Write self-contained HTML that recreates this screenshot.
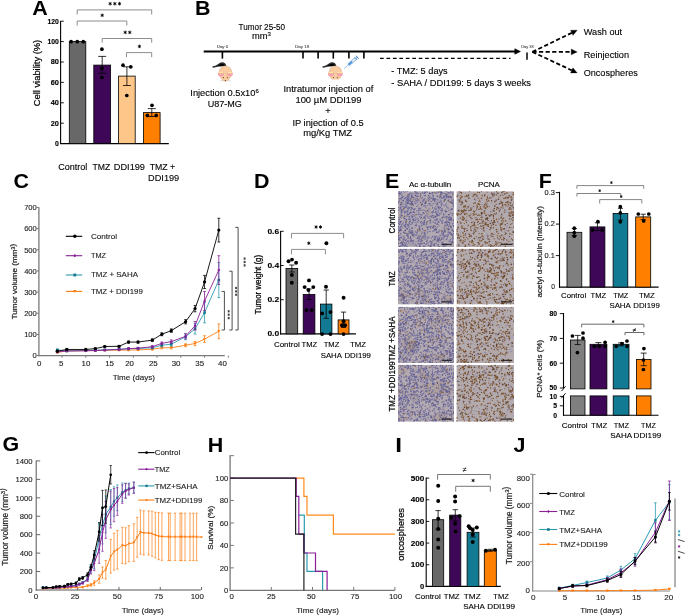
<!DOCTYPE html>
<html><head><meta charset="utf-8"><title>Figure</title>
<style>html,body{margin:0;padding:0;background:#fff;width:685px;height:615px;overflow:hidden}svg{display:block;will-change:transform}text{font-family:"Liberation Sans", sans-serif}</style>
</head><body><svg width="685" height="615" viewBox="0 0 685 615" font-family='"Liberation Sans", sans-serif'><rect width="685" height="615" fill="#fff"/><text transform="translate(32.2,14.6) scale(1.1,1)" font-size="19.5" font-weight="bold">A</text>
<line x1="60.6" y1="21" x2="60.6" y2="144.1" stroke="#000" stroke-width="1.1"/>
<line x1="60.1" y1="143.6" x2="168.8" y2="143.6" stroke="#000" stroke-width="1.1"/>
<line x1="60.6" y1="123.2" x2="63.8" y2="123.2" stroke="#000" stroke-width="0.9"/>
<line x1="60.6" y1="102.8" x2="63.8" y2="102.8" stroke="#000" stroke-width="0.9"/>
<line x1="60.6" y1="82.4" x2="63.8" y2="82.4" stroke="#000" stroke-width="0.9"/>
<line x1="60.6" y1="62" x2="63.8" y2="62" stroke="#000" stroke-width="0.9"/>
<line x1="60.6" y1="41.6" x2="63.8" y2="41.6" stroke="#000" stroke-width="0.9"/>
<line x1="60.6" y1="21.2" x2="63.8" y2="21.2" stroke="#000" stroke-width="0.9"/>
<text x="58.9" y="146" font-size="6.9" font-weight="bold" text-anchor="end" stroke="#000" stroke-width="0.12">0</text>
<text x="58.9" y="125.6" font-size="6.9" font-weight="bold" text-anchor="end" textLength="8.2" lengthAdjust="spacingAndGlyphs" stroke="#000" stroke-width="0.12">20</text>
<text x="58.9" y="105.2" font-size="6.9" font-weight="bold" text-anchor="end" textLength="8.2" lengthAdjust="spacingAndGlyphs" stroke="#000" stroke-width="0.12">40</text>
<text x="58.9" y="84.8" font-size="6.9" font-weight="bold" text-anchor="end" textLength="8.2" lengthAdjust="spacingAndGlyphs" stroke="#000" stroke-width="0.12">60</text>
<text x="58.9" y="64.4" font-size="6.9" font-weight="bold" text-anchor="end" textLength="8.2" lengthAdjust="spacingAndGlyphs" stroke="#000" stroke-width="0.12">80</text>
<text x="58.9" y="44" font-size="6.9" font-weight="bold" text-anchor="end" textLength="11.4" lengthAdjust="spacingAndGlyphs" stroke="#000" stroke-width="0.12">100</text>
<text x="58.9" y="23.6" font-size="6.9" font-weight="bold" text-anchor="end" textLength="11.4" lengthAdjust="spacingAndGlyphs" stroke="#000" stroke-width="0.12">120</text>
<text transform="translate(39.7,73) rotate(-90)" x="0" y="0" font-size="9.2" text-anchor="middle" textLength="66.5" lengthAdjust="spacingAndGlyphs" stroke="#000" stroke-width="0.22">Cell viability (%)</text>
<rect x="69.3" y="41.6" width="16.5" height="102" fill="#686868" stroke="#000" stroke-width="0.8"/>
<rect x="93.8" y="65.1" width="16.8" height="78.5" fill="#3e0757" stroke="#000" stroke-width="0.8"/>
<rect x="118.6" y="76.1" width="16.6" height="67.5" fill="#ffc689" stroke="#000" stroke-width="0.8"/>
<rect x="143.4" y="112.6" width="16.7" height="31" fill="#ff8000" stroke="#000" stroke-width="0.8"/>
<line x1="102.2" y1="56.4" x2="102.2" y2="73.3" stroke="#000" stroke-width="0.8"/>
<line x1="98.2" y1="56.4" x2="106.2" y2="56.4" stroke="#000" stroke-width="0.8"/>
<line x1="98.2" y1="73.3" x2="106.2" y2="73.3" stroke="#000" stroke-width="0.8"/>
<line x1="126.9" y1="66.8" x2="126.9" y2="85.5" stroke="#000" stroke-width="0.8"/>
<line x1="122.9" y1="66.8" x2="130.9" y2="66.8" stroke="#000" stroke-width="0.8"/>
<line x1="122.9" y1="85.5" x2="130.9" y2="85.5" stroke="#000" stroke-width="0.8"/>
<line x1="151.8" y1="108.6" x2="151.8" y2="116.5" stroke="#000" stroke-width="0.8"/>
<line x1="147.8" y1="108.6" x2="155.8" y2="108.6" stroke="#000" stroke-width="0.8"/>
<line x1="147.8" y1="116.5" x2="155.8" y2="116.5" stroke="#000" stroke-width="0.8"/>
<circle cx="71.1" cy="41.7" r="1.85" fill="#000"/>
<circle cx="77.3" cy="41.7" r="1.85" fill="#000"/>
<circle cx="83.3" cy="41.7" r="1.85" fill="#000"/>
<circle cx="101.9" cy="49.2" r="1.85" fill="#000"/>
<circle cx="101.9" cy="68.2" r="1.85" fill="#000"/>
<circle cx="101.9" cy="77.5" r="1.85" fill="#000"/>
<circle cx="123" cy="65.2" r="1.85" fill="#000"/>
<circle cx="130.8" cy="66.8" r="1.85" fill="#000"/>
<circle cx="126.8" cy="95.5" r="1.85" fill="#000"/>
<circle cx="152" cy="105.3" r="1.85" fill="#000"/>
<circle cx="147.4" cy="115.4" r="1.85" fill="#000"/>
<circle cx="156.2" cy="115.4" r="1.85" fill="#000"/>
<path d="M77.2,14.5 L77.2,9.9 L151.7,9.9 L151.7,14.5" stroke="#808080" stroke-width="0.9" fill="none"/>
<path d="M77.2,25.6 L77.2,21 L126.8,21 L126.8,25.6" stroke="#808080" stroke-width="0.9" fill="none"/>
<path d="M102.2,42.7 L102.2,38.5 L151.7,38.5 L151.7,42.7" stroke="#808080" stroke-width="0.9" fill="none"/>
<path d="M126.5,57.2 L126.5,52.6 L151.7,52.6 L151.7,57.2" stroke="#808080" stroke-width="0.9" fill="none"/>
<path d="M110.15,1.95 L110.15,5.45 M108.63,2.83 L111.67,4.58 M108.63,4.58 L111.67,2.83 " stroke="#000" stroke-width="0.9" fill="none"/>
<path d="M114.85,1.95 L114.85,5.45 M113.33,2.83 L116.37,4.58 M113.33,4.58 L116.37,2.83 " stroke="#000" stroke-width="0.9" fill="none"/>
<path d="M119.55,1.95 L119.55,5.45 M118.03,2.83 L121.07,4.58 M118.03,4.58 L121.07,2.83 " stroke="#000" stroke-width="0.9" fill="none"/>
<path d="M102.2,13.55 L102.2,17.05 M100.68,14.43 L103.72,16.18 M100.68,16.18 L103.72,14.43 " stroke="#000" stroke-width="0.9" fill="none"/>
<path d="M125.2,30.65 L125.2,34.15 M123.68,31.52 L126.72,33.27 M123.68,33.27 L126.72,31.52 " stroke="#000" stroke-width="0.9" fill="none"/>
<path d="M129.8,30.65 L129.8,34.15 M128.28,31.52 L131.32,33.27 M128.28,33.27 L131.32,31.52 " stroke="#000" stroke-width="0.9" fill="none"/>
<path d="M139.4,44.65 L139.4,48.15 M137.88,45.52 L140.92,47.27 M137.88,47.27 L140.92,45.52 " stroke="#000" stroke-width="0.9" fill="none"/>
<text x="58.2" y="169.7" font-size="9.3" textLength="29.2" lengthAdjust="spacingAndGlyphs" stroke="#000" stroke-width="0.12">Control</text>
<text x="92.5" y="169.7" font-size="9.3" textLength="17.8" lengthAdjust="spacingAndGlyphs" stroke="#000" stroke-width="0.12">TMZ</text>
<text x="113.8" y="169.7" font-size="9.3" textLength="31.2" lengthAdjust="spacingAndGlyphs" stroke="#000" stroke-width="0.12">DDI199</text>
<text x="149.7" y="169.7" font-size="9.3" textLength="25.4" lengthAdjust="spacingAndGlyphs" stroke="#000" stroke-width="0.12">TMZ +</text>
<text x="148.1" y="180.5" font-size="9.3" textLength="31.1" lengthAdjust="spacingAndGlyphs" stroke="#000" stroke-width="0.12">DDI199</text>
<text transform="translate(195.1,15) scale(1.1,1)" font-size="19.5" font-weight="bold">B</text>
<line x1="203.7" y1="51.5" x2="516" y2="51.5" stroke="#000" stroke-width="1.9"/>
<path d="M514.8,48.8 L520.4,51.5 L514.8,54.2 Z" stroke="#000" stroke-width="0.6" fill="#000"/>
<line x1="222.4" y1="51.5" x2="222.4" y2="58.6" stroke="#000" stroke-width="1.6"/>
<line x1="303" y1="51.5" x2="303" y2="58.6" stroke="#000" stroke-width="1.6"/>
<line x1="318.1" y1="51.5" x2="318.1" y2="58.6" stroke="#000" stroke-width="1.6"/>
<line x1="333.3" y1="51.5" x2="333.3" y2="58.6" stroke="#000" stroke-width="1.6"/>
<line x1="348.9" y1="51.5" x2="348.9" y2="58.6" stroke="#000" stroke-width="1.6"/>
<line x1="363.9" y1="51.5" x2="363.9" y2="58.6" stroke="#000" stroke-width="1.6"/>
<text x="216.8" y="47.7" font-size="4.0" textLength="11.4" lengthAdjust="spacingAndGlyphs" fill="#555" stroke="#555" stroke-width="0.12">Day 0</text>
<text x="295" y="47.7" font-size="4.0" textLength="14.2" lengthAdjust="spacingAndGlyphs" fill="#555" stroke="#555" stroke-width="0.12">Day 18</text>
<text x="521.2" y="47.7" font-size="4.0" textLength="12.4" lengthAdjust="spacingAndGlyphs" fill="#555" stroke="#555" stroke-width="0.12">Day 38</text>
<line x1="380" y1="58.3" x2="510.5" y2="58.3" stroke="#000" stroke-width="1.3" stroke-dasharray="3.7 2.75"/>
<line x1="527" y1="52.6" x2="527" y2="59.7" stroke="#000" stroke-width="1.5"/>
<line x1="532.4" y1="51.9" x2="571.8" y2="32.82" stroke="#000" stroke-width="1.8" stroke-dasharray="4.2 2.4"/>
<path d="M577.2,30.2 L573.02,35.34 L570.58,30.3 Z" stroke="#000" stroke-width="0.3" fill="#000"/>
<line x1="532.4" y1="51.9" x2="571.2" y2="51.9" stroke="#000" stroke-width="1.8" stroke-dasharray="4.2 2.4"/>
<path d="M577.2,51.9 L571.2,54.7 L571.2,49.1 Z" stroke="#000" stroke-width="0.3" fill="#000"/>
<line x1="532.4" y1="51.9" x2="571.77" y2="70.35" stroke="#000" stroke-width="1.8" stroke-dasharray="4.2 2.4"/>
<path d="M577.2,72.9 L570.58,72.89 L572.96,67.82 Z" stroke="#000" stroke-width="0.3" fill="#000"/>
<text x="583.7" y="35.3" font-size="9.9" textLength="38.5" lengthAdjust="spacingAndGlyphs" stroke="#000" stroke-width="0.12">Wash out</text>
<text x="583.7" y="57.6" font-size="9.9" textLength="45.3" lengthAdjust="spacingAndGlyphs" stroke="#000" stroke-width="0.12">Reinjection</text>
<text x="583.7" y="76" font-size="9.9" textLength="54.1" lengthAdjust="spacingAndGlyphs" stroke="#000" stroke-width="0.12">Oncospheres</text>
<text x="238.6" y="29.6" font-size="9.3" textLength="46.4" lengthAdjust="spacingAndGlyphs" stroke="#000" stroke-width="0.12">Tumor 25-50</text>
<text x="252" y="39.3" font-size="9.3" stroke="#000" stroke-width="0.12">mm<tspan font-size="6" dy="-3.3">3</tspan></text>
<text x="391.2" y="74.3" font-size="9.3" textLength="56.5" lengthAdjust="spacingAndGlyphs" stroke="#000" stroke-width="0.12">- TMZ: 5 days</text>
<text x="391.2" y="86.3" font-size="9.3" textLength="139.8" lengthAdjust="spacingAndGlyphs" stroke="#000" stroke-width="0.12">- SAHA / DDI199: 5 days 3 weeks</text>
<text x="190.3" y="96" font-size="9.3" stroke="#000" stroke-width="0.12">Injection 0.5x10<tspan font-size="6" dy="-3.3">6</tspan></text>
<text x="207.8" y="107.2" font-size="9.3" textLength="34.1" lengthAdjust="spacingAndGlyphs" stroke="#000" stroke-width="0.12">U87-MG</text>
<text x="283.4" y="91.7" font-size="9.3" textLength="89.9" lengthAdjust="spacingAndGlyphs" stroke="#000" stroke-width="0.12">Intratumor injection of</text>
<text x="295.4" y="102.8" font-size="9.3" textLength="66.2" lengthAdjust="spacingAndGlyphs" stroke="#000" stroke-width="0.12">100 µM DDI199</text>
<text x="328" y="113.5" font-size="9.3" text-anchor="middle" stroke="#000" stroke-width="0.12">+</text>
<text x="292.4" y="125.8" font-size="9.3" textLength="71.3" lengthAdjust="spacingAndGlyphs" stroke="#000" stroke-width="0.12">IP injection of 0.5</text>
<text x="303.2" y="135.5" font-size="9.3" textLength="48.8" lengthAdjust="spacingAndGlyphs" stroke="#000" stroke-width="0.12">mg/Kg TMZ</text>
<path d="M225.7,65.9 C224.8,63.7 222.8,62.7 221,63.2 C218.8,63.9 216.8,67.1 212.6,67" stroke="#2a2a2a" stroke-width="1.35" fill=" stroke-linecap="round""/>
<line x1="223.2" y1="79.7" x2="219.8" y2="80.9" stroke="#c8c8c8" stroke-width="0.45"/>
<line x1="223.2" y1="80.1" x2="220.4" y2="81.9" stroke="#d0d0d0" stroke-width="0.45"/>
<line x1="227.6" y1="79.7" x2="231" y2="80.9" stroke="#c8c8c8" stroke-width="0.45"/>
<line x1="227.6" y1="80.1" x2="230.4" y2="81.9" stroke="#d0d0d0" stroke-width="0.45"/>
<path d="M219.1,72.2 A6.3,6.3 0 0 1 231.7,72.2 C231.7,76.7 228.6,80.7 225.4,81.5 C222.2,80.7 219.1,76.7 219.1,72.2 Z" fill="#f9cba0" stroke="#caa07c" stroke-width="0.45"/>
<ellipse cx="220.9" cy="74.1" rx="3.0" ry="2.3" fill="#f7a3ad"/>
<ellipse cx="220.9" cy="72.5" rx="2.6" ry="0.85" fill="#f8e89e"/>
<line x1="224.2" y1="72.9" x2="223" y2="74.7" stroke="#d7a985" stroke-width="0.5"/>
<ellipse cx="229.9" cy="74.1" rx="3.0" ry="2.3" fill="#f7a3ad"/>
<ellipse cx="229.9" cy="72.5" rx="2.6" ry="0.85" fill="#f8e89e"/>
<line x1="226.6" y1="72.9" x2="227.8" y2="74.7" stroke="#d7a985" stroke-width="0.5"/>
<circle cx="223.5" cy="77.6" r="0.55" fill="#5a3a2a"/>
<circle cx="227.3" cy="77.6" r="0.55" fill="#5a3a2a"/>
<circle cx="225.4" cy="80.5" r="0.6" fill="#5a3a2a"/>
<defs><clipPath id="mc335"><rect x="315.4" y="53.5" width="40" height="25.9"/></clipPath></defs>
<g clip-path="url(#mc335)">
<path d="M335.7,65.9 C334.8,63.7 332.8,62.7 331,63.2 C328.8,63.9 326.8,67.1 322.6,67" stroke="#2a2a2a" stroke-width="1.35" fill=" stroke-linecap="round""/>
<line x1="333.2" y1="79.7" x2="329.8" y2="80.9" stroke="#c8c8c8" stroke-width="0.45"/>
<line x1="333.2" y1="80.1" x2="330.4" y2="81.9" stroke="#d0d0d0" stroke-width="0.45"/>
<line x1="337.6" y1="79.7" x2="341" y2="80.9" stroke="#c8c8c8" stroke-width="0.45"/>
<line x1="337.6" y1="80.1" x2="340.4" y2="81.9" stroke="#d0d0d0" stroke-width="0.45"/>
<path d="M329.1,72.2 A6.3,6.3 0 0 1 341.7,72.2 C341.7,76.7 338.6,80.7 335.4,81.5 C332.2,80.7 329.1,76.7 329.1,72.2 Z" fill="#f9cba0" stroke="#caa07c" stroke-width="0.45"/>
<ellipse cx="330.9" cy="74.1" rx="3.0" ry="2.3" fill="#f7a3ad"/>
<ellipse cx="330.9" cy="72.5" rx="2.6" ry="0.85" fill="#f8e89e"/>
<line x1="334.2" y1="72.9" x2="333" y2="74.7" stroke="#d7a985" stroke-width="0.5"/>
<ellipse cx="339.9" cy="74.1" rx="3.0" ry="2.3" fill="#f7a3ad"/>
<ellipse cx="339.9" cy="72.5" rx="2.6" ry="0.85" fill="#f8e89e"/>
<line x1="336.6" y1="72.9" x2="337.8" y2="74.7" stroke="#d7a985" stroke-width="0.5"/>
<circle cx="333.5" cy="77.6" r="0.55" fill="#5a3a2a"/>
<circle cx="337.3" cy="77.6" r="0.55" fill="#5a3a2a"/>
<circle cx="335.4" cy="80.5" r="0.6" fill="#5a3a2a"/>
</g>
<g transform="translate(344.0,68.7) rotate(-40.75)"><line x1="0" y1="0" x2="6" y2="0" stroke="#5a9ad6" stroke-width="0.55"/><rect x="6" y="-1.2" width="9.6" height="2.4" fill="#e6f0fa" stroke="#3f82c8" stroke-width="0.5"/><rect x="6.2" y="-0.95" width="4.6" height="1.9" fill="#4a98dc"/><line x1="15.6" y1="0" x2="17.6" y2="0" stroke="#3f82c8" stroke-width="0.8"/><line x1="17.6" y1="-2" x2="17.6" y2="2" stroke="#3f82c8" stroke-width="0.9"/><line x1="15.6" y1="-2" x2="15.6" y2="2" stroke="#3f82c8" stroke-width="0.6"/></g>
<text transform="translate(13.5,187.6) scale(1.1,1)" font-size="19.5" font-weight="bold">C</text>
<line x1="38.9" y1="207.2" x2="38.9" y2="356.2" stroke="#7a7a7a" stroke-width="1.3"/>
<line x1="38.3" y1="355.6" x2="224.8" y2="355.6" stroke="#7a7a7a" stroke-width="1.3"/>
<line x1="36.8" y1="355.6" x2="38.9" y2="355.6" stroke="#7a7a7a" stroke-width="1"/>
<text x="36.8" y="358.3" font-size="7.6" text-anchor="end" fill="#222" stroke="#222" stroke-width="0.12">0</text>
<line x1="36.8" y1="334.44" x2="38.9" y2="334.44" stroke="#7a7a7a" stroke-width="1"/>
<text x="36.8" y="337.14" font-size="7.6" text-anchor="end" fill="#222" stroke="#222" stroke-width="0.12">100</text>
<line x1="36.8" y1="313.28" x2="38.9" y2="313.28" stroke="#7a7a7a" stroke-width="1"/>
<text x="36.8" y="315.98" font-size="7.6" text-anchor="end" fill="#222" stroke="#222" stroke-width="0.12">200</text>
<line x1="36.8" y1="292.12" x2="38.9" y2="292.12" stroke="#7a7a7a" stroke-width="1"/>
<text x="36.8" y="294.82" font-size="7.6" text-anchor="end" fill="#222" stroke="#222" stroke-width="0.12">300</text>
<line x1="36.8" y1="270.96" x2="38.9" y2="270.96" stroke="#7a7a7a" stroke-width="1"/>
<text x="36.8" y="273.66" font-size="7.6" text-anchor="end" fill="#222" stroke="#222" stroke-width="0.12">400</text>
<line x1="36.8" y1="249.8" x2="38.9" y2="249.8" stroke="#7a7a7a" stroke-width="1"/>
<text x="36.8" y="252.5" font-size="7.6" text-anchor="end" fill="#222" stroke="#222" stroke-width="0.12">500</text>
<line x1="36.8" y1="228.64" x2="38.9" y2="228.64" stroke="#7a7a7a" stroke-width="1"/>
<text x="36.8" y="231.34" font-size="7.6" text-anchor="end" fill="#222" stroke="#222" stroke-width="0.12">600</text>
<line x1="36.8" y1="207.48" x2="38.9" y2="207.48" stroke="#7a7a7a" stroke-width="1"/>
<text x="36.8" y="210.18" font-size="7.6" text-anchor="end" fill="#222" stroke="#222" stroke-width="0.12">700</text>
<line x1="62.05" y1="355.6" x2="62.05" y2="357.7" stroke="#7a7a7a" stroke-width="1"/>
<line x1="85.8" y1="355.6" x2="85.8" y2="357.7" stroke="#7a7a7a" stroke-width="1"/>
<line x1="109.55" y1="355.6" x2="109.55" y2="357.7" stroke="#7a7a7a" stroke-width="1"/>
<line x1="133.3" y1="355.6" x2="133.3" y2="357.7" stroke="#7a7a7a" stroke-width="1"/>
<line x1="157.05" y1="355.6" x2="157.05" y2="357.7" stroke="#7a7a7a" stroke-width="1"/>
<line x1="180.8" y1="355.6" x2="180.8" y2="357.7" stroke="#7a7a7a" stroke-width="1"/>
<line x1="204.55" y1="355.6" x2="204.55" y2="357.7" stroke="#7a7a7a" stroke-width="1"/>
<line x1="228.3" y1="355.6" x2="228.3" y2="357.7" stroke="#7a7a7a" stroke-width="1"/>
<text x="39.2" y="366.2" font-size="7.9" text-anchor="middle" fill="#222" stroke="#222" stroke-width="0.12">0</text>
<text x="61.1" y="366.2" font-size="7.9" text-anchor="middle" fill="#222" stroke="#222" stroke-width="0.12">5</text>
<text x="85.9" y="366.2" font-size="7.9" text-anchor="middle" fill="#222" stroke="#222" stroke-width="0.12">10</text>
<text x="109.6" y="366.2" font-size="7.9" text-anchor="middle" fill="#222" stroke="#222" stroke-width="0.12">15</text>
<text x="129.6" y="366.2" font-size="7.9" text-anchor="middle" fill="#222" stroke="#222" stroke-width="0.12">20</text>
<text x="153.3" y="366.2" font-size="7.9" text-anchor="middle" fill="#222" stroke="#222" stroke-width="0.12">25</text>
<text x="176.1" y="366.2" font-size="7.9" text-anchor="middle" fill="#222" stroke="#222" stroke-width="0.12">30</text>
<text x="199.7" y="366.2" font-size="7.9" text-anchor="middle" fill="#222" stroke="#222" stroke-width="0.12">35</text>
<text x="222.5" y="366.2" font-size="7.9" text-anchor="middle" fill="#222" stroke="#222" stroke-width="0.12">40</text>
<text x="112.7" y="379.6" font-size="7.9" textLength="42.3" lengthAdjust="spacingAndGlyphs" fill="#222" stroke="#222" stroke-width="0.12">Time (days)</text>
<text transform="translate(17.4,281.6) rotate(-90)" x="0" y="0" font-size="8.1" text-anchor="middle" fill="#222" stroke="#222" stroke-width="0.22">Tumor volume (mm<tspan font-size="5.2" dy="-2.7">3</tspan>)</text>
<path d="M57.3,352.43 L66.8,350.94 L85.8,350.73 L95.3,350.52 L104.8,350.31 L119.05,350.1 L128.55,350.1 L138.05,349.89 L152.3,349.25 L161.8,347.77 L171.3,347.77 L185.55,345.23 L195.05,343.54 L204.55,339.1 L218.8,331.27" stroke="#ff7f14" stroke-width="0.9" fill="none"/>
<line x1="57.3" y1="351.79" x2="57.3" y2="353.06" stroke="#ff7f14" stroke-width="0.8"/>
<line x1="55.9" y1="351.79" x2="58.7" y2="351.79" stroke="#ff7f14" stroke-width="0.8"/>
<line x1="55.9" y1="353.06" x2="58.7" y2="353.06" stroke="#ff7f14" stroke-width="0.8"/>
<line x1="66.8" y1="350.31" x2="66.8" y2="351.58" stroke="#ff7f14" stroke-width="0.8"/>
<line x1="65.4" y1="350.31" x2="68.2" y2="350.31" stroke="#ff7f14" stroke-width="0.8"/>
<line x1="65.4" y1="351.58" x2="68.2" y2="351.58" stroke="#ff7f14" stroke-width="0.8"/>
<line x1="85.8" y1="350.1" x2="85.8" y2="351.37" stroke="#ff7f14" stroke-width="0.8"/>
<line x1="84.4" y1="350.1" x2="87.2" y2="350.1" stroke="#ff7f14" stroke-width="0.8"/>
<line x1="84.4" y1="351.37" x2="87.2" y2="351.37" stroke="#ff7f14" stroke-width="0.8"/>
<line x1="95.3" y1="349.89" x2="95.3" y2="351.16" stroke="#ff7f14" stroke-width="0.8"/>
<line x1="93.9" y1="349.89" x2="96.7" y2="349.89" stroke="#ff7f14" stroke-width="0.8"/>
<line x1="93.9" y1="351.16" x2="96.7" y2="351.16" stroke="#ff7f14" stroke-width="0.8"/>
<line x1="104.8" y1="349.68" x2="104.8" y2="350.94" stroke="#ff7f14" stroke-width="0.8"/>
<line x1="103.4" y1="349.68" x2="106.2" y2="349.68" stroke="#ff7f14" stroke-width="0.8"/>
<line x1="103.4" y1="350.94" x2="106.2" y2="350.94" stroke="#ff7f14" stroke-width="0.8"/>
<line x1="119.05" y1="349.46" x2="119.05" y2="350.73" stroke="#ff7f14" stroke-width="0.8"/>
<line x1="117.65" y1="349.46" x2="120.45" y2="349.46" stroke="#ff7f14" stroke-width="0.8"/>
<line x1="117.65" y1="350.73" x2="120.45" y2="350.73" stroke="#ff7f14" stroke-width="0.8"/>
<line x1="128.55" y1="349.46" x2="128.55" y2="350.73" stroke="#ff7f14" stroke-width="0.8"/>
<line x1="127.15" y1="349.46" x2="129.95" y2="349.46" stroke="#ff7f14" stroke-width="0.8"/>
<line x1="127.15" y1="350.73" x2="129.95" y2="350.73" stroke="#ff7f14" stroke-width="0.8"/>
<line x1="138.05" y1="349.25" x2="138.05" y2="350.52" stroke="#ff7f14" stroke-width="0.8"/>
<line x1="136.65" y1="349.25" x2="139.45" y2="349.25" stroke="#ff7f14" stroke-width="0.8"/>
<line x1="136.65" y1="350.52" x2="139.45" y2="350.52" stroke="#ff7f14" stroke-width="0.8"/>
<line x1="152.3" y1="348.41" x2="152.3" y2="350.1" stroke="#ff7f14" stroke-width="0.8"/>
<line x1="150.9" y1="348.41" x2="153.7" y2="348.41" stroke="#ff7f14" stroke-width="0.8"/>
<line x1="150.9" y1="350.1" x2="153.7" y2="350.1" stroke="#ff7f14" stroke-width="0.8"/>
<line x1="161.8" y1="346.71" x2="161.8" y2="348.83" stroke="#ff7f14" stroke-width="0.8"/>
<line x1="160.4" y1="346.71" x2="163.2" y2="346.71" stroke="#ff7f14" stroke-width="0.8"/>
<line x1="160.4" y1="348.83" x2="163.2" y2="348.83" stroke="#ff7f14" stroke-width="0.8"/>
<line x1="171.3" y1="346.71" x2="171.3" y2="348.83" stroke="#ff7f14" stroke-width="0.8"/>
<line x1="169.9" y1="346.71" x2="172.7" y2="346.71" stroke="#ff7f14" stroke-width="0.8"/>
<line x1="169.9" y1="348.83" x2="172.7" y2="348.83" stroke="#ff7f14" stroke-width="0.8"/>
<line x1="185.55" y1="343.75" x2="185.55" y2="346.71" stroke="#ff7f14" stroke-width="0.8"/>
<line x1="184.15" y1="343.75" x2="186.95" y2="343.75" stroke="#ff7f14" stroke-width="0.8"/>
<line x1="184.15" y1="346.71" x2="186.95" y2="346.71" stroke="#ff7f14" stroke-width="0.8"/>
<line x1="195.05" y1="341.42" x2="195.05" y2="345.65" stroke="#ff7f14" stroke-width="0.8"/>
<line x1="193.65" y1="341.42" x2="196.45" y2="341.42" stroke="#ff7f14" stroke-width="0.8"/>
<line x1="193.65" y1="345.65" x2="196.45" y2="345.65" stroke="#ff7f14" stroke-width="0.8"/>
<line x1="204.55" y1="335.71" x2="204.55" y2="342.48" stroke="#ff7f14" stroke-width="0.8"/>
<line x1="203.15" y1="335.71" x2="205.95" y2="335.71" stroke="#ff7f14" stroke-width="0.8"/>
<line x1="203.15" y1="342.48" x2="205.95" y2="342.48" stroke="#ff7f14" stroke-width="0.8"/>
<line x1="218.8" y1="323.86" x2="218.8" y2="338.67" stroke="#ff7f14" stroke-width="0.8"/>
<line x1="217.4" y1="323.86" x2="220.2" y2="323.86" stroke="#ff7f14" stroke-width="0.8"/>
<line x1="217.4" y1="338.67" x2="220.2" y2="338.67" stroke="#ff7f14" stroke-width="0.8"/>
<path d="M55.8,351.23 L58.8,351.23 L57.3,353.93 Z" fill="#ff7f14"/>
<path d="M65.3,349.74 L68.3,349.74 L66.8,352.44 Z" fill="#ff7f14"/>
<path d="M84.3,349.53 L87.3,349.53 L85.8,352.23 Z" fill="#ff7f14"/>
<path d="M93.8,349.32 L96.8,349.32 L95.3,352.02 Z" fill="#ff7f14"/>
<path d="M103.3,349.11 L106.3,349.11 L104.8,351.81 Z" fill="#ff7f14"/>
<path d="M117.55,348.9 L120.55,348.9 L119.05,351.6 Z" fill="#ff7f14"/>
<path d="M127.05,348.9 L130.05,348.9 L128.55,351.6 Z" fill="#ff7f14"/>
<path d="M136.55,348.69 L139.55,348.69 L138.05,351.39 Z" fill="#ff7f14"/>
<path d="M150.8,348.05 L153.8,348.05 L152.3,350.75 Z" fill="#ff7f14"/>
<path d="M160.3,346.57 L163.3,346.57 L161.8,349.27 Z" fill="#ff7f14"/>
<path d="M169.8,346.57 L172.8,346.57 L171.3,349.27 Z" fill="#ff7f14"/>
<path d="M184.05,344.03 L187.05,344.03 L185.55,346.73 Z" fill="#ff7f14"/>
<path d="M193.55,342.34 L196.55,342.34 L195.05,345.04 Z" fill="#ff7f14"/>
<path d="M203.05,337.9 L206.05,337.9 L204.55,340.6 Z" fill="#ff7f14"/>
<path d="M217.3,330.07 L220.3,330.07 L218.8,332.77 Z" fill="#ff7f14"/>
<path d="M57.3,349.89 L66.8,350.94 L85.8,350.52 L95.3,350.31 L104.8,349.89 L119.05,349.25 L128.55,348.83 L138.05,348.41 L152.3,347.77 L161.8,345.23 L171.3,344.17 L185.55,336.77 L195.05,328.73 L204.55,312.65 L218.8,280.06" stroke="#2b9bb0" stroke-width="0.9" fill="none"/>
<line x1="57.3" y1="349.25" x2="57.3" y2="350.52" stroke="#2b9bb0" stroke-width="0.8"/>
<line x1="55.9" y1="349.25" x2="58.7" y2="349.25" stroke="#2b9bb0" stroke-width="0.8"/>
<line x1="55.9" y1="350.52" x2="58.7" y2="350.52" stroke="#2b9bb0" stroke-width="0.8"/>
<line x1="66.8" y1="350.31" x2="66.8" y2="351.58" stroke="#2b9bb0" stroke-width="0.8"/>
<line x1="65.4" y1="350.31" x2="68.2" y2="350.31" stroke="#2b9bb0" stroke-width="0.8"/>
<line x1="65.4" y1="351.58" x2="68.2" y2="351.58" stroke="#2b9bb0" stroke-width="0.8"/>
<line x1="85.8" y1="349.89" x2="85.8" y2="351.16" stroke="#2b9bb0" stroke-width="0.8"/>
<line x1="84.4" y1="349.89" x2="87.2" y2="349.89" stroke="#2b9bb0" stroke-width="0.8"/>
<line x1="84.4" y1="351.16" x2="87.2" y2="351.16" stroke="#2b9bb0" stroke-width="0.8"/>
<line x1="95.3" y1="349.68" x2="95.3" y2="350.94" stroke="#2b9bb0" stroke-width="0.8"/>
<line x1="93.9" y1="349.68" x2="96.7" y2="349.68" stroke="#2b9bb0" stroke-width="0.8"/>
<line x1="93.9" y1="350.94" x2="96.7" y2="350.94" stroke="#2b9bb0" stroke-width="0.8"/>
<line x1="104.8" y1="349.25" x2="104.8" y2="350.52" stroke="#2b9bb0" stroke-width="0.8"/>
<line x1="103.4" y1="349.25" x2="106.2" y2="349.25" stroke="#2b9bb0" stroke-width="0.8"/>
<line x1="103.4" y1="350.52" x2="106.2" y2="350.52" stroke="#2b9bb0" stroke-width="0.8"/>
<line x1="119.05" y1="348.62" x2="119.05" y2="349.89" stroke="#2b9bb0" stroke-width="0.8"/>
<line x1="117.65" y1="348.62" x2="120.45" y2="348.62" stroke="#2b9bb0" stroke-width="0.8"/>
<line x1="117.65" y1="349.89" x2="120.45" y2="349.89" stroke="#2b9bb0" stroke-width="0.8"/>
<line x1="128.55" y1="347.98" x2="128.55" y2="349.68" stroke="#2b9bb0" stroke-width="0.8"/>
<line x1="127.15" y1="347.98" x2="129.95" y2="347.98" stroke="#2b9bb0" stroke-width="0.8"/>
<line x1="127.15" y1="349.68" x2="129.95" y2="349.68" stroke="#2b9bb0" stroke-width="0.8"/>
<line x1="138.05" y1="347.56" x2="138.05" y2="349.25" stroke="#2b9bb0" stroke-width="0.8"/>
<line x1="136.65" y1="347.56" x2="139.45" y2="347.56" stroke="#2b9bb0" stroke-width="0.8"/>
<line x1="136.65" y1="349.25" x2="139.45" y2="349.25" stroke="#2b9bb0" stroke-width="0.8"/>
<line x1="152.3" y1="346.71" x2="152.3" y2="348.83" stroke="#2b9bb0" stroke-width="0.8"/>
<line x1="150.9" y1="346.71" x2="153.7" y2="346.71" stroke="#2b9bb0" stroke-width="0.8"/>
<line x1="150.9" y1="348.83" x2="153.7" y2="348.83" stroke="#2b9bb0" stroke-width="0.8"/>
<line x1="161.8" y1="343.54" x2="161.8" y2="346.92" stroke="#2b9bb0" stroke-width="0.8"/>
<line x1="160.4" y1="343.54" x2="163.2" y2="343.54" stroke="#2b9bb0" stroke-width="0.8"/>
<line x1="160.4" y1="346.92" x2="163.2" y2="346.92" stroke="#2b9bb0" stroke-width="0.8"/>
<line x1="171.3" y1="342.27" x2="171.3" y2="346.08" stroke="#2b9bb0" stroke-width="0.8"/>
<line x1="169.9" y1="342.27" x2="172.7" y2="342.27" stroke="#2b9bb0" stroke-width="0.8"/>
<line x1="169.9" y1="346.08" x2="172.7" y2="346.08" stroke="#2b9bb0" stroke-width="0.8"/>
<line x1="185.55" y1="333.81" x2="185.55" y2="339.73" stroke="#2b9bb0" stroke-width="0.8"/>
<line x1="184.15" y1="333.81" x2="186.95" y2="333.81" stroke="#2b9bb0" stroke-width="0.8"/>
<line x1="184.15" y1="339.73" x2="186.95" y2="339.73" stroke="#2b9bb0" stroke-width="0.8"/>
<line x1="195.05" y1="323.44" x2="195.05" y2="334.02" stroke="#2b9bb0" stroke-width="0.8"/>
<line x1="193.65" y1="323.44" x2="196.45" y2="323.44" stroke="#2b9bb0" stroke-width="0.8"/>
<line x1="193.65" y1="334.02" x2="196.45" y2="334.02" stroke="#2b9bb0" stroke-width="0.8"/>
<line x1="204.55" y1="302.49" x2="204.55" y2="322.8" stroke="#2b9bb0" stroke-width="0.8"/>
<line x1="203.15" y1="302.49" x2="205.95" y2="302.49" stroke="#2b9bb0" stroke-width="0.8"/>
<line x1="203.15" y1="322.8" x2="205.95" y2="322.8" stroke="#2b9bb0" stroke-width="0.8"/>
<line x1="218.8" y1="262.5" x2="218.8" y2="297.62" stroke="#2b9bb0" stroke-width="0.8"/>
<line x1="217.4" y1="262.5" x2="220.2" y2="262.5" stroke="#2b9bb0" stroke-width="0.8"/>
<line x1="217.4" y1="297.62" x2="220.2" y2="297.62" stroke="#2b9bb0" stroke-width="0.8"/>
<rect x="56" y="348.59" width="2.6" height="2.6" fill="#17798e"/>
<rect x="65.5" y="349.64" width="2.6" height="2.6" fill="#17798e"/>
<rect x="84.5" y="349.22" width="2.6" height="2.6" fill="#17798e"/>
<rect x="94" y="349.01" width="2.6" height="2.6" fill="#17798e"/>
<rect x="103.5" y="348.59" width="2.6" height="2.6" fill="#17798e"/>
<rect x="117.75" y="347.95" width="2.6" height="2.6" fill="#17798e"/>
<rect x="127.25" y="347.53" width="2.6" height="2.6" fill="#17798e"/>
<rect x="136.75" y="347.11" width="2.6" height="2.6" fill="#17798e"/>
<rect x="151" y="346.47" width="2.6" height="2.6" fill="#17798e"/>
<rect x="160.5" y="343.93" width="2.6" height="2.6" fill="#17798e"/>
<rect x="170" y="342.87" width="2.6" height="2.6" fill="#17798e"/>
<rect x="184.25" y="335.47" width="2.6" height="2.6" fill="#17798e"/>
<rect x="193.75" y="327.43" width="2.6" height="2.6" fill="#17798e"/>
<rect x="203.25" y="311.35" width="2.6" height="2.6" fill="#17798e"/>
<rect x="217.5" y="278.76" width="2.6" height="2.6" fill="#17798e"/>
<path d="M57.3,352 L66.8,350.94 L85.8,350.73 L95.3,350.52 L104.8,350.1 L119.05,349.46 L128.55,348.62 L138.05,348.19 L152.3,346.71 L161.8,343.33 L171.3,341.63 L185.55,336.34 L195.05,325.76 L204.55,301.01 L218.8,270.11" stroke="#8a1f98" stroke-width="0.9" fill="none"/>
<line x1="57.3" y1="351.37" x2="57.3" y2="352.64" stroke="#8a1f98" stroke-width="0.8"/>
<line x1="55.9" y1="351.37" x2="58.7" y2="351.37" stroke="#8a1f98" stroke-width="0.8"/>
<line x1="55.9" y1="352.64" x2="58.7" y2="352.64" stroke="#8a1f98" stroke-width="0.8"/>
<line x1="66.8" y1="350.31" x2="66.8" y2="351.58" stroke="#8a1f98" stroke-width="0.8"/>
<line x1="65.4" y1="350.31" x2="68.2" y2="350.31" stroke="#8a1f98" stroke-width="0.8"/>
<line x1="65.4" y1="351.58" x2="68.2" y2="351.58" stroke="#8a1f98" stroke-width="0.8"/>
<line x1="85.8" y1="350.1" x2="85.8" y2="351.37" stroke="#8a1f98" stroke-width="0.8"/>
<line x1="84.4" y1="350.1" x2="87.2" y2="350.1" stroke="#8a1f98" stroke-width="0.8"/>
<line x1="84.4" y1="351.37" x2="87.2" y2="351.37" stroke="#8a1f98" stroke-width="0.8"/>
<line x1="95.3" y1="349.89" x2="95.3" y2="351.16" stroke="#8a1f98" stroke-width="0.8"/>
<line x1="93.9" y1="349.89" x2="96.7" y2="349.89" stroke="#8a1f98" stroke-width="0.8"/>
<line x1="93.9" y1="351.16" x2="96.7" y2="351.16" stroke="#8a1f98" stroke-width="0.8"/>
<line x1="104.8" y1="349.46" x2="104.8" y2="350.73" stroke="#8a1f98" stroke-width="0.8"/>
<line x1="103.4" y1="349.46" x2="106.2" y2="349.46" stroke="#8a1f98" stroke-width="0.8"/>
<line x1="103.4" y1="350.73" x2="106.2" y2="350.73" stroke="#8a1f98" stroke-width="0.8"/>
<line x1="119.05" y1="348.83" x2="119.05" y2="350.1" stroke="#8a1f98" stroke-width="0.8"/>
<line x1="117.65" y1="348.83" x2="120.45" y2="348.83" stroke="#8a1f98" stroke-width="0.8"/>
<line x1="117.65" y1="350.1" x2="120.45" y2="350.1" stroke="#8a1f98" stroke-width="0.8"/>
<line x1="128.55" y1="347.77" x2="128.55" y2="349.46" stroke="#8a1f98" stroke-width="0.8"/>
<line x1="127.15" y1="347.77" x2="129.95" y2="347.77" stroke="#8a1f98" stroke-width="0.8"/>
<line x1="127.15" y1="349.46" x2="129.95" y2="349.46" stroke="#8a1f98" stroke-width="0.8"/>
<line x1="138.05" y1="347.35" x2="138.05" y2="349.04" stroke="#8a1f98" stroke-width="0.8"/>
<line x1="136.65" y1="347.35" x2="139.45" y2="347.35" stroke="#8a1f98" stroke-width="0.8"/>
<line x1="136.65" y1="349.04" x2="139.45" y2="349.04" stroke="#8a1f98" stroke-width="0.8"/>
<line x1="152.3" y1="345.65" x2="152.3" y2="347.77" stroke="#8a1f98" stroke-width="0.8"/>
<line x1="150.9" y1="345.65" x2="153.7" y2="345.65" stroke="#8a1f98" stroke-width="0.8"/>
<line x1="150.9" y1="347.77" x2="153.7" y2="347.77" stroke="#8a1f98" stroke-width="0.8"/>
<line x1="161.8" y1="342.06" x2="161.8" y2="344.6" stroke="#8a1f98" stroke-width="0.8"/>
<line x1="160.4" y1="342.06" x2="163.2" y2="342.06" stroke="#8a1f98" stroke-width="0.8"/>
<line x1="160.4" y1="344.6" x2="163.2" y2="344.6" stroke="#8a1f98" stroke-width="0.8"/>
<line x1="171.3" y1="339.94" x2="171.3" y2="343.33" stroke="#8a1f98" stroke-width="0.8"/>
<line x1="169.9" y1="339.94" x2="172.7" y2="339.94" stroke="#8a1f98" stroke-width="0.8"/>
<line x1="169.9" y1="343.33" x2="172.7" y2="343.33" stroke="#8a1f98" stroke-width="0.8"/>
<line x1="185.55" y1="333.81" x2="185.55" y2="338.88" stroke="#8a1f98" stroke-width="0.8"/>
<line x1="184.15" y1="333.81" x2="186.95" y2="333.81" stroke="#8a1f98" stroke-width="0.8"/>
<line x1="184.15" y1="338.88" x2="186.95" y2="338.88" stroke="#8a1f98" stroke-width="0.8"/>
<line x1="195.05" y1="321.53" x2="195.05" y2="330" stroke="#8a1f98" stroke-width="0.8"/>
<line x1="193.65" y1="321.53" x2="196.45" y2="321.53" stroke="#8a1f98" stroke-width="0.8"/>
<line x1="193.65" y1="330" x2="196.45" y2="330" stroke="#8a1f98" stroke-width="0.8"/>
<line x1="204.55" y1="291.49" x2="204.55" y2="310.53" stroke="#8a1f98" stroke-width="0.8"/>
<line x1="203.15" y1="291.49" x2="205.95" y2="291.49" stroke="#8a1f98" stroke-width="0.8"/>
<line x1="203.15" y1="310.53" x2="205.95" y2="310.53" stroke="#8a1f98" stroke-width="0.8"/>
<line x1="218.8" y1="255.72" x2="218.8" y2="284.5" stroke="#8a1f98" stroke-width="0.8"/>
<line x1="217.4" y1="255.72" x2="220.2" y2="255.72" stroke="#8a1f98" stroke-width="0.8"/>
<line x1="217.4" y1="284.5" x2="220.2" y2="284.5" stroke="#8a1f98" stroke-width="0.8"/>
<path d="M57.3,350.5 L58.8,352 L57.3,353.5 L55.8,352 Z" fill="#8a1f98"/>
<path d="M66.8,349.44 L68.3,350.94 L66.8,352.44 L65.3,350.94 Z" fill="#8a1f98"/>
<path d="M85.8,349.23 L87.3,350.73 L85.8,352.23 L84.3,350.73 Z" fill="#8a1f98"/>
<path d="M95.3,349.02 L96.8,350.52 L95.3,352.02 L93.8,350.52 Z" fill="#8a1f98"/>
<path d="M104.8,348.6 L106.3,350.1 L104.8,351.6 L103.3,350.1 Z" fill="#8a1f98"/>
<path d="M119.05,347.96 L120.55,349.46 L119.05,350.96 L117.55,349.46 Z" fill="#8a1f98"/>
<path d="M128.55,347.12 L130.05,348.62 L128.55,350.12 L127.05,348.62 Z" fill="#8a1f98"/>
<path d="M138.05,346.69 L139.55,348.19 L138.05,349.69 L136.55,348.19 Z" fill="#8a1f98"/>
<path d="M152.3,345.21 L153.8,346.71 L152.3,348.21 L150.8,346.71 Z" fill="#8a1f98"/>
<path d="M161.8,341.83 L163.3,343.33 L161.8,344.83 L160.3,343.33 Z" fill="#8a1f98"/>
<path d="M171.3,340.13 L172.8,341.63 L171.3,343.13 L169.8,341.63 Z" fill="#8a1f98"/>
<path d="M185.55,334.84 L187.05,336.34 L185.55,337.84 L184.05,336.34 Z" fill="#8a1f98"/>
<path d="M195.05,324.26 L196.55,325.76 L195.05,327.26 L193.55,325.76 Z" fill="#8a1f98"/>
<path d="M204.55,299.51 L206.05,301.01 L204.55,302.51 L203.05,301.01 Z" fill="#8a1f98"/>
<path d="M218.8,268.61 L220.3,270.11 L218.8,271.61 L217.3,270.11 Z" fill="#8a1f98"/>
<path d="M57.3,351.16 L66.8,349.46 L85.8,349.46 L95.3,348.62 L104.8,346.5 L119.05,346.29 L128.55,342.06 L138.05,342.06 L152.3,340.15 L161.8,334.23 L171.3,330.63 L185.55,321.74 L195.05,308.62 L204.55,281.96 L218.8,230.12" stroke="#000" stroke-width="0.9" fill="none"/>
<line x1="57.3" y1="350.52" x2="57.3" y2="351.79" stroke="#000" stroke-width="0.8"/>
<line x1="55.9" y1="350.52" x2="58.7" y2="350.52" stroke="#000" stroke-width="0.8"/>
<line x1="55.9" y1="351.79" x2="58.7" y2="351.79" stroke="#000" stroke-width="0.8"/>
<line x1="66.8" y1="348.83" x2="66.8" y2="350.1" stroke="#000" stroke-width="0.8"/>
<line x1="65.4" y1="348.83" x2="68.2" y2="348.83" stroke="#000" stroke-width="0.8"/>
<line x1="65.4" y1="350.1" x2="68.2" y2="350.1" stroke="#000" stroke-width="0.8"/>
<line x1="85.8" y1="348.83" x2="85.8" y2="350.1" stroke="#000" stroke-width="0.8"/>
<line x1="84.4" y1="348.83" x2="87.2" y2="348.83" stroke="#000" stroke-width="0.8"/>
<line x1="84.4" y1="350.1" x2="87.2" y2="350.1" stroke="#000" stroke-width="0.8"/>
<line x1="95.3" y1="347.98" x2="95.3" y2="349.25" stroke="#000" stroke-width="0.8"/>
<line x1="93.9" y1="347.98" x2="96.7" y2="347.98" stroke="#000" stroke-width="0.8"/>
<line x1="93.9" y1="349.25" x2="96.7" y2="349.25" stroke="#000" stroke-width="0.8"/>
<line x1="104.8" y1="345.65" x2="104.8" y2="347.35" stroke="#000" stroke-width="0.8"/>
<line x1="103.4" y1="345.65" x2="106.2" y2="345.65" stroke="#000" stroke-width="0.8"/>
<line x1="103.4" y1="347.35" x2="106.2" y2="347.35" stroke="#000" stroke-width="0.8"/>
<line x1="119.05" y1="345.44" x2="119.05" y2="347.14" stroke="#000" stroke-width="0.8"/>
<line x1="117.65" y1="345.44" x2="120.45" y2="345.44" stroke="#000" stroke-width="0.8"/>
<line x1="117.65" y1="347.14" x2="120.45" y2="347.14" stroke="#000" stroke-width="0.8"/>
<line x1="128.55" y1="341" x2="128.55" y2="343.12" stroke="#000" stroke-width="0.8"/>
<line x1="127.15" y1="341" x2="129.95" y2="341" stroke="#000" stroke-width="0.8"/>
<line x1="127.15" y1="343.12" x2="129.95" y2="343.12" stroke="#000" stroke-width="0.8"/>
<line x1="138.05" y1="341" x2="138.05" y2="343.12" stroke="#000" stroke-width="0.8"/>
<line x1="136.65" y1="341" x2="139.45" y2="341" stroke="#000" stroke-width="0.8"/>
<line x1="136.65" y1="343.12" x2="139.45" y2="343.12" stroke="#000" stroke-width="0.8"/>
<line x1="152.3" y1="338.88" x2="152.3" y2="341.42" stroke="#000" stroke-width="0.8"/>
<line x1="150.9" y1="338.88" x2="153.7" y2="338.88" stroke="#000" stroke-width="0.8"/>
<line x1="150.9" y1="341.42" x2="153.7" y2="341.42" stroke="#000" stroke-width="0.8"/>
<line x1="161.8" y1="332.75" x2="161.8" y2="335.71" stroke="#000" stroke-width="0.8"/>
<line x1="160.4" y1="332.75" x2="163.2" y2="332.75" stroke="#000" stroke-width="0.8"/>
<line x1="160.4" y1="335.71" x2="163.2" y2="335.71" stroke="#000" stroke-width="0.8"/>
<line x1="171.3" y1="328.94" x2="171.3" y2="332.32" stroke="#000" stroke-width="0.8"/>
<line x1="169.9" y1="328.94" x2="172.7" y2="328.94" stroke="#000" stroke-width="0.8"/>
<line x1="169.9" y1="332.32" x2="172.7" y2="332.32" stroke="#000" stroke-width="0.8"/>
<line x1="185.55" y1="319.63" x2="185.55" y2="323.86" stroke="#000" stroke-width="0.8"/>
<line x1="184.15" y1="319.63" x2="186.95" y2="319.63" stroke="#000" stroke-width="0.8"/>
<line x1="184.15" y1="323.86" x2="186.95" y2="323.86" stroke="#000" stroke-width="0.8"/>
<line x1="195.05" y1="305.45" x2="195.05" y2="311.8" stroke="#000" stroke-width="0.8"/>
<line x1="193.65" y1="305.45" x2="196.45" y2="305.45" stroke="#000" stroke-width="0.8"/>
<line x1="193.65" y1="311.8" x2="196.45" y2="311.8" stroke="#000" stroke-width="0.8"/>
<line x1="204.55" y1="275.4" x2="204.55" y2="288.52" stroke="#000" stroke-width="0.8"/>
<line x1="203.15" y1="275.4" x2="205.95" y2="275.4" stroke="#000" stroke-width="0.8"/>
<line x1="203.15" y1="288.52" x2="205.95" y2="288.52" stroke="#000" stroke-width="0.8"/>
<line x1="218.8" y1="218.27" x2="218.8" y2="241.97" stroke="#000" stroke-width="0.8"/>
<line x1="217.4" y1="218.27" x2="220.2" y2="218.27" stroke="#000" stroke-width="0.8"/>
<line x1="217.4" y1="241.97" x2="220.2" y2="241.97" stroke="#000" stroke-width="0.8"/>
<circle cx="57.3" cy="351.16" r="1.6" fill="#000"/>
<circle cx="66.8" cy="349.46" r="1.6" fill="#000"/>
<circle cx="85.8" cy="349.46" r="1.6" fill="#000"/>
<circle cx="95.3" cy="348.62" r="1.6" fill="#000"/>
<circle cx="104.8" cy="346.5" r="1.6" fill="#000"/>
<circle cx="119.05" cy="346.29" r="1.6" fill="#000"/>
<circle cx="128.55" cy="342.06" r="1.6" fill="#000"/>
<circle cx="138.05" cy="342.06" r="1.6" fill="#000"/>
<circle cx="152.3" cy="340.15" r="1.6" fill="#000"/>
<circle cx="161.8" cy="334.23" r="1.6" fill="#000"/>
<circle cx="171.3" cy="330.63" r="1.6" fill="#000"/>
<circle cx="185.55" cy="321.74" r="1.6" fill="#000"/>
<circle cx="195.05" cy="308.62" r="1.6" fill="#000"/>
<circle cx="204.55" cy="281.96" r="1.6" fill="#000"/>
<circle cx="218.8" cy="230.12" r="1.6" fill="#000"/>
<line x1="65.8" y1="236.3" x2="82.2" y2="236.3" stroke="#000" stroke-width="1.1"/>
<circle cx="74.8" cy="236.3" r="1.76" fill="#000"/>
<text x="90.9" y="238.7" font-size="7.6" textLength="26.1" lengthAdjust="spacingAndGlyphs" fill="#222" stroke="#222" stroke-width="0.12">Control</text>
<line x1="65.8" y1="255.7" x2="82.2" y2="255.7" stroke="#8a1f98" stroke-width="1.1"/>
<path d="M74.8,254.05 L76.45,255.7 L74.8,257.35 L73.15,255.7 Z" fill="#8a1f98"/>
<text x="90.9" y="258.1" font-size="7.6" textLength="15.1" lengthAdjust="spacingAndGlyphs" fill="#222" stroke="#222" stroke-width="0.12">TMZ</text>
<line x1="65.8" y1="275" x2="82.2" y2="275" stroke="#2b9bb0" stroke-width="1.1"/>
<rect x="73.37" y="273.57" width="2.86" height="2.86" fill="#17798e"/>
<text x="90.9" y="277.4" font-size="7.6" textLength="47.1" lengthAdjust="spacingAndGlyphs" fill="#222" stroke="#222" stroke-width="0.12">TMZ + SAHA</text>
<line x1="65.8" y1="291.4" x2="82.2" y2="291.4" stroke="#ff7f14" stroke-width="1.1"/>
<path d="M73.15,290.08 L76.45,290.08 L74.8,293.05 Z" fill="#ff7f14"/>
<text x="90.9" y="293.8" font-size="7.6" textLength="52" lengthAdjust="spacingAndGlyphs" fill="#222" stroke="#222" stroke-width="0.12">TMZ + DDI199</text>
<path d="M235.3,227.4 L238.1,227.4 L238.1,330 L235.3,330" stroke="#222" stroke-width="0.8" fill="none"/>
<path d="M244.6,257.35 L244.6,259.85 M243.52,257.98 L245.68,259.23 M243.52,259.23 L245.68,257.98 " stroke="#222" stroke-width="0.7" fill="none"/>
<path d="M244.6,260.75 L244.6,263.25 M243.52,261.38 L245.68,262.62 M243.52,262.62 L245.68,261.38 " stroke="#222" stroke-width="0.7" fill="none"/>
<path d="M244.6,264.15 L244.6,266.65 M243.52,264.77 L245.68,266.02 M243.52,266.02 L245.68,264.77 " stroke="#222" stroke-width="0.7" fill="none"/>
<path d="M229.3,271.2 L232.1,271.2 L232.1,330 L229.3,330" stroke="#222" stroke-width="0.8" fill="none"/>
<path d="M236.1,286.75 L236.1,289.25 M235.02,287.38 L237.18,288.62 M235.02,288.62 L237.18,287.38 " stroke="#222" stroke-width="0.7" fill="none"/>
<path d="M236.1,290.15 L236.1,292.65 M235.02,290.77 L237.18,292.02 M235.02,292.02 L237.18,290.77 " stroke="#222" stroke-width="0.7" fill="none"/>
<path d="M236.1,293.55 L236.1,296.05 M235.02,294.17 L237.18,295.42 M235.02,295.42 L237.18,294.17 " stroke="#222" stroke-width="0.7" fill="none"/>
<path d="M221.6,291.4 L224.4,291.4 L224.4,330 L221.6,330" stroke="#222" stroke-width="0.8" fill="none"/>
<path d="M228.7,310.05 L228.7,312.55 M227.62,310.68 L229.78,311.93 M227.62,311.93 L229.78,310.68 " stroke="#222" stroke-width="0.7" fill="none"/>
<path d="M228.7,313.45 L228.7,315.95 M227.62,314.07 L229.78,315.32 M227.62,315.32 L229.78,314.07 " stroke="#222" stroke-width="0.7" fill="none"/>
<path d="M228.7,316.85 L228.7,319.35 M227.62,317.47 L229.78,318.72 M227.62,318.72 L229.78,317.47 " stroke="#222" stroke-width="0.7" fill="none"/>
<text transform="translate(253.9,188) scale(1.1,1)" font-size="19.5" font-weight="bold">D</text>
<line x1="280.6" y1="231" x2="280.6" y2="334.4" stroke="#000" stroke-width="1.1"/>
<line x1="280.1" y1="333.9" x2="355.9" y2="333.9" stroke="#000" stroke-width="1.1"/>
<line x1="280.6" y1="299.7" x2="283.7" y2="299.7" stroke="#000" stroke-width="0.9"/>
<line x1="280.6" y1="265.5" x2="283.7" y2="265.5" stroke="#000" stroke-width="0.9"/>
<line x1="280.6" y1="231.3" x2="283.7" y2="231.3" stroke="#000" stroke-width="0.9"/>
<text x="279.2" y="336.4" font-size="7.2" font-weight="bold" text-anchor="end" textLength="11.8" lengthAdjust="spacingAndGlyphs" stroke="#000" stroke-width="0.12">0.0</text>
<text x="279.2" y="302.2" font-size="7.2" font-weight="bold" text-anchor="end" textLength="11.8" lengthAdjust="spacingAndGlyphs" stroke="#000" stroke-width="0.12">0.2</text>
<text x="279.2" y="268" font-size="7.2" font-weight="bold" text-anchor="end" textLength="11.8" lengthAdjust="spacingAndGlyphs" stroke="#000" stroke-width="0.12">0.4</text>
<text x="279.2" y="233.8" font-size="7.2" font-weight="bold" text-anchor="end" textLength="11.8" lengthAdjust="spacingAndGlyphs" stroke="#000" stroke-width="0.12">0.6</text>
<text transform="translate(260.6,284.6) rotate(-90)" x="0" y="0" font-size="8.2" text-anchor="middle" textLength="59.5" lengthAdjust="spacingAndGlyphs" stroke="#000" stroke-width="0.22">Tumor weight (g)</text>
<rect x="286" y="268.5" width="11.7" height="65.4" fill="#686868" stroke="#000" stroke-width="0.8"/>
<rect x="303.2" y="294.5" width="11.7" height="39.4" fill="#3e0757" stroke="#000" stroke-width="0.8"/>
<rect x="320.5" y="304.1" width="11.4" height="29.8" fill="#137a93" stroke="#000" stroke-width="0.8"/>
<rect x="338.1" y="319.9" width="10.9" height="14" fill="#ff8000" stroke="#000" stroke-width="0.8"/>
<line x1="291.85" y1="265" x2="291.85" y2="272" stroke="#000" stroke-width="0.8"/>
<line x1="289.25" y1="265" x2="294.45" y2="265" stroke="#000" stroke-width="0.8"/>
<line x1="289.25" y1="272" x2="294.45" y2="272" stroke="#000" stroke-width="0.8"/>
<line x1="309.05" y1="289" x2="309.05" y2="299.5" stroke="#000" stroke-width="0.8"/>
<line x1="306.45" y1="289" x2="311.65" y2="289" stroke="#000" stroke-width="0.8"/>
<line x1="306.45" y1="299.5" x2="311.65" y2="299.5" stroke="#000" stroke-width="0.8"/>
<line x1="326.2" y1="290" x2="326.2" y2="318.3" stroke="#000" stroke-width="0.8"/>
<line x1="323.6" y1="290" x2="328.8" y2="290" stroke="#000" stroke-width="0.8"/>
<line x1="323.6" y1="318.3" x2="328.8" y2="318.3" stroke="#000" stroke-width="0.8"/>
<line x1="343.55" y1="312.1" x2="343.55" y2="327.5" stroke="#000" stroke-width="0.8"/>
<line x1="340.95" y1="312.1" x2="346.15" y2="312.1" stroke="#000" stroke-width="0.8"/>
<line x1="340.95" y1="327.5" x2="346.15" y2="327.5" stroke="#000" stroke-width="0.8"/>
<circle cx="288.5" cy="261.2" r="1.95" fill="#000"/>
<circle cx="292" cy="259.6" r="1.95" fill="#000"/>
<circle cx="296.1" cy="262.7" r="1.95" fill="#000"/>
<circle cx="291.8" cy="275" r="1.95" fill="#000"/>
<circle cx="291.8" cy="282.8" r="1.95" fill="#000"/>
<circle cx="309" cy="280.4" r="1.95" fill="#000"/>
<circle cx="304.6" cy="287.1" r="1.95" fill="#000"/>
<circle cx="308.4" cy="290" r="1.95" fill="#000"/>
<circle cx="313.3" cy="287.1" r="1.95" fill="#000"/>
<circle cx="306.5" cy="310.1" r="1.95" fill="#000"/>
<circle cx="311.8" cy="310.1" r="1.95" fill="#000"/>
<circle cx="326" cy="286.7" r="1.95" fill="#000"/>
<circle cx="322.1" cy="313.4" r="1.95" fill="#000"/>
<circle cx="330.5" cy="312.1" r="1.95" fill="#000"/>
<circle cx="322.1" cy="334.1" r="1.95" fill="#000"/>
<circle cx="330.5" cy="334.1" r="1.95" fill="#000"/>
<circle cx="326.4" cy="243.2" r="1.95" fill="#000"/>
<circle cx="343.6" cy="297.8" r="1.95" fill="#000"/>
<circle cx="343.6" cy="321.2" r="1.95" fill="#000"/>
<circle cx="342" cy="325.2" r="1.95" fill="#000"/>
<circle cx="345.1" cy="325.2" r="1.95" fill="#000"/>
<circle cx="343.6" cy="334.1" r="1.95" fill="#000"/>
<path d="M291.5,238.3 L291.5,233.4 L343.6,233.4 L343.6,238.3" stroke="#808080" stroke-width="0.9" fill="none"/>
<path d="M291.5,254.3 L291.5,249.4 L325.4,249.4 L325.4,254.3" stroke="#808080" stroke-width="0.9" fill="none"/>
<path d="M316.1,225.3 L316.1,228.7 M314.63,226.15 L317.57,227.85 M314.63,227.85 L317.57,226.15 " stroke="#000" stroke-width="0.9" fill="none"/>
<path d="M320.5,225.3 L320.5,228.7 M319.03,226.15 L321.97,227.85 M319.03,227.85 L321.97,226.15 " stroke="#000" stroke-width="0.9" fill="none"/>
<path d="M308.8,241.5 L308.8,244.9 M307.33,242.35 L310.27,244.05 M307.33,244.05 L310.27,242.35 " stroke="#000" stroke-width="0.9" fill="none"/>
<text x="273.9" y="347.3" font-size="8" textLength="25.8" lengthAdjust="spacingAndGlyphs" stroke="#000" stroke-width="0.12">Control</text>
<text x="301.6" y="347.3" font-size="8" textLength="15.6" lengthAdjust="spacingAndGlyphs" stroke="#000" stroke-width="0.12">TMZ</text>
<text x="323.7" y="347.3" font-size="8" textLength="15.6" lengthAdjust="spacingAndGlyphs" stroke="#000" stroke-width="0.12">TMZ</text>
<text x="350" y="347.3" font-size="8" textLength="16" lengthAdjust="spacingAndGlyphs" stroke="#000" stroke-width="0.12">TMZ</text>
<text x="320.7" y="357.6" font-size="8" textLength="21.3" lengthAdjust="spacingAndGlyphs" stroke="#000" stroke-width="0.12">SAHA</text>
<text x="344.5" y="357.6" font-size="8" textLength="26.4" lengthAdjust="spacingAndGlyphs" stroke="#000" stroke-width="0.12">DDI199</text>
<text transform="translate(385,188.3) scale(1.1,1)" font-size="19.5" font-weight="bold">E</text>
<text x="408.9" y="186.9" font-size="8" textLength="42.3" lengthAdjust="spacingAndGlyphs" stroke="#000" stroke-width="0.12">Ac α-tubulin</text>
<text x="477.9" y="186.9" font-size="8" textLength="21.9" lengthAdjust="spacingAndGlyphs" stroke="#000" stroke-width="0.12">PCNA</text>
<defs><clipPath id="cp00"><rect x="398" y="191.2" width="56" height="55.8"/></clipPath><clipPath id="cp01"><rect x="456.4" y="191.2" width="57.6" height="55.8"/></clipPath><clipPath id="cp10"><rect x="398" y="248.7" width="56" height="55.9"/></clipPath><clipPath id="cp11"><rect x="456.4" y="248.7" width="57.6" height="55.9"/></clipPath><clipPath id="cp20"><rect x="398" y="306.8" width="56" height="56.2"/></clipPath><clipPath id="cp21"><rect x="456.4" y="306.8" width="57.6" height="56.2"/></clipPath><clipPath id="cp30"><rect x="398" y="364.7" width="56" height="57.1"/></clipPath><clipPath id="cp31"><rect x="456.4" y="364.7" width="57.6" height="57.1"/></clipPath></defs>
<defs><filter id="bl" x="0" y="0" width="1" height="1"><feGaussianBlur stdDeviation="0.48"/></filter></defs>
<g clip-path="url(#cp00)"><g filter="url(#bl)"><rect x="398" y="191.2" width="56" height="55.8" fill="#b2a9b1"/><ellipse cx="416.1" cy="199.6" rx="6.3" ry="2.3" fill="#a08058" fill-opacity="0.18"/><ellipse cx="428.0" cy="211.6" rx="3.3" ry="4.0" fill="#a08058" fill-opacity="0.18"/><ellipse cx="400.1" cy="215.4" rx="3.3" ry="2.4" fill="#a08058" fill-opacity="0.18"/><ellipse cx="421.8" cy="237.3" rx="3.6" ry="2.9" fill="#a08058" fill-opacity="0.18"/><path d="M433.1 244.1h0M436.9 224.4h0M439.3 213.4h0M432.4 195.1h0M433.5 244.5h0M438.6 222.3h0M445.9 194.9h0M439.1 221.9h0M445.1 191.3h0M434.7 208.0h0M401.1 202.0h0M399.9 210.1h0M450.2 209.6h0M418.0 237.0h0M400.8 217.6h0M416.1 232.3h0M399.9 222.0h0M427.5 227.4h0M411.2 233.8h0M398.8 235.9h0M434.2 216.0h0M432.3 227.8h0M436.8 219.1h0M427.9 221.3h0M429.8 205.8h0M445.2 210.1h0M451.0 242.0h0M412.4 219.8h0M418.8 213.0h0M452.3 194.1h0M424.0 193.5h0M453.6 226.7h0M400.3 222.8h0M434.4 201.7h0M406.4 243.2h0M398.8 210.3h0M441.6 204.7h0M433.6 210.4h0M432.0 242.9h0M434.3 217.5h0M449.7 222.5h0M404.1 237.6h0M416.5 245.7h0M446.5 194.0h0M403.7 222.0h0M432.0 216.8h0M418.2 241.6h0M406.5 233.4h0M424.8 198.7h0M403.9 232.5h0M422.5 232.1h0M405.7 197.4h0M398.5 237.5h0M430.8 226.7h0M409.7 230.7h0M433.1 211.7h0M422.5 197.7h0M410.5 232.7h0M399.4 200.4h0M453.5 225.9h0M432.0 205.6h0M412.6 222.6h0M414.2 245.2h0M451.7 235.0h0M442.3 231.9h0M406.5 235.5h0M432.9 237.2h0M398.7 243.3h0M402.0 200.4h0M449.2 193.1h0M413.5 214.7h0M447.9 207.3h0M450.0 225.5h0M425.6 237.4h0M407.0 229.4h0M430.5 228.5h0" stroke="#5c588b" stroke-width="1.0" stroke-linecap="round" fill="none"/><path d="M452.7 193.8h0M400.2 228.5h0M415.5 199.2h0M408.8 225.0h0M399.6 203.1h0M428.5 237.7h0M443.9 238.6h0M410.2 218.5h0M443.9 245.2h0M452.4 215.5h0M424.4 210.4h0M415.5 231.7h0M407.5 191.4h0M439.0 242.2h0M436.9 214.1h0M451.4 208.6h0M421.5 223.7h0M443.4 213.5h0M440.3 200.1h0M408.2 200.2h0M453.6 226.3h0M401.6 199.3h0M400.9 226.7h0M447.8 192.6h0M441.9 204.1h0M436.0 218.1h0M433.7 228.0h0M445.1 217.3h0M421.3 198.3h0M422.4 214.8h0M403.2 236.2h0M416.7 200.6h0M453.9 242.8h0M445.0 231.1h0M405.4 207.6h0M436.9 203.6h0M401.2 192.4h0M430.2 223.7h0M427.7 236.7h0M407.7 211.2h0M414.2 236.8h0M407.9 211.7h0M445.0 223.0h0M448.2 208.2h0M451.9 200.2h0M441.9 237.5h0M434.9 222.7h0M430.9 205.2h0M424.2 223.4h0M435.6 206.4h0M446.3 235.6h0M426.5 214.0h0M416.5 214.1h0M433.2 221.5h0M438.2 212.2h0M420.5 193.5h0M423.4 237.2h0M420.1 240.6h0M411.9 212.4h0M409.3 194.1h0M441.9 235.5h0M417.8 238.3h0M432.9 216.0h0M415.3 243.9h0M420.6 229.2h0M420.1 243.7h0M417.9 200.3h0M427.6 205.2h0M409.4 223.2h0M398.7 221.2h0M427.8 197.1h0M422.5 229.5h0M429.2 231.5h0M413.0 243.1h0M428.4 201.0h0M422.7 197.8h0M446.4 203.1h0M402.4 223.7h0M411.9 224.2h0M424.3 195.3h0M406.8 203.8h0M436.3 193.2h0M411.4 212.8h0M451.3 209.4h0M433.7 195.5h0M448.3 222.4h0M432.5 236.2h0M436.8 227.3h0M424.0 217.4h0M441.1 208.9h0M433.3 222.6h0M438.7 222.0h0" stroke="#7a76a4" stroke-width="1.3" stroke-linecap="round" fill="none"/><path d="M406.1 197.8h0M424.1 242.7h0M447.5 244.6h0M410.5 236.5h0M420.5 244.0h0M427.5 243.3h0M399.9 240.4h0M416.8 195.9h0M453.1 199.5h0M430.7 241.0h0M412.2 232.7h0M400.9 228.1h0M446.7 218.3h0M403.1 204.5h0M436.5 220.7h0M425.8 202.4h0M425.9 230.8h0M436.0 201.5h0M418.1 199.5h0M440.1 241.1h0M405.5 211.6h0M443.7 243.6h0M447.4 222.2h0M400.2 226.6h0M416.0 219.4h0M445.6 211.9h0M438.2 202.1h0M451.4 218.8h0M411.6 196.1h0M404.8 213.8h0M406.2 223.2h0M440.8 193.7h0M400.0 228.3h0M453.4 221.0h0M452.8 238.0h0M414.6 201.6h0M428.9 211.8h0M431.7 226.2h0M411.5 215.8h0M430.0 196.7h0M425.2 225.2h0M441.5 205.7h0M413.8 209.7h0M409.5 200.6h0M424.8 235.7h0M432.2 213.9h0M446.3 195.2h0M421.8 239.6h0M413.1 221.4h0M399.8 235.2h0M452.2 235.1h0M421.0 207.9h0M426.0 244.5h0M417.8 243.6h0M410.0 231.9h0M450.4 245.0h0M442.5 217.8h0M433.0 240.6h0M419.4 230.2h0M417.2 237.6h0M418.5 220.4h0M410.2 193.2h0M444.9 196.0h0M407.8 241.5h0M399.3 195.8h0M409.8 231.3h0M441.1 196.1h0M404.0 236.6h0M423.0 191.9h0M441.8 221.3h0M428.9 227.5h0M402.2 202.9h0M437.7 226.4h0M433.5 228.0h0M408.4 219.1h0M419.5 226.1h0M421.3 241.6h0M430.1 246.3h0M453.3 204.5h0" stroke="#646094" stroke-width="1.0" stroke-linecap="round" fill="none"/><path d="M430.6 226.9h0M438.8 207.3h0M405.7 198.0h0M420.6 214.7h0M450.5 226.6h0M437.3 219.4h0M412.8 216.7h0M425.0 218.3h0M411.9 197.3h0M437.3 238.4h0M441.5 191.3h0M424.0 206.0h0M401.5 242.5h0M411.2 239.3h0M409.0 233.2h0M417.0 193.7h0M428.9 226.9h0M407.4 235.0h0M407.8 208.5h0M399.6 193.5h0M443.8 236.9h0M399.9 238.5h0M450.6 234.0h0M423.9 200.4h0M451.3 227.8h0M409.7 213.7h0M436.2 243.2h0M435.2 239.7h0M441.9 222.8h0M440.1 235.4h0M451.6 242.9h0M448.6 197.6h0M411.3 216.0h0M424.1 221.0h0M452.8 237.3h0M439.1 231.0h0M435.5 223.3h0M405.9 222.6h0M424.8 203.4h0M429.0 203.8h0M402.1 215.7h0M404.8 198.8h0M429.9 220.7h0M401.2 198.4h0M417.1 198.8h0M416.1 192.7h0M405.6 224.4h0M410.5 221.4h0M444.2 228.2h0M418.8 210.2h0M441.1 197.8h0M450.0 241.1h0M435.0 226.5h0M425.9 211.5h0M415.2 220.2h0M409.9 229.3h0M451.8 209.6h0M400.3 217.3h0M445.7 222.2h0M450.2 220.2h0M409.9 207.2h0M424.3 243.5h0M398.6 227.6h0M420.8 210.3h0M418.5 220.4h0M447.0 224.1h0M415.4 195.2h0M447.1 217.0h0M414.1 234.1h0M409.7 221.5h0M431.8 241.7h0M432.7 199.9h0M415.4 203.4h0M442.3 223.3h0M413.1 241.6h0M400.0 237.8h0M436.3 230.1h0M445.0 225.2h0M407.0 246.8h0M421.3 217.4h0M452.3 208.7h0M452.1 213.8h0M428.4 200.3h0M442.6 198.2h0" stroke="#6f6b9c" stroke-width="1.6" stroke-linecap="round" fill="none"/><path d="M401.3 202.7h0M437.1 204.8h0M421.4 233.4h0M438.9 208.5h0M438.1 240.7h0M448.4 234.7h0M404.5 218.4h0M443.8 232.5h0M438.9 246.4h0M442.2 209.8h0M452.2 203.5h0M411.1 233.4h0M437.4 204.1h0M399.4 191.4h0M410.3 241.8h0M413.2 205.1h0M425.4 195.3h0M444.3 197.2h0M403.7 217.7h0M405.1 243.8h0M398.1 193.1h0M448.8 226.4h0M400.7 233.6h0M409.6 212.9h0M437.9 199.9h0M435.3 237.6h0M453.8 233.6h0M431.2 243.5h0M401.3 211.7h0M407.2 235.9h0M452.6 235.7h0M441.7 239.0h0M399.5 193.1h0M431.0 215.8h0M448.1 228.5h0M404.7 233.3h0M407.8 224.7h0M403.3 239.0h0M432.0 212.4h0M416.0 235.1h0M432.7 215.6h0M435.9 228.9h0M429.4 197.6h0M399.4 230.5h0M427.5 210.7h0M408.9 195.9h0M400.3 230.4h0M442.8 193.2h0M445.8 204.9h0M405.6 191.6h0M424.0 213.4h0M435.3 209.6h0M431.2 217.0h0M453.7 201.0h0M439.8 197.5h0M431.1 201.4h0M425.4 192.1h0M402.9 206.3h0M407.4 210.8h0M398.2 223.2h0M448.3 232.7h0M441.6 192.8h0M400.5 222.2h0M435.2 199.0h0M407.4 214.8h0M411.0 232.2h0M415.4 195.4h0M412.5 232.5h0M410.7 201.5h0M446.9 221.5h0M439.5 202.3h0M442.9 244.4h0M411.7 202.3h0M421.4 238.1h0M445.6 231.8h0M444.9 193.4h0M404.8 239.0h0M411.5 196.4h0" stroke="#5c588b" stroke-width="1.3" stroke-linecap="round" fill="none"/><path d="M445.0 243.9h0M420.3 197.0h0M447.5 194.4h0M411.5 195.3h0M416.6 226.0h0M453.2 235.2h0M405.2 220.6h0M417.4 192.2h0M453.4 246.0h0M433.0 240.3h0M426.3 191.5h0M409.8 244.0h0M451.4 238.6h0M398.4 207.5h0M401.2 224.4h0M399.3 224.5h0M420.0 241.3h0M438.4 224.4h0M446.5 216.3h0M447.4 216.9h0M418.5 236.0h0M433.6 195.8h0M446.0 246.8h0M412.7 219.4h0M408.4 200.1h0M434.0 245.1h0M430.8 222.7h0M450.9 197.2h0M398.1 202.5h0M411.2 244.5h0M416.4 191.8h0M401.2 206.5h0M425.5 219.0h0M419.0 214.6h0M408.8 231.0h0M406.2 228.8h0M398.9 191.5h0M446.5 211.9h0M415.7 192.9h0M400.2 205.5h0M404.5 211.6h0M415.5 222.2h0M401.9 215.4h0M400.6 245.9h0M452.4 240.9h0M409.1 224.8h0M412.1 240.7h0M440.5 202.0h0M414.0 193.6h0M452.0 200.6h0M436.6 191.9h0M434.8 198.8h0M407.6 244.8h0M398.3 223.5h0M453.3 213.5h0M432.4 231.6h0M453.4 203.9h0M416.1 241.6h0M436.4 236.1h0M449.0 199.6h0M452.9 193.0h0M399.1 246.5h0M451.6 245.4h0M437.4 192.0h0M440.6 240.4h0M444.7 196.3h0M420.0 214.3h0M401.2 215.4h0M425.4 192.2h0M425.1 239.4h0M446.8 219.2h0M421.7 226.0h0M435.2 203.3h0M425.9 234.7h0M451.8 220.9h0M419.9 191.7h0M442.4 210.6h0M401.3 216.1h0M429.2 237.0h0M442.0 192.5h0M443.1 216.6h0M411.6 241.7h0M420.0 235.2h0M426.5 244.6h0M432.3 196.0h0M438.9 238.6h0M432.0 245.8h0M435.5 198.7h0M401.9 195.0h0M438.9 221.1h0M435.1 208.6h0M433.9 217.5h0M418.9 200.2h0M428.0 231.7h0M408.6 243.0h0M445.0 214.8h0M423.0 243.0h0M427.1 199.3h0M404.9 204.7h0M417.3 235.1h0M442.2 211.1h0M400.9 243.9h0M406.5 239.4h0M424.8 196.0h0M424.5 235.1h0M417.2 196.5h0M406.3 211.5h0M425.8 217.1h0" stroke="#6f6b9c" stroke-width="1.0" stroke-linecap="round" fill="none"/><path d="M407.4 197.7h0M413.8 199.3h0M402.5 196.9h0M444.3 245.9h0M450.6 227.1h0M412.9 193.4h0M406.4 242.5h0M423.0 205.9h0M445.3 195.5h0M439.9 205.8h0M414.9 199.1h0M449.8 233.4h0M413.1 233.2h0M439.8 229.7h0M414.5 222.8h0M447.5 238.2h0M419.0 211.8h0M401.8 193.8h0M406.7 205.0h0M406.0 204.2h0M448.5 221.8h0M433.2 230.8h0M448.2 194.4h0M405.8 191.3h0M446.8 206.1h0M446.6 223.4h0M408.0 206.4h0M445.5 194.2h0M428.4 242.8h0M427.1 215.4h0M415.1 227.3h0M447.9 208.1h0M452.3 225.1h0M422.1 235.9h0M403.6 241.6h0M440.7 193.6h0M428.6 245.3h0M439.8 209.7h0M434.1 244.6h0M408.3 237.3h0M445.9 235.1h0M435.1 219.9h0M453.4 202.4h0M404.4 192.4h0M427.0 211.3h0M418.6 204.8h0M401.7 208.0h0M448.3 221.7h0M398.5 217.7h0M443.2 242.2h0M400.9 234.8h0M417.8 218.9h0M401.6 245.7h0M405.2 244.7h0M445.6 198.4h0M443.7 239.9h0M434.8 230.8h0M423.6 230.6h0M427.9 214.0h0M452.6 209.5h0M417.6 218.0h0M398.3 227.2h0M439.6 196.1h0M441.2 218.9h0M444.9 226.8h0M446.8 220.9h0M399.3 220.1h0M417.1 201.8h0M403.4 199.2h0M444.9 246.7h0M398.1 234.2h0M403.0 223.8h0M408.9 203.4h0M433.3 196.7h0M415.4 235.0h0M449.0 246.9h0M439.5 226.0h0M405.1 203.6h0M399.0 228.9h0M407.1 196.3h0M409.5 208.6h0M415.7 231.4h0M414.9 225.7h0M412.2 227.8h0M417.1 205.1h0M402.8 202.0h0M450.5 197.7h0M416.9 223.2h0M443.3 195.7h0M418.6 222.1h0" stroke="#7a76a4" stroke-width="1.0" stroke-linecap="round" fill="none"/><path d="M407.3 213.6h0M411.0 204.2h0M441.8 233.1h0M427.3 240.1h0M440.5 207.4h0M410.1 204.0h0M411.6 207.6h0M444.8 222.4h0M432.6 227.1h0M424.1 234.0h0M440.0 214.2h0M440.8 196.7h0M453.8 206.7h0M412.4 228.4h0M451.5 198.1h0M442.2 242.2h0M435.2 199.8h0M432.8 211.9h0M425.5 236.1h0M442.0 203.6h0M408.2 203.4h0M449.2 201.9h0M433.4 217.8h0M446.3 196.3h0M417.5 196.5h0M431.2 244.6h0M448.5 219.2h0M451.9 196.9h0M405.9 224.9h0M417.2 232.6h0M412.8 203.7h0M408.8 227.0h0M424.6 220.5h0M444.7 236.5h0M451.0 234.0h0M403.0 242.6h0M450.3 239.6h0M402.2 245.5h0M438.0 222.1h0M420.2 242.8h0M429.2 218.6h0M440.7 220.3h0M442.0 230.7h0M422.9 201.5h0M420.5 222.5h0M406.8 207.4h0M410.5 200.1h0M411.7 201.9h0M422.8 237.9h0M417.8 231.5h0M441.2 212.7h0M398.8 230.9h0M445.3 217.1h0M449.2 214.5h0M401.0 230.2h0M450.9 218.8h0M422.6 228.4h0M452.2 202.5h0M416.3 224.9h0M449.6 223.8h0M446.6 195.0h0M413.6 220.4h0M413.6 240.3h0M446.3 239.7h0M441.7 239.4h0M421.6 221.3h0M409.2 223.0h0M438.2 206.5h0M422.1 225.1h0M446.3 221.9h0M445.1 199.7h0M408.9 199.7h0M412.6 197.1h0M429.8 193.5h0M439.7 237.7h0M444.1 201.5h0M431.0 246.0h0M414.7 212.6h0M429.9 231.3h0M418.6 208.1h0M432.6 207.6h0M409.8 194.2h0M420.7 218.3h0M424.3 232.5h0M419.4 239.2h0M422.9 210.2h0M425.1 205.3h0M438.1 232.2h0M443.0 246.5h0M418.5 243.8h0M432.6 208.1h0M428.8 245.5h0M403.2 239.9h0M408.1 225.2h0M444.8 236.5h0M419.5 227.6h0M425.9 207.0h0M451.2 226.6h0M453.6 226.0h0M421.7 204.4h0" stroke="#646094" stroke-width="1.3" stroke-linecap="round" fill="none"/><path d="M446.4 206.7h0M401.8 202.8h0M452.8 239.4h0M418.5 200.5h0M417.0 222.1h0M412.7 201.3h0M425.7 237.8h0M435.3 212.5h0M448.0 234.9h0M405.8 201.9h0M422.6 201.6h0M452.5 223.7h0M421.3 239.4h0M419.8 216.6h0M442.1 243.1h0M443.9 205.4h0M404.0 211.1h0M443.4 245.2h0M411.0 193.4h0M429.0 209.2h0M408.2 198.1h0M424.6 192.1h0M426.8 243.2h0M421.4 214.7h0M417.9 218.8h0M398.8 239.9h0M410.2 198.0h0M435.9 199.3h0M452.5 230.4h0M438.6 192.1h0M442.1 231.5h0M401.2 213.3h0M443.2 234.3h0M452.8 192.1h0M418.2 193.5h0M449.3 220.1h0M438.0 236.8h0M446.5 225.8h0M434.8 220.0h0M416.9 210.9h0M420.3 246.6h0M412.4 241.2h0M435.9 220.5h0M425.3 215.8h0M408.2 226.4h0M438.1 210.9h0M420.6 194.9h0M446.9 198.1h0M408.5 240.9h0M448.7 196.7h0M436.1 193.3h0M418.1 196.3h0M414.6 215.9h0M432.7 236.5h0M430.4 222.2h0M404.9 212.0h0M425.4 236.8h0M431.0 193.6h0M436.2 208.2h0M453.0 223.3h0M433.1 203.7h0M398.6 229.6h0M444.2 235.4h0M410.4 199.1h0M406.6 205.2h0M427.0 191.5h0M412.7 208.7h0M407.0 216.1h0M429.4 199.8h0M419.6 226.9h0M420.7 196.1h0M423.5 236.4h0M413.4 211.4h0M405.4 230.5h0M401.8 224.9h0M398.2 226.3h0M428.1 217.3h0M441.3 202.4h0M417.8 214.5h0M434.8 243.5h0M445.9 236.0h0M425.0 237.9h0M411.6 227.9h0M451.9 202.0h0M440.0 219.2h0M415.8 217.8h0M416.0 200.8h0M448.4 232.1h0M438.2 215.2h0M422.5 192.9h0M406.1 211.6h0M427.2 192.3h0M436.5 209.0h0M449.2 241.4h0M409.8 198.0h0M444.5 246.0h0" stroke="#7a76a4" stroke-width="1.6" stroke-linecap="round" fill="none"/><path d="M436.7 220.0h0M400.9 191.2h0M425.0 246.2h0M448.9 210.4h0M426.4 222.5h0M418.5 210.1h0M413.6 235.8h0M399.7 198.6h0M427.5 232.8h0M412.2 194.8h0M443.5 234.0h0M417.0 206.4h0M453.3 206.0h0M421.3 225.8h0M433.7 230.8h0M442.5 221.8h0M409.0 231.8h0M413.9 220.3h0M446.1 245.1h0M422.8 201.1h0M407.2 191.2h0M402.5 227.8h0M416.3 196.5h0M405.1 224.4h0M439.1 215.5h0M417.3 202.6h0M420.3 222.1h0M437.8 239.3h0M399.1 222.8h0M429.9 216.4h0M441.3 231.0h0M441.2 204.3h0M412.7 214.8h0M422.7 236.3h0M407.2 211.9h0M427.1 216.1h0M450.5 212.9h0M446.8 191.4h0M442.1 208.3h0M405.7 226.7h0M418.9 225.7h0M418.6 238.2h0M449.8 222.7h0M406.7 199.2h0M446.8 238.9h0M445.8 245.4h0M444.0 216.9h0M419.4 237.6h0M443.0 220.3h0M403.6 196.5h0M408.3 209.8h0M404.8 242.7h0M449.8 193.0h0M437.0 214.4h0M438.7 232.2h0M441.3 200.9h0M431.3 237.9h0M435.0 236.2h0M404.2 208.3h0M410.4 238.6h0M409.9 203.7h0M401.5 226.4h0M419.9 244.5h0M418.4 240.5h0M403.3 245.7h0M436.6 216.0h0M435.2 237.9h0M449.7 216.9h0M410.7 224.6h0M415.0 208.7h0M413.1 243.8h0M427.6 238.6h0M439.9 240.0h0M446.1 243.8h0M411.4 231.0h0M448.6 192.6h0M449.2 224.7h0M407.5 195.3h0M418.7 212.8h0M400.1 194.3h0M407.3 241.0h0M450.3 196.1h0M433.7 212.2h0M416.8 233.9h0M401.9 195.8h0" stroke="#6f6b9c" stroke-width="1.3" stroke-linecap="round" fill="none"/><path d="M444.4 200.2h0M406.2 221.5h0M450.6 202.1h0M412.6 235.3h0M421.4 205.0h0M425.0 230.6h0M417.8 229.9h0M404.8 216.3h0M398.4 232.8h0M401.2 204.0h0" stroke="#7a5a40" stroke-width="1.6" stroke-linecap="round" fill="none"/><path d="M399.5 224.2h0M435.1 236.7h0M406.5 219.7h0M416.2 245.5h0M413.5 219.6h0M402.7 244.6h0M447.5 236.5h0M402.5 243.3h0M408.2 236.0h0M408.5 194.8h0M400.3 207.6h0M401.0 242.9h0M405.4 240.6h0M406.0 219.2h0M426.7 241.2h0M412.6 204.4h0M404.3 225.9h0M441.3 210.6h0M410.9 209.8h0M408.7 208.0h0M437.3 224.0h0M438.4 240.3h0M399.1 239.1h0M412.1 203.4h0M417.5 238.5h0M401.2 237.4h0M424.5 222.3h0M425.1 233.5h0M428.7 195.8h0M437.6 196.2h0M408.1 238.3h0M407.8 198.8h0M407.8 234.1h0M437.5 196.4h0M400.2 208.5h0M405.5 227.0h0M421.8 243.7h0M410.5 232.5h0M452.2 229.9h0M423.7 246.2h0M422.9 222.9h0M437.4 203.4h0M413.8 219.2h0M443.6 214.8h0M433.0 198.0h0M415.9 225.3h0M436.1 211.7h0M443.8 196.9h0M413.3 235.6h0M435.7 228.9h0M444.9 199.3h0M434.7 229.9h0M405.8 206.3h0M420.6 202.6h0M450.8 218.5h0M402.1 210.0h0M442.7 234.2h0M404.7 212.2h0M398.4 243.5h0M449.4 219.5h0M420.0 236.2h0M400.7 204.6h0M402.2 197.5h0M419.6 246.1h0M412.6 231.1h0M433.9 225.7h0M398.5 201.8h0M414.0 212.4h0M401.4 215.3h0M404.7 246.1h0M439.5 239.0h0M412.2 223.0h0M451.6 202.8h0M451.9 234.0h0M414.4 209.3h0M412.3 217.4h0M408.5 214.5h0M450.8 191.9h0M448.2 200.8h0M424.3 217.0h0M446.6 211.4h0M399.3 219.2h0M423.9 199.8h0M403.2 191.5h0M450.9 217.5h0M430.0 203.5h0M452.4 241.8h0M449.2 222.5h0M445.3 211.4h0M408.5 201.8h0M409.5 219.5h0M404.2 207.2h0" stroke="#646094" stroke-width="1.6" stroke-linecap="round" fill="none"/><path d="M428.7 198.5h0M433.7 226.7h0M438.2 191.8h0M411.9 205.5h0M448.4 200.4h0M423.0 218.2h0M419.5 229.7h0M452.5 194.8h0" stroke="#7a5a40" stroke-width="1.2" stroke-linecap="round" fill="none"/><path d="M398.2 235.8h0M407.1 228.5h0M450.3 197.1h0M444.2 231.1h0M407.4 200.2h0M399.8 230.8h0M438.0 244.9h0M425.8 201.7h0M448.5 214.8h0M427.0 227.1h0M445.0 230.1h0M411.1 240.6h0M432.6 192.9h0M430.6 220.3h0M437.2 241.1h0M411.7 208.0h0M425.7 203.1h0M414.8 191.5h0M440.9 194.6h0M429.8 193.4h0M437.0 213.8h0M419.8 208.6h0M422.0 240.8h0M399.9 246.5h0M415.3 191.8h0M449.9 232.4h0M405.8 245.3h0M411.6 196.1h0M411.6 203.6h0M438.5 207.5h0M448.1 229.7h0M403.6 200.7h0M423.2 212.7h0M398.3 239.6h0M451.3 219.4h0M405.3 230.6h0M407.1 202.3h0M436.7 232.4h0M433.6 198.9h0M452.4 241.9h0M426.7 224.0h0M453.5 231.5h0M448.5 196.5h0M401.4 210.0h0M430.5 246.3h0M424.7 193.0h0M410.8 212.2h0M422.3 204.1h0M400.8 229.9h0M435.4 216.6h0M448.9 217.6h0M420.2 246.8h0M410.5 237.7h0M400.0 193.4h0M434.5 245.4h0M409.1 216.8h0M448.9 229.4h0M441.3 192.6h0M402.7 244.2h0M442.4 217.6h0M447.0 196.6h0M431.1 198.2h0M434.5 239.3h0M447.3 225.0h0M401.0 221.6h0M407.1 200.3h0M408.0 196.8h0M401.7 212.1h0M400.0 198.8h0M437.4 215.6h0M434.3 200.3h0M438.2 239.7h0M453.5 220.0h0M440.1 191.8h0M423.9 224.4h0M407.6 203.3h0M403.6 232.2h0M427.7 229.2h0M419.3 228.2h0M430.1 241.8h0M413.5 197.5h0M412.5 234.8h0" stroke="#5c588b" stroke-width="1.6" stroke-linecap="round" fill="none"/><path d="M420.4 193.5h0M452.8 243.4h0M446.4 218.7h0M407.4 195.2h0M411.8 198.9h0M442.1 238.4h0M449.2 197.0h0" stroke="#927050" stroke-width="1.2" stroke-linecap="round" fill="none"/><path d="M427.5 221.7h0M426.2 201.2h0M434.6 192.4h0M441.8 231.1h0M415.9 214.8h0" stroke="#927050" stroke-width="1.6" stroke-linecap="round" fill="none"/><path d="M444.6 226.5h0M446.7 228.2h0M420.3 196.7h0M420.3 230.9h0M405.6 233.2h0M402.3 241.3h0M440.1 195.7h0" stroke="#86654a" stroke-width="1.2" stroke-linecap="round" fill="none"/><path d="M403.7 208.9h0" stroke="#86654a" stroke-width="1.6" stroke-linecap="round" fill="none"/></g></g>
<line x1="441.5" y1="244.3" x2="451.7" y2="244.3" stroke="#111" stroke-width="1"/>
<g clip-path="url(#cp01)"><g filter="url(#bl)"><rect x="456.4" y="191.2" width="57.6" height="55.8" fill="#b3aaad"/><path d="M493.8 214.8h0M486.0 243.0h0M466.1 228.6h0M470.2 217.3h0M473.2 243.3h0M475.1 227.2h0M479.8 204.2h0M478.4 221.5h0M511.4 211.7h0M468.5 210.6h0M458.6 234.0h0M463.0 233.0h0M493.9 221.0h0M466.7 213.2h0M494.3 213.5h0M512.0 234.6h0M508.0 205.0h0M478.3 242.6h0M470.8 208.8h0M477.8 246.1h0M484.6 195.6h0M500.8 201.0h0M457.4 231.5h0M476.5 236.8h0M462.0 240.0h0M467.1 214.2h0M462.2 226.2h0M466.8 217.0h0M510.3 205.7h0M500.2 203.3h0M485.9 223.7h0M504.4 243.6h0M465.2 244.5h0M463.6 235.4h0M511.9 223.6h0M477.6 215.4h0M487.1 203.7h0M511.0 227.8h0M460.8 241.3h0M482.9 244.6h0M499.6 236.2h0M472.4 225.7h0M486.3 242.4h0M476.6 194.6h0M457.0 196.1h0" stroke="#85592f" stroke-width="1.15" stroke-linecap="round" fill="none"/><path d="M495.9 200.8h0M462.3 202.2h0M490.2 223.3h0M501.1 217.9h0M487.8 235.9h0M504.8 193.8h0M498.7 208.2h0M513.2 212.3h0M457.8 237.8h0M476.1 219.6h0M507.7 202.4h0M512.5 244.0h0M497.0 231.8h0M463.0 243.0h0M496.5 191.6h0M501.9 235.2h0M459.0 200.4h0M486.9 225.0h0M494.0 193.6h0M490.9 228.1h0M511.0 209.2h0M471.3 209.7h0M499.4 211.1h0M503.3 191.4h0M505.8 197.9h0M487.6 218.3h0M485.5 208.4h0M510.6 216.1h0M458.5 244.6h0M459.4 238.1h0M474.2 223.9h0M479.0 209.2h0M461.4 192.9h0M492.1 193.6h0M464.9 210.4h0M502.5 202.8h0M483.5 228.2h0M484.6 204.7h0M458.9 214.0h0M500.9 227.9h0M478.8 237.7h0M502.1 223.9h0M482.6 213.0h0M501.9 192.6h0M461.7 211.1h0M467.1 230.5h0M480.4 207.0h0M483.3 225.7h0M512.1 206.1h0M499.1 238.9h0M473.9 194.9h0" stroke="#6d4a2c" stroke-width="1.65" stroke-linecap="round" fill="none"/><path d="M513.4 232.2h0M470.7 228.1h0M459.7 201.9h0M465.2 235.0h0M500.3 225.7h0M504.3 212.1h0M469.1 244.8h0M493.4 227.8h0M502.5 218.9h0M466.5 195.4h0M484.7 213.2h0M511.6 219.1h0M491.3 214.7h0M487.7 243.0h0M504.7 191.3h0M478.1 198.1h0M511.9 199.0h0M506.9 240.0h0M509.7 219.0h0M501.6 202.8h0M505.3 234.4h0M495.8 214.1h0M509.2 214.1h0M461.7 204.1h0M509.5 227.4h0M478.9 215.0h0M456.5 230.9h0M459.0 246.0h0M474.7 199.3h0M474.6 222.4h0M482.6 239.0h0M457.5 215.3h0M471.8 242.6h0M487.5 238.1h0M481.2 217.4h0M483.5 220.9h0M497.7 193.1h0M501.1 201.9h0M494.3 194.9h0M504.4 238.4h0M481.5 219.7h0M456.9 234.6h0M488.1 238.9h0M488.5 214.7h0M481.0 223.3h0M480.3 237.5h0M509.1 195.7h0M496.0 242.9h0" stroke="#6d4a2c" stroke-width="1.4" stroke-linecap="round" fill="none"/><path d="M485.6 209.9h0M512.7 215.6h0M472.2 208.0h0M473.7 232.2h0M498.0 238.1h0M493.6 218.3h0M471.3 218.4h0M495.0 200.7h0M475.8 196.9h0M512.3 207.3h0M503.7 237.0h0M500.7 208.8h0M508.2 206.4h0M506.0 212.0h0M504.9 232.0h0M493.2 210.3h0M513.7 227.4h0M498.9 246.1h0M487.1 205.4h0M487.4 235.2h0M504.5 209.7h0M476.0 210.7h0M484.0 237.9h0M510.1 212.7h0M502.2 191.5h0M462.2 201.2h0M457.4 210.8h0M506.3 230.5h0M506.8 226.7h0M493.9 193.5h0M468.7 244.0h0M484.8 194.7h0M480.4 201.6h0M462.8 228.1h0M503.3 206.1h0M502.7 205.5h0" stroke="#8f89aa" stroke-width="1.4" stroke-linecap="round" fill="none"/><path d="M467.8 196.1h0M502.6 204.6h0M486.3 218.1h0M473.1 213.6h0M477.5 192.1h0M458.6 235.6h0M505.2 224.8h0M491.7 200.8h0M492.4 233.9h0M463.8 228.6h0M494.8 222.5h0M497.1 243.2h0M473.4 233.7h0M489.0 239.3h0M494.4 208.4h0M478.3 242.5h0M456.9 229.7h0M513.0 217.4h0M493.4 216.6h0M469.6 234.7h0M511.6 196.9h0M509.6 215.7h0M490.1 215.2h0M462.2 202.3h0M506.0 233.6h0M509.1 212.8h0M512.9 231.9h0M456.7 233.3h0M469.2 215.7h0M499.6 203.8h0M465.7 200.1h0M501.7 214.2h0M485.0 224.8h0M464.5 231.3h0M470.9 235.6h0M477.7 222.2h0M493.2 196.1h0M460.1 240.5h0M512.6 240.0h0M509.9 233.7h0M477.0 195.9h0M487.3 219.8h0M463.7 211.3h0" stroke="#62412a" stroke-width="1.4" stroke-linecap="round" fill="none"/><path d="M480.4 238.3h0M464.5 218.2h0M489.7 245.7h0M457.9 210.0h0M466.3 210.5h0M504.7 239.8h0M501.8 231.5h0M508.6 237.0h0M502.2 229.6h0M463.7 217.6h0M483.0 231.0h0M496.1 201.0h0M499.2 219.3h0M473.1 228.4h0M486.8 235.6h0M491.8 212.0h0M512.8 222.6h0M459.6 207.8h0M460.8 232.0h0M509.0 221.2h0M498.8 230.3h0M496.4 193.0h0M460.1 243.1h0M469.7 205.4h0M490.9 197.8h0M508.9 196.4h0M467.6 226.6h0M510.8 238.0h0M494.8 221.3h0M487.0 228.4h0M458.6 244.5h0M465.7 233.2h0M502.8 215.7h0" stroke="#8f89aa" stroke-width="1.1" stroke-linecap="round" fill="none"/><path d="M485.3 218.5h0M477.8 239.3h0M499.2 209.0h0M492.4 197.9h0M513.8 202.9h0M488.7 214.4h0M481.0 223.1h0M473.1 223.3h0M480.6 228.4h0M476.3 200.2h0M509.8 211.9h0M463.6 216.5h0M463.1 213.3h0M481.6 216.0h0M476.6 214.5h0M458.9 218.4h0M467.8 220.4h0M473.8 231.9h0M489.7 214.7h0M512.2 214.9h0M486.7 202.7h0M491.7 210.7h0M477.6 219.9h0M457.9 194.5h0M482.3 216.0h0M487.0 234.2h0M503.4 218.5h0M482.3 204.4h0M487.7 239.0h0M474.6 217.7h0M513.1 243.6h0M491.5 236.3h0M484.3 195.1h0M490.7 222.2h0M497.6 203.9h0M502.6 194.6h0M495.7 229.8h0M484.1 221.2h0M498.4 223.5h0M468.3 220.8h0M492.9 193.0h0M458.5 224.1h0" stroke="#9a94b3" stroke-width="1.4" stroke-linecap="round" fill="none"/><path d="M466.2 237.5h0M480.0 215.6h0M481.7 213.4h0M479.0 201.6h0M457.6 228.8h0M470.1 215.8h0M505.1 210.1h0M481.6 191.3h0M465.4 200.8h0M470.8 207.9h0M481.8 209.3h0M484.1 230.9h0M485.7 219.3h0M509.5 236.5h0M501.2 216.1h0M490.9 197.7h0M466.5 222.4h0M469.6 191.3h0M508.1 201.4h0M465.6 233.8h0M503.0 222.2h0M464.8 241.3h0M466.1 210.4h0M478.7 204.2h0M469.6 210.3h0M464.2 209.3h0M470.2 210.2h0M488.2 220.7h0M492.2 214.7h0M460.4 192.1h0M457.5 222.4h0M483.4 239.5h0M499.0 197.0h0M494.0 234.3h0M476.9 205.4h0M473.7 225.6h0M491.4 220.6h0M481.5 214.5h0M498.0 193.4h0M491.9 245.6h0M484.1 210.7h0M464.7 229.3h0M461.7 211.5h0M507.3 223.5h0M464.7 228.3h0M457.8 195.0h0M510.6 224.3h0" stroke="#62412a" stroke-width="1.15" stroke-linecap="round" fill="none"/><path d="M506.2 226.7h0M458.5 200.9h0M481.8 246.6h0M477.6 231.0h0M492.0 204.0h0M498.6 203.9h0M461.2 205.3h0M509.3 244.2h0M475.4 199.9h0M468.0 208.3h0M460.6 233.2h0M486.2 217.8h0M498.6 215.8h0M481.7 236.6h0M475.3 225.0h0M467.5 198.5h0M465.3 211.6h0M510.0 205.0h0M465.9 212.0h0M490.4 237.3h0M471.2 237.0h0M499.3 238.4h0M471.6 219.6h0M511.3 202.7h0M469.4 209.7h0M505.3 207.1h0M470.6 245.5h0M478.2 204.0h0M471.2 219.6h0M460.6 199.4h0M491.2 202.5h0M511.3 201.8h0M494.4 220.3h0M508.8 225.9h0" stroke="#9a94b3" stroke-width="1.1" stroke-linecap="round" fill="none"/><path d="M463.0 212.4h0M488.1 198.7h0M482.2 245.3h0M502.8 195.1h0M491.1 245.4h0M493.5 215.4h0M496.2 199.8h0M483.0 223.3h0M495.9 241.4h0M508.9 215.7h0M493.2 236.7h0M510.8 214.0h0M473.6 206.5h0M513.9 227.3h0M483.8 227.4h0M481.8 226.4h0M468.7 194.5h0M490.2 244.5h0M460.3 214.6h0M513.7 231.8h0M490.7 227.7h0M503.2 208.0h0M485.4 243.2h0M490.5 211.7h0M472.2 225.2h0M489.7 241.2h0M461.3 202.1h0M495.6 244.4h0M510.8 205.4h0M492.1 223.2h0M468.5 195.4h0M501.0 242.9h0M513.9 218.9h0M507.7 198.0h0M507.5 197.6h0M483.4 229.9h0M472.0 218.4h0M491.6 226.0h0M461.8 210.0h0M491.3 225.4h0M498.9 218.7h0M473.9 230.9h0M497.4 237.8h0M494.2 238.8h0M490.8 235.1h0M472.7 241.4h0" stroke="#6d4a2c" stroke-width="1.15" stroke-linecap="round" fill="none"/><path d="M458.8 210.9h0M485.8 224.0h0M474.9 229.2h0M513.0 215.3h0M511.5 200.1h0M456.7 214.1h0M494.2 220.9h0M506.1 202.5h0M489.3 241.5h0M513.7 207.9h0M464.2 218.7h0M501.3 223.9h0M478.4 203.8h0M481.4 212.9h0M492.9 222.5h0M464.9 214.3h0M485.1 242.1h0M492.6 194.9h0M490.9 246.2h0M494.0 211.1h0M488.3 226.2h0M472.2 240.6h0M475.8 231.0h0M460.8 223.0h0M504.3 228.8h0M487.5 218.1h0M493.4 224.4h0M489.8 216.1h0M463.1 220.0h0M498.5 199.2h0M465.5 246.1h0M509.8 207.9h0M497.2 207.5h0M468.1 206.9h0M474.4 238.6h0M468.9 198.1h0M486.3 218.8h0M479.1 243.9h0M486.1 215.5h0M494.8 206.1h0" stroke="#62412a" stroke-width="1.65" stroke-linecap="round" fill="none"/><path d="M501.7 239.5h0M476.0 217.6h0M465.5 206.9h0M467.9 238.9h0M496.3 195.0h0M491.6 193.1h0M496.4 213.3h0M468.5 244.1h0M463.4 206.9h0M500.7 237.6h0M462.5 242.8h0M473.1 245.3h0M480.1 241.0h0M471.2 230.5h0M511.6 213.1h0M504.7 204.6h0M458.5 235.2h0M481.7 240.7h0M489.8 198.0h0M499.1 242.5h0M501.6 220.9h0M493.1 246.6h0M500.1 235.9h0M487.2 224.6h0M494.3 245.4h0M480.6 226.0h0M461.9 226.0h0M466.8 196.4h0M475.1 194.5h0M503.6 239.6h0M503.1 220.7h0M459.4 191.8h0M474.2 224.8h0M498.3 233.6h0M495.9 225.2h0M473.0 196.5h0M510.1 202.5h0M457.2 196.4h0M475.8 214.3h0M458.8 210.1h0M493.4 210.1h0M503.6 218.2h0M469.8 241.5h0M483.9 206.7h0M477.6 206.6h0M463.2 240.9h0M460.9 240.1h0M461.4 213.5h0M506.9 197.1h0M503.5 237.8h0M487.5 198.0h0M500.2 245.2h0M497.7 221.8h0M460.4 218.1h0M508.7 204.3h0M459.7 199.9h0M477.7 219.1h0M462.0 196.4h0M468.3 225.3h0M505.8 233.0h0M474.2 232.8h0M486.0 222.4h0M485.7 203.2h0M458.3 235.8h0M489.9 229.7h0" stroke="#7a522e" stroke-width="1.4" stroke-linecap="round" fill="none"/><path d="M485.4 219.3h0M474.0 211.3h0M500.2 209.8h0M510.5 203.5h0M481.6 228.8h0M503.5 240.0h0M490.2 227.6h0M486.3 214.9h0M510.7 205.6h0M482.1 235.5h0M489.1 206.6h0M462.5 210.7h0M460.3 222.1h0M496.1 204.3h0M464.3 246.7h0M487.2 201.4h0M501.8 243.5h0M493.8 221.5h0M508.1 231.0h0M480.7 246.2h0M508.7 209.6h0M456.6 196.4h0M460.6 204.6h0M477.9 224.5h0M479.6 223.5h0M456.4 245.9h0M462.8 203.6h0M464.2 205.9h0M471.0 214.1h0M462.4 216.7h0M460.2 195.8h0M460.9 201.0h0M457.5 221.7h0M483.1 236.4h0M509.0 241.4h0M511.4 238.9h0M477.8 219.8h0M467.1 208.2h0M473.2 215.3h0M512.7 204.6h0M473.0 221.7h0M484.9 194.8h0M508.8 230.3h0M471.0 217.6h0" stroke="#7a522e" stroke-width="1.15" stroke-linecap="round" fill="none"/><path d="M487.0 206.6h0M464.0 210.1h0M479.6 200.2h0M501.2 207.5h0M463.2 217.1h0M479.7 219.4h0M507.0 206.1h0M464.8 213.4h0M513.2 192.7h0M481.3 246.5h0M497.3 235.7h0M464.9 196.6h0M468.9 233.9h0M510.2 212.7h0M484.4 211.4h0M471.1 230.2h0M479.2 233.6h0M512.7 220.5h0M461.7 197.3h0M487.4 196.8h0M476.4 227.6h0M491.6 233.5h0M482.1 236.8h0M488.9 245.3h0M465.1 239.7h0M493.6 218.5h0M500.6 195.4h0M473.6 203.6h0M465.0 246.9h0M464.3 223.6h0M487.0 192.1h0M479.4 240.1h0M484.0 206.2h0M482.7 221.2h0" stroke="#85592f" stroke-width="1.4" stroke-linecap="round" fill="none"/><path d="M486.2 205.1h0M505.7 204.8h0M478.3 203.9h0M486.6 199.8h0M492.0 236.3h0M479.6 204.6h0M500.4 224.2h0M496.6 245.1h0M474.6 244.7h0M462.0 227.9h0M482.1 217.3h0M477.8 228.1h0M463.0 233.0h0M485.1 207.9h0M506.9 192.9h0M496.6 219.4h0M506.7 243.6h0M471.8 242.1h0M504.0 198.4h0M474.5 194.3h0M482.2 195.6h0M457.3 214.6h0M510.3 197.0h0M471.6 222.5h0M474.8 225.7h0M501.3 230.0h0M462.4 211.8h0M511.9 212.1h0M502.5 205.9h0M476.7 209.0h0M474.2 214.4h0M505.6 220.9h0M487.1 206.9h0M503.1 228.9h0M462.9 217.6h0M466.0 220.6h0" stroke="#85592f" stroke-width="1.65" stroke-linecap="round" fill="none"/><path d="M480.7 208.7h0M508.4 197.7h0M466.5 201.6h0M488.2 224.8h0M505.4 246.2h0M481.8 233.8h0M474.4 211.8h0M482.9 222.0h0M458.2 227.4h0M509.4 208.7h0M462.3 219.2h0M473.9 211.4h0M485.2 223.2h0M501.2 230.0h0M479.3 192.5h0M461.3 210.7h0M488.7 200.7h0M465.4 205.8h0M503.0 191.5h0M481.5 198.2h0M460.7 198.1h0M471.1 236.3h0M496.7 209.3h0M475.1 202.9h0M513.0 214.4h0M513.3 194.6h0M464.2 206.7h0M463.7 237.5h0M456.8 213.4h0M470.8 226.7h0M484.7 195.7h0M494.7 201.7h0M477.1 207.2h0M469.4 236.7h0M496.6 229.6h0M460.9 236.3h0" stroke="#7a522e" stroke-width="1.65" stroke-linecap="round" fill="none"/></g></g>
<line x1="500.9" y1="244.3" x2="512.2" y2="244.3" stroke="#111" stroke-width="1"/>
<g clip-path="url(#cp10)"><g filter="url(#bl)"><rect x="398" y="248.7" width="56" height="55.9" fill="#b2a9b1"/><ellipse cx="426.5" cy="300.3" rx="3.7" ry="4.8" fill="#a08058" fill-opacity="0.18"/><ellipse cx="446.8" cy="298.4" rx="6.0" ry="4.4" fill="#a08058" fill-opacity="0.18"/><ellipse cx="425.6" cy="261.9" rx="6.1" ry="2.4" fill="#a08058" fill-opacity="0.18"/><ellipse cx="420.5" cy="275.1" rx="3.6" ry="3.5" fill="#a08058" fill-opacity="0.18"/><ellipse cx="405.1" cy="294.0" rx="6.5" ry="4.3" fill="#a08058" fill-opacity="0.18"/><ellipse cx="421.7" cy="293.1" rx="6.8" ry="3.2" fill="#a08058" fill-opacity="0.18"/><ellipse cx="425.1" cy="271.0" rx="7.8" ry="3.5" fill="#a08058" fill-opacity="0.18"/><ellipse cx="453.5" cy="285.2" rx="7.1" ry="2.7" fill="#a08058" fill-opacity="0.18"/><path d="M416.8 283.3h0M445.0 298.9h0M443.2 250.3h0M423.6 296.0h0M433.7 267.7h0M403.9 290.8h0M415.0 274.8h0M399.4 252.1h0M429.0 267.4h0M432.6 275.0h0M433.7 294.4h0M404.6 296.5h0M453.1 254.4h0M424.8 299.6h0M440.2 274.2h0M418.9 288.1h0M446.4 291.3h0M439.0 254.4h0M426.5 257.9h0M402.9 294.6h0M416.0 275.2h0M410.4 255.5h0M422.6 286.0h0M453.2 282.5h0M405.8 292.1h0M446.9 257.3h0M437.7 280.0h0M438.1 303.8h0M426.2 272.8h0M412.0 281.9h0M437.6 267.6h0M452.3 293.1h0M418.1 285.1h0M437.5 273.6h0M433.3 279.2h0M443.3 284.5h0M410.5 286.4h0M402.4 260.5h0M413.6 280.3h0M419.2 280.0h0M450.2 295.6h0M438.8 249.1h0M405.2 272.9h0M433.9 256.4h0M401.3 300.1h0M409.0 267.7h0M438.0 271.6h0M441.8 282.5h0M426.9 278.3h0M417.8 256.0h0M401.2 299.7h0M448.6 278.4h0M453.8 278.6h0M437.8 300.6h0M436.4 297.5h0M452.3 285.0h0M437.5 250.7h0M431.0 301.7h0M426.1 296.6h0M453.7 277.1h0M399.2 295.9h0M433.6 261.4h0M449.6 252.0h0M423.1 270.1h0M429.5 291.5h0M410.3 290.5h0M418.1 249.4h0M445.9 262.0h0M398.6 269.0h0M400.5 295.1h0M403.3 257.1h0M423.5 251.6h0M437.5 255.6h0M447.2 280.0h0M404.6 297.9h0M416.4 262.8h0M404.2 267.7h0M432.7 253.3h0M437.4 259.4h0M453.6 274.1h0M426.7 259.1h0M431.1 263.6h0M408.7 280.0h0M418.4 259.2h0M399.4 291.0h0M448.4 249.5h0M410.2 294.4h0M443.0 257.4h0M412.6 298.1h0M432.2 258.4h0M451.7 264.7h0M444.0 297.6h0M424.1 295.0h0" stroke="#646094" stroke-width="1.6" stroke-linecap="round" fill="none"/><path d="M431.4 290.2h0M398.5 251.1h0M415.6 268.5h0M437.5 289.3h0M453.3 271.0h0M453.8 256.5h0M450.4 276.3h0M418.0 257.2h0M446.2 280.7h0M403.3 257.2h0M439.4 265.2h0M415.7 265.0h0M445.9 271.1h0M418.2 292.5h0M441.2 270.0h0M450.0 293.0h0M410.9 265.6h0M403.6 296.6h0M417.1 277.0h0M431.6 279.6h0M436.5 256.2h0M446.3 253.8h0M450.1 283.3h0M409.0 266.4h0M419.9 290.9h0M398.6 264.8h0M402.1 304.3h0M442.1 254.8h0M438.1 260.5h0M436.1 258.6h0M424.2 288.7h0M425.4 270.4h0M421.4 273.5h0M446.7 279.7h0M406.0 254.4h0M437.0 269.4h0M412.1 251.8h0M437.9 293.1h0M442.1 284.8h0M449.0 286.5h0M449.4 260.6h0M417.1 263.8h0M418.6 299.5h0M440.4 253.4h0M447.8 288.1h0M401.8 297.1h0M438.3 291.9h0M426.6 304.1h0M418.6 268.3h0M430.4 285.4h0M448.2 287.7h0M399.4 257.6h0M427.5 301.8h0M426.0 304.2h0M398.0 278.3h0M416.4 263.2h0M439.9 263.7h0M450.0 292.4h0M439.5 302.9h0M431.5 304.1h0M413.8 274.0h0M411.3 285.8h0M400.4 287.4h0M409.0 277.1h0M398.4 274.0h0M448.2 283.9h0M450.4 281.7h0M419.4 265.2h0M447.0 274.4h0M422.1 298.9h0M421.9 255.4h0M402.4 299.8h0M424.5 290.9h0M447.4 272.8h0M428.2 295.0h0M415.4 255.0h0M404.9 297.5h0M406.7 276.1h0M440.2 252.8h0M437.9 274.5h0M428.7 272.2h0M425.0 267.1h0M448.3 303.9h0M409.1 297.2h0M421.8 259.7h0M406.4 266.2h0M431.0 262.4h0M437.8 251.8h0M421.1 303.1h0M424.1 296.2h0M414.6 259.6h0M446.1 256.2h0M423.4 258.3h0M443.7 258.5h0M447.4 249.8h0M425.5 254.4h0M409.6 276.3h0M420.8 252.1h0M435.6 287.0h0M419.6 297.6h0M432.5 279.8h0M422.7 282.2h0M408.3 304.2h0M444.1 273.0h0M411.5 278.5h0M415.0 303.6h0" stroke="#7a76a4" stroke-width="1.3" stroke-linecap="round" fill="none"/><path d="M410.1 293.7h0M418.3 291.2h0M399.1 261.5h0M403.5 299.0h0M435.9 271.3h0M441.5 257.0h0M449.9 275.4h0M451.3 292.4h0M417.0 250.7h0M401.5 258.8h0M410.6 249.4h0M449.1 273.0h0M425.2 282.7h0M442.9 257.4h0M407.0 272.4h0M438.5 288.9h0M431.5 259.6h0M428.0 265.0h0M404.1 282.0h0M425.3 251.6h0M434.8 303.6h0M433.4 284.7h0M403.3 279.7h0M407.0 267.9h0M438.5 288.5h0M416.4 249.6h0M431.5 299.3h0M413.0 272.7h0M440.1 266.4h0M429.0 280.4h0M440.1 287.2h0M418.7 278.9h0M401.2 257.0h0M451.9 264.4h0M413.0 298.4h0M446.0 259.8h0M407.6 284.3h0M447.2 266.1h0M438.9 298.6h0M452.1 250.9h0M431.8 291.5h0M413.5 290.3h0M421.3 254.4h0M419.6 274.0h0M435.3 292.5h0M401.5 269.9h0M425.3 291.2h0M415.1 275.3h0M445.4 255.4h0M435.1 298.4h0M433.7 301.7h0M418.0 281.5h0M411.2 253.5h0M447.8 283.0h0M407.3 253.8h0M439.6 279.2h0M403.6 259.3h0M448.2 271.2h0M416.9 301.3h0M443.7 269.3h0M426.0 255.6h0M446.5 291.6h0M400.0 282.0h0M435.4 258.4h0M427.4 258.3h0M413.4 290.3h0M404.3 277.3h0M412.5 289.3h0M431.5 253.9h0M406.6 300.2h0M434.4 278.4h0M431.3 261.3h0M415.6 303.0h0M401.5 288.3h0M405.0 284.2h0M404.0 249.2h0M432.9 303.3h0M400.9 249.9h0M446.7 265.5h0M433.5 259.8h0M422.9 303.7h0M419.2 294.4h0M421.5 285.5h0M444.0 282.7h0M453.5 275.5h0M427.3 258.6h0M404.0 297.4h0M451.1 264.9h0M422.3 252.5h0M452.9 258.4h0M443.0 265.6h0M415.9 249.3h0M437.3 287.6h0" stroke="#5c588b" stroke-width="1.6" stroke-linecap="round" fill="none"/><path d="M435.2 294.5h0M441.1 265.0h0M408.5 258.4h0M406.6 252.4h0M430.5 282.1h0M454.0 265.7h0M441.4 249.4h0M411.6 280.2h0M425.5 276.6h0M431.6 267.1h0M421.5 296.1h0M423.3 272.9h0M442.2 272.9h0M415.9 256.6h0M434.0 249.9h0M418.4 289.4h0M434.0 304.4h0M416.8 297.3h0M399.9 276.1h0M409.7 285.5h0M404.6 266.7h0M398.7 271.0h0M423.5 256.6h0M408.5 277.1h0M406.1 303.0h0M433.9 286.2h0M412.2 282.1h0M403.5 294.9h0M400.7 296.2h0M420.7 266.0h0M420.1 256.2h0M441.3 286.6h0M450.0 288.8h0M434.2 284.4h0M450.6 300.5h0M437.4 285.9h0M406.3 269.0h0M424.3 250.4h0M402.9 261.2h0M400.2 267.1h0M431.1 282.7h0M434.2 291.4h0M439.9 270.2h0M435.8 294.1h0M419.5 263.3h0M449.7 261.6h0M448.3 287.2h0M407.6 264.1h0M427.4 268.2h0M435.8 293.8h0M434.1 273.4h0M424.9 257.3h0M401.6 261.0h0M451.3 258.4h0M427.2 257.0h0M437.5 282.8h0M421.4 258.2h0M424.1 263.0h0M428.4 260.8h0M451.3 303.0h0M429.1 262.6h0M416.5 304.2h0M398.3 263.0h0M437.3 274.8h0M444.5 250.4h0M425.9 264.4h0M428.4 304.4h0M404.1 303.2h0M415.9 286.1h0M429.3 292.7h0M400.1 257.7h0M407.8 293.6h0M446.7 270.7h0M409.2 293.2h0M399.1 289.6h0M398.8 299.6h0M423.2 256.5h0M399.4 262.9h0M451.0 299.0h0M412.3 276.7h0M442.6 301.5h0M438.3 253.7h0M418.0 304.5h0M446.1 249.0h0M406.7 253.4h0M447.2 284.5h0M404.7 287.6h0M453.0 272.5h0M437.5 263.2h0M441.5 302.8h0" stroke="#6f6b9c" stroke-width="1.3" stroke-linecap="round" fill="none"/><path d="M448.7 302.2h0M448.4 262.7h0M432.8 265.6h0M421.5 286.0h0M451.2 301.7h0M431.1 261.8h0M403.8 300.2h0M437.7 277.3h0M436.4 292.1h0M427.6 278.2h0M427.3 292.4h0M453.6 265.9h0M419.3 268.3h0M409.5 286.0h0M448.6 292.7h0M440.4 288.0h0M408.6 284.7h0M437.9 300.8h0M446.2 253.6h0M443.5 273.7h0M429.1 255.2h0M416.2 250.0h0M428.5 296.9h0M426.3 255.2h0M444.2 301.2h0M436.7 274.5h0M439.2 291.7h0M422.8 296.7h0M439.6 273.0h0M406.3 296.2h0M414.2 284.0h0M452.9 254.7h0M427.7 269.1h0M423.5 301.9h0M410.9 260.5h0M408.0 291.1h0M451.4 250.9h0M433.7 253.9h0M429.2 250.1h0M418.1 272.6h0M421.6 269.4h0M439.8 269.4h0M415.8 253.4h0M402.0 251.8h0M410.2 253.8h0M439.3 254.2h0M409.6 255.0h0M409.8 287.3h0M449.1 254.2h0M446.6 272.7h0M403.9 268.1h0M446.0 289.3h0M408.1 284.5h0M447.9 285.8h0M425.6 254.3h0M434.5 294.7h0M441.8 282.6h0M406.0 260.3h0M409.0 276.7h0M445.6 286.4h0M452.1 303.2h0M403.1 251.7h0M406.1 277.4h0M402.2 261.1h0M430.6 304.2h0M426.3 301.6h0M402.4 256.0h0M428.0 274.5h0M439.3 254.1h0M415.8 251.9h0M446.2 251.7h0M439.9 256.7h0M406.0 249.8h0M419.4 282.0h0M434.5 272.2h0M417.0 265.8h0M441.5 254.1h0M412.4 288.0h0M414.6 290.7h0M440.9 284.4h0M411.5 277.1h0M414.8 272.7h0M436.6 263.2h0M422.6 300.0h0M418.9 296.4h0" stroke="#6f6b9c" stroke-width="1.6" stroke-linecap="round" fill="none"/><path d="M453.9 289.7h0M405.0 292.0h0M427.4 272.1h0M451.2 283.5h0M418.0 302.2h0M405.6 273.0h0M398.6 268.4h0M451.8 303.4h0M404.2 274.6h0M427.5 272.2h0M403.9 296.0h0M449.6 276.8h0M434.5 301.6h0M427.6 287.9h0M448.5 251.3h0M403.3 300.1h0M416.5 249.9h0M413.6 267.1h0M404.7 288.1h0M409.3 290.4h0M452.5 254.6h0M430.2 283.6h0M422.9 275.4h0M416.0 287.2h0M427.8 258.8h0M400.9 256.0h0M449.8 259.4h0M428.7 294.2h0M408.4 260.6h0M436.1 255.5h0M422.4 291.7h0M427.2 273.4h0M420.3 267.9h0M437.5 270.2h0M405.9 263.5h0M408.9 291.2h0M442.8 289.8h0M399.3 296.6h0M443.4 256.4h0M424.8 265.8h0M413.2 262.6h0M426.9 271.0h0M443.0 255.7h0M404.5 298.6h0M421.8 302.2h0M435.7 271.4h0M444.1 293.6h0M404.1 256.6h0M429.9 304.2h0M439.7 258.6h0M430.4 271.7h0M406.5 276.6h0M450.7 289.3h0M398.2 276.7h0M403.0 261.2h0M442.6 262.1h0M423.6 296.4h0M427.5 301.2h0M421.1 277.9h0M418.0 270.7h0M439.4 273.0h0M406.3 291.7h0M453.6 280.5h0M448.4 278.9h0M420.5 282.3h0M420.3 290.7h0M406.4 251.3h0M442.2 262.0h0M443.2 257.5h0M424.6 285.0h0M439.5 253.8h0M403.9 259.3h0M411.6 262.2h0M419.3 283.9h0M452.2 293.2h0M405.3 275.1h0M412.0 261.4h0M419.4 285.9h0M402.0 298.2h0M429.0 272.7h0M424.4 293.8h0" stroke="#7a76a4" stroke-width="1.0" stroke-linecap="round" fill="none"/><path d="M436.9 275.2h0M409.2 267.7h0M421.4 303.5h0M437.6 301.1h0M412.2 294.5h0M437.7 295.1h0M438.0 281.2h0M447.1 251.1h0M424.3 249.2h0M417.1 268.7h0M419.4 291.8h0M434.8 275.7h0M444.2 273.6h0M414.4 270.6h0M405.2 261.3h0M430.9 261.1h0M442.3 259.8h0M426.0 277.5h0M448.2 278.0h0M413.4 257.4h0M423.4 266.3h0M431.4 302.5h0M415.1 295.7h0M423.3 251.6h0M421.9 272.2h0M447.5 292.4h0M398.8 293.6h0M452.0 302.7h0M435.7 283.2h0M417.9 276.9h0M401.7 293.9h0M403.8 298.3h0M422.9 298.3h0M401.9 268.7h0M400.3 268.0h0M418.6 261.8h0M433.4 272.4h0M444.1 278.5h0M444.8 274.5h0M448.5 278.8h0M422.0 266.4h0M424.2 255.7h0M442.6 271.6h0M430.4 281.6h0M407.8 295.8h0M415.9 278.8h0M440.3 274.0h0M430.9 267.8h0M407.0 256.1h0M420.6 303.0h0M418.5 289.0h0M407.4 278.0h0M398.5 280.5h0M439.1 278.4h0M405.0 304.0h0M414.4 282.6h0M426.9 270.3h0M449.6 261.7h0M452.1 286.4h0M417.9 277.0h0M401.4 288.6h0M410.5 278.0h0M403.4 303.3h0M409.0 299.8h0M412.6 269.8h0M411.1 265.7h0M407.6 265.6h0M422.7 286.6h0M402.2 295.2h0M447.7 261.9h0M453.7 301.2h0M443.2 273.4h0M426.3 283.5h0M402.4 281.4h0M413.2 268.1h0M398.1 290.2h0M418.9 282.6h0M443.9 262.0h0M430.6 276.5h0M409.6 255.7h0M448.4 249.9h0M398.8 271.0h0M408.8 262.4h0M437.6 269.5h0M405.3 251.6h0M446.7 279.5h0M407.8 259.0h0M425.9 276.6h0M411.8 251.6h0M445.5 251.7h0M417.1 288.6h0M438.3 269.5h0M408.1 283.7h0M438.5 297.6h0M430.0 260.9h0M414.4 251.9h0M426.9 281.7h0M406.2 275.8h0M432.7 281.9h0M407.3 279.6h0M438.9 270.6h0M424.6 260.9h0" stroke="#5c588b" stroke-width="1.3" stroke-linecap="round" fill="none"/><path d="M440.9 258.5h0M452.9 256.8h0M411.5 250.9h0M414.1 298.4h0M413.6 260.5h0M400.4 284.5h0M439.2 292.5h0M400.8 301.1h0M414.7 288.5h0M430.7 278.2h0M447.6 256.5h0M398.4 278.2h0M445.3 266.1h0M446.7 299.9h0M412.2 276.9h0M431.7 255.1h0M409.8 291.9h0M438.7 260.6h0M410.6 249.4h0M422.7 273.4h0M418.4 276.1h0M408.7 254.9h0M441.1 278.0h0M434.8 297.5h0M442.1 276.0h0M445.8 274.9h0M398.2 249.2h0M400.3 271.9h0M413.1 283.4h0M422.2 263.0h0M412.8 250.5h0M424.3 297.5h0M453.8 260.8h0M409.6 272.4h0M425.1 303.7h0M431.0 255.9h0M434.7 289.7h0M411.0 269.5h0M399.3 272.0h0M430.4 289.5h0M430.6 264.1h0M428.8 267.3h0M407.7 260.6h0M442.5 260.6h0M432.5 281.1h0M399.4 293.8h0M404.4 288.5h0M451.0 294.7h0M410.4 287.9h0M437.4 293.1h0M442.2 255.3h0M429.5 278.7h0M401.0 266.8h0M431.6 261.0h0M437.5 291.9h0M408.7 281.0h0M451.3 278.6h0M446.4 268.4h0M404.5 263.7h0M417.0 262.7h0M415.5 278.2h0M451.6 267.0h0M405.0 283.7h0M441.0 281.8h0M435.9 300.1h0M423.4 295.7h0M407.5 271.8h0M450.2 271.1h0M429.7 255.3h0M399.7 271.1h0M407.4 290.6h0M445.6 269.6h0M440.2 293.0h0M418.6 299.9h0M430.6 301.8h0M417.1 268.1h0M424.0 268.5h0M404.1 259.1h0M450.4 253.2h0M430.6 271.5h0M427.3 271.2h0M422.3 300.2h0" stroke="#6f6b9c" stroke-width="1.0" stroke-linecap="round" fill="none"/><path d="M405.4 285.2h0M428.8 255.7h0M440.8 288.9h0M452.0 259.2h0M432.6 249.6h0M453.7 267.7h0M447.5 254.6h0M437.7 285.0h0M401.9 251.2h0M439.2 289.8h0M413.9 277.7h0M453.3 270.5h0M443.2 264.8h0M426.5 279.8h0M421.1 280.8h0M415.0 266.4h0M449.3 289.2h0M408.5 284.8h0M439.2 302.9h0M403.6 263.0h0M427.0 290.3h0M421.8 257.1h0M440.6 283.3h0M431.8 251.5h0M421.7 296.7h0M424.0 280.3h0M452.3 260.6h0M418.3 268.7h0M429.7 300.6h0M399.6 287.8h0M422.5 274.0h0M439.5 267.3h0M413.5 252.1h0M438.5 299.9h0M416.3 266.4h0M450.2 303.0h0M445.6 265.7h0M424.8 269.0h0M415.4 281.2h0M426.7 269.0h0M425.3 295.3h0M442.9 260.7h0M431.4 270.7h0M417.3 266.9h0M438.3 261.8h0M437.9 253.1h0M447.2 300.7h0M412.2 267.9h0M442.1 298.3h0M412.3 269.5h0M453.8 248.8h0M406.0 249.2h0M438.1 296.0h0M447.4 282.3h0M407.0 270.2h0M445.9 278.5h0M441.8 299.8h0M453.2 264.4h0M444.7 259.4h0M437.2 278.4h0M444.1 280.9h0M441.9 281.7h0M439.5 292.3h0M418.6 286.5h0M437.8 277.5h0M425.3 300.4h0M398.9 250.7h0M407.3 286.0h0M453.7 287.4h0M402.6 250.5h0M447.4 267.3h0M441.7 293.3h0M450.0 251.6h0M453.8 289.0h0M411.9 299.8h0M422.1 290.6h0M425.8 284.3h0M444.0 296.3h0M425.4 292.8h0M438.4 289.0h0M408.6 269.1h0M410.4 267.0h0M403.7 302.4h0M424.1 288.5h0M403.9 266.6h0M442.9 265.5h0M402.0 293.8h0M431.3 249.4h0M422.5 278.9h0M450.5 298.9h0M436.8 252.9h0M424.2 289.3h0M403.2 286.0h0M420.0 259.1h0M439.5 265.8h0M400.1 248.9h0" stroke="#646094" stroke-width="1.3" stroke-linecap="round" fill="none"/><path d="M436.4 267.0h0M403.2 295.9h0M414.8 287.2h0M431.0 282.5h0M447.7 270.5h0M447.9 267.9h0M420.1 261.0h0M440.0 258.7h0M444.1 252.4h0M435.6 288.9h0M400.9 288.5h0" stroke="#86654a" stroke-width="1.6" stroke-linecap="round" fill="none"/><path d="M439.8 294.1h0M445.4 265.7h0M418.9 304.6h0M439.2 270.0h0M436.0 266.9h0M437.2 301.1h0M422.0 275.9h0M434.0 273.7h0M416.7 257.9h0M430.9 293.7h0M420.5 278.5h0M443.2 264.1h0M408.3 277.0h0M410.9 265.5h0M444.2 294.4h0M421.1 255.4h0M424.5 276.2h0M453.7 292.8h0M441.8 300.8h0M427.7 271.0h0M435.5 272.3h0M409.8 290.3h0M434.6 296.4h0M451.9 272.9h0M448.5 303.6h0M400.9 288.9h0M450.3 261.8h0M413.6 255.4h0M441.0 303.5h0M434.9 277.5h0M421.3 297.0h0M433.0 265.6h0M420.4 287.8h0M430.0 288.7h0M421.2 301.7h0M407.1 284.5h0M421.9 266.6h0M445.4 295.9h0M436.7 270.3h0M451.6 262.7h0M408.9 301.8h0M399.4 272.6h0M447.0 303.5h0M409.9 279.9h0M424.1 273.7h0M428.3 278.0h0M414.3 283.7h0M424.0 292.2h0M452.3 266.6h0M405.1 281.2h0M452.4 260.0h0M436.6 265.1h0M445.6 257.5h0M430.5 266.3h0M412.9 253.2h0M412.4 288.7h0M438.7 250.6h0M414.6 296.1h0M444.0 260.7h0M418.2 292.0h0M424.7 258.0h0M450.0 281.1h0M434.2 255.2h0M399.7 288.1h0M421.4 279.3h0M431.8 301.2h0M443.5 287.5h0M438.5 266.1h0" stroke="#646094" stroke-width="1.0" stroke-linecap="round" fill="none"/><path d="M431.1 299.4h0M404.5 300.9h0M411.5 277.5h0M399.4 274.9h0M405.9 301.5h0M447.2 266.4h0M406.3 261.4h0M400.9 289.0h0M414.2 269.6h0M441.7 278.2h0M425.9 298.6h0M453.9 293.8h0M449.2 300.4h0M425.2 276.9h0M427.2 290.8h0M402.1 272.1h0M420.6 272.0h0M439.9 276.9h0M436.8 265.3h0M407.5 276.8h0M422.3 261.7h0M426.0 251.3h0M452.6 272.9h0M439.9 256.2h0M445.1 278.0h0M445.0 268.2h0M427.9 279.4h0M428.6 281.9h0M408.1 292.7h0M439.5 255.0h0M420.5 300.8h0M452.5 280.3h0M449.5 293.3h0M434.4 265.1h0M439.0 267.6h0M415.1 293.4h0M452.7 299.8h0M429.5 255.2h0M437.5 251.7h0M415.0 278.6h0M414.0 258.2h0M421.9 286.9h0M435.9 263.1h0M435.5 250.3h0M402.8 263.0h0M448.7 290.2h0M414.4 280.2h0M413.2 256.4h0M423.2 248.7h0M438.0 279.4h0M430.2 276.7h0M403.7 267.4h0M450.8 274.2h0M417.6 276.0h0M419.5 279.0h0M430.9 275.9h0M439.6 258.2h0M435.0 262.2h0M402.5 278.6h0M441.5 282.7h0M444.1 260.4h0M418.6 298.0h0M415.1 275.1h0M450.8 265.0h0M446.8 280.8h0M432.5 301.7h0M444.7 280.9h0M450.3 251.4h0M431.6 301.9h0M421.5 287.5h0M450.1 249.2h0M410.8 297.5h0M398.7 293.1h0M416.9 293.2h0M434.9 255.4h0M418.6 260.2h0M437.1 284.9h0M447.1 267.0h0" stroke="#7a76a4" stroke-width="1.6" stroke-linecap="round" fill="none"/><path d="M409.7 256.8h0M402.2 279.5h0M428.9 251.8h0M451.5 300.7h0M440.6 272.3h0M405.5 289.1h0M429.3 299.8h0M407.5 302.8h0M413.0 271.9h0M404.3 266.0h0M415.4 289.2h0M437.5 294.9h0M437.0 271.9h0M450.1 289.0h0M403.1 251.9h0M402.0 302.7h0M420.2 258.5h0M419.8 296.8h0M429.8 251.1h0M404.0 257.0h0M450.7 259.5h0M435.3 251.7h0M399.7 258.5h0M416.6 303.1h0M437.2 287.7h0M438.2 261.1h0M453.2 273.1h0M438.6 264.0h0M429.2 289.3h0M398.8 279.6h0M404.0 261.6h0M453.2 271.3h0M437.9 261.0h0M428.8 273.0h0M436.7 280.3h0M450.2 263.6h0M427.8 291.9h0M453.2 255.4h0M450.8 265.3h0M400.1 275.1h0M413.5 288.2h0M448.9 276.1h0M422.0 270.7h0M410.5 262.4h0M444.1 272.9h0M434.0 252.2h0M423.2 299.8h0M415.2 250.4h0M401.9 281.3h0M426.1 263.4h0M403.8 302.4h0M433.7 289.1h0M447.5 295.3h0M447.7 263.9h0M406.3 249.6h0M428.4 302.0h0M406.0 260.4h0M398.3 286.4h0M402.7 258.8h0M418.8 267.7h0M442.3 252.6h0M418.3 271.9h0M428.0 276.2h0M435.9 297.2h0M400.8 278.1h0M434.4 297.0h0M427.0 251.2h0M429.8 302.4h0M444.4 273.9h0M432.5 277.8h0M416.9 278.7h0M401.6 295.4h0M407.1 303.8h0M439.5 272.8h0M403.9 275.0h0M428.0 282.1h0M422.6 275.7h0M439.6 257.6h0M437.0 272.4h0M402.4 296.7h0M403.6 259.0h0M423.9 276.4h0M438.4 302.3h0" stroke="#5c588b" stroke-width="1.0" stroke-linecap="round" fill="none"/><path d="M427.5 278.1h0M417.7 290.0h0M435.8 271.3h0M417.2 299.4h0M420.9 277.2h0M439.8 284.2h0M425.1 279.4h0M438.7 279.1h0" stroke="#86654a" stroke-width="1.2" stroke-linecap="round" fill="none"/><path d="M423.1 296.5h0M417.3 302.9h0M413.7 278.1h0M403.2 298.2h0M416.3 294.0h0M417.5 275.9h0M450.5 298.7h0M450.5 264.7h0" stroke="#7a5a40" stroke-width="1.6" stroke-linecap="round" fill="none"/><path d="M436.1 294.9h0M448.1 282.0h0M433.5 256.6h0M428.6 301.6h0M441.1 266.3h0M410.3 294.0h0M419.6 289.8h0M435.2 285.3h0M419.3 289.1h0" stroke="#7a5a40" stroke-width="1.2" stroke-linecap="round" fill="none"/><path d="M448.9 261.1h0M426.1 263.1h0M432.7 288.5h0M433.5 249.0h0" stroke="#927050" stroke-width="1.6" stroke-linecap="round" fill="none"/><path d="M432.7 250.4h0M401.1 296.0h0M407.8 282.7h0" stroke="#927050" stroke-width="1.2" stroke-linecap="round" fill="none"/></g></g>
<line x1="441.5" y1="301.9" x2="451.7" y2="301.9" stroke="#111" stroke-width="1"/>
<g clip-path="url(#cp11)"><g filter="url(#bl)"><rect x="456.4" y="248.7" width="57.6" height="55.9" fill="#b3aaad"/><path d="M500.9 255.5h0M513.4 298.3h0M511.4 250.4h0M504.2 286.3h0M493.6 269.4h0M500.5 276.6h0M493.2 265.7h0M508.1 268.1h0M511.4 267.1h0M485.5 295.5h0M505.2 269.5h0M478.7 261.8h0M456.5 300.9h0M457.0 282.3h0M492.5 267.8h0M464.9 278.6h0M512.6 258.9h0M483.0 262.6h0M495.9 268.2h0M460.8 294.3h0M500.6 266.7h0M477.5 251.9h0M462.4 267.6h0M476.2 251.9h0M511.0 262.3h0M510.5 277.2h0M512.9 257.4h0M492.7 264.9h0M471.2 278.3h0M473.8 272.3h0M476.2 298.4h0M502.7 286.3h0M483.5 253.1h0M458.5 272.1h0M457.0 268.4h0M483.0 255.6h0M503.3 290.9h0M480.6 256.1h0" stroke="#9a94b3" stroke-width="1.1" stroke-linecap="round" fill="none"/><path d="M458.5 261.3h0M458.4 248.8h0M484.1 278.9h0M485.0 287.6h0M465.2 287.7h0M472.1 251.9h0M471.8 264.1h0M490.1 267.8h0M509.4 253.8h0M464.1 294.0h0M502.0 303.5h0M504.0 285.5h0M511.4 274.5h0M503.1 293.3h0M468.7 250.0h0M509.9 270.9h0M499.3 301.2h0M483.5 278.9h0M513.1 272.0h0M480.4 292.3h0M469.8 300.6h0M465.1 288.2h0M483.1 298.7h0M468.1 290.5h0M508.6 253.2h0M460.7 296.3h0M503.5 297.9h0M504.0 273.0h0M478.6 261.5h0M468.8 250.8h0M507.7 289.9h0M499.7 255.3h0M485.2 262.5h0M513.8 294.1h0M462.0 274.6h0" stroke="#9a94b3" stroke-width="1.4" stroke-linecap="round" fill="none"/><path d="M505.3 301.3h0M483.0 289.2h0M461.0 264.4h0M476.2 283.0h0M471.4 294.6h0M475.6 293.3h0M460.5 291.2h0M479.9 295.8h0M463.4 298.9h0M485.2 254.1h0M506.2 292.6h0M460.9 261.7h0M478.5 302.7h0M510.8 257.0h0M462.8 263.3h0M465.9 291.9h0M504.1 275.7h0M476.1 282.2h0M503.6 273.1h0M484.1 291.8h0M480.8 268.1h0M485.1 254.9h0M492.3 265.8h0M477.5 257.8h0M494.9 273.3h0M487.3 277.8h0M510.8 249.2h0M481.3 254.8h0M468.5 263.7h0M500.2 253.9h0M508.0 265.1h0M498.2 303.0h0M464.4 269.5h0M496.8 283.3h0M483.6 264.7h0M489.4 249.2h0M506.2 285.8h0M506.4 299.8h0M466.9 293.6h0M499.8 265.9h0M470.9 249.5h0M480.3 298.5h0M481.2 293.0h0" stroke="#7a522e" stroke-width="1.65" stroke-linecap="round" fill="none"/><path d="M471.1 300.8h0M482.6 253.5h0M495.0 256.6h0M479.5 253.1h0M501.3 274.5h0M504.6 294.6h0M494.5 265.8h0M475.7 268.0h0M489.5 275.9h0M488.3 295.3h0M484.1 274.5h0M463.0 291.9h0M497.8 286.5h0M485.6 281.0h0M467.5 287.2h0M513.3 261.4h0M499.6 302.4h0M494.6 294.6h0M491.5 259.5h0M483.3 252.5h0M466.9 301.8h0M501.7 281.1h0M490.3 270.5h0M464.8 294.0h0M499.0 288.4h0M504.6 301.7h0M485.3 300.0h0M509.3 292.9h0M489.8 268.9h0M488.1 269.3h0M513.7 302.7h0" stroke="#8f89aa" stroke-width="1.1" stroke-linecap="round" fill="none"/><path d="M463.0 265.1h0M457.9 264.2h0M457.4 264.1h0M463.6 276.2h0M490.4 295.4h0M477.2 250.0h0M493.7 268.0h0M462.2 293.1h0M457.7 260.7h0M513.3 249.6h0M487.7 277.0h0M495.0 284.9h0M493.2 251.5h0M486.3 261.9h0M457.9 250.0h0M477.1 261.6h0M490.3 298.1h0M489.3 276.8h0M504.5 276.5h0M478.9 265.7h0M465.4 264.0h0M486.7 253.9h0M473.0 276.0h0M488.0 295.2h0M502.5 302.1h0M464.2 282.3h0M462.1 289.0h0M488.2 288.4h0M496.6 262.7h0M459.5 302.0h0M484.4 275.2h0M457.7 302.9h0M500.7 258.9h0M510.0 252.2h0M483.5 260.1h0M478.9 291.1h0M466.1 285.2h0M481.9 287.0h0M488.8 276.9h0M476.1 290.0h0M469.5 282.0h0M463.2 259.9h0M474.6 287.3h0M457.7 291.3h0" stroke="#85592f" stroke-width="1.4" stroke-linecap="round" fill="none"/><path d="M465.2 267.2h0M501.2 270.9h0M499.7 287.1h0M509.5 290.7h0M477.0 298.7h0M497.6 277.9h0M511.5 289.4h0M465.3 250.2h0M511.4 296.1h0M506.8 262.0h0M473.1 291.0h0M498.6 251.5h0M501.4 286.4h0M492.9 252.5h0M477.0 301.0h0M493.7 255.3h0M512.4 268.1h0M471.5 291.9h0M459.4 287.1h0M501.8 300.9h0M479.7 287.8h0M469.8 249.7h0M463.8 299.1h0M471.4 282.3h0M486.6 301.6h0M491.3 258.5h0M497.7 267.9h0M503.3 265.9h0M461.2 254.9h0M466.8 272.5h0M499.1 260.6h0M495.1 257.1h0M473.1 287.1h0M505.0 298.7h0M498.6 267.5h0M487.7 271.4h0M470.1 259.8h0M508.6 281.4h0M463.9 266.1h0M469.6 266.4h0M459.0 298.2h0M493.8 285.1h0M489.9 251.8h0M478.9 281.1h0M485.8 271.6h0M474.5 258.6h0M461.8 295.4h0M496.3 258.8h0M473.0 249.1h0M512.8 274.8h0M472.3 269.2h0" stroke="#7a522e" stroke-width="1.4" stroke-linecap="round" fill="none"/><path d="M493.4 273.7h0M489.9 250.7h0M456.4 255.4h0M480.2 302.8h0M465.6 272.0h0M498.3 253.9h0M473.7 298.1h0M478.6 271.2h0M505.8 285.0h0M481.5 255.6h0M495.8 287.9h0M489.3 271.3h0M479.7 302.7h0M465.3 303.1h0M464.9 289.8h0M480.0 301.6h0M487.7 287.8h0M500.5 280.8h0M501.4 303.8h0M511.3 264.4h0M505.6 252.5h0M502.6 251.3h0M470.5 290.9h0M470.3 303.4h0M505.0 273.1h0M510.7 257.6h0M478.5 285.8h0M495.4 250.1h0M507.2 291.9h0M473.8 267.7h0M464.1 259.5h0M471.5 300.7h0M467.7 295.7h0M470.0 285.3h0M462.6 251.0h0M489.1 251.9h0M484.5 278.4h0M497.0 294.5h0M510.5 304.0h0M494.6 287.7h0M457.8 301.1h0M459.8 289.4h0M510.4 294.8h0M502.9 278.3h0M491.6 269.8h0M466.3 266.6h0M484.7 285.2h0M469.8 253.3h0M491.8 273.2h0M466.6 297.1h0" stroke="#6d4a2c" stroke-width="1.65" stroke-linecap="round" fill="none"/><path d="M507.0 257.3h0M472.7 270.8h0M485.0 260.4h0M480.6 298.7h0M489.9 287.5h0M478.3 288.4h0M456.8 261.8h0M512.5 300.3h0M497.8 257.5h0M495.3 262.1h0M491.6 285.4h0M470.7 290.8h0M506.9 303.1h0M480.3 266.2h0M487.9 270.4h0M479.9 267.8h0M485.2 297.3h0M467.0 286.3h0M495.7 282.6h0M490.4 267.9h0M463.5 267.6h0M513.6 290.8h0M510.1 297.6h0M477.2 250.1h0M510.0 289.3h0M461.5 250.1h0M459.3 273.3h0M495.3 254.1h0M468.4 291.2h0M458.4 276.0h0M457.4 288.0h0M513.2 278.8h0M467.5 261.2h0M488.5 252.6h0M506.4 303.9h0M483.9 282.0h0M473.9 261.7h0M469.0 277.1h0M487.2 302.6h0M490.4 293.5h0M495.5 267.8h0M457.1 295.8h0M506.6 286.4h0M464.0 259.0h0M470.0 270.1h0M492.1 258.9h0M473.5 285.2h0M513.0 298.0h0M513.8 288.2h0M487.6 278.8h0M471.5 289.3h0M487.7 280.2h0M502.5 252.9h0M488.7 258.0h0" stroke="#7a522e" stroke-width="1.15" stroke-linecap="round" fill="none"/><path d="M461.2 272.3h0M513.3 300.2h0M501.1 284.5h0M484.4 297.3h0M513.8 264.0h0M500.3 287.6h0M512.8 278.9h0M470.4 256.9h0M504.2 257.9h0M505.7 251.0h0M513.7 300.0h0M491.2 280.8h0M498.3 275.2h0M500.4 270.8h0M491.6 264.4h0M477.0 266.1h0M465.1 298.4h0M506.9 270.7h0M489.7 271.9h0M488.5 251.3h0M471.8 259.0h0M472.1 253.5h0M460.0 286.6h0M512.9 251.9h0M463.9 274.5h0M513.7 303.7h0M495.3 257.3h0M473.6 276.0h0M475.6 272.1h0M501.0 281.4h0M480.7 259.6h0M469.9 274.6h0M490.2 264.1h0M480.3 249.4h0M506.2 263.3h0M482.4 268.3h0M478.3 268.2h0M506.8 278.5h0M475.1 287.1h0M505.4 294.4h0M505.9 251.4h0M461.0 277.5h0M488.2 255.6h0M509.6 290.4h0M489.9 268.0h0M488.6 256.6h0M506.9 271.6h0M479.7 270.2h0M497.5 258.1h0M468.9 294.7h0M462.2 289.5h0M499.0 295.8h0" stroke="#62412a" stroke-width="1.15" stroke-linecap="round" fill="none"/><path d="M481.9 256.2h0M510.8 252.0h0M476.3 273.1h0M473.0 250.3h0M459.4 264.5h0M485.8 263.7h0M472.5 257.6h0M487.8 275.0h0M489.6 264.2h0M476.8 277.4h0M474.0 291.7h0M470.9 282.3h0M494.4 270.8h0M466.6 265.8h0M492.7 289.2h0M481.5 284.4h0M488.5 276.7h0M503.8 276.7h0M494.1 250.7h0M476.3 265.9h0M485.0 283.9h0M503.6 260.0h0M481.3 296.0h0M499.6 299.0h0M507.4 274.1h0M485.7 261.0h0M474.0 276.3h0M502.1 287.6h0M490.4 270.4h0M486.6 287.3h0M501.6 271.7h0M494.6 284.9h0M474.1 264.6h0M484.3 269.9h0M486.6 291.6h0M477.5 256.0h0M481.4 257.4h0M497.0 267.1h0M482.5 252.7h0M507.1 263.5h0M462.4 296.0h0M460.2 298.3h0M506.5 279.8h0M504.1 260.5h0M472.4 296.4h0M507.4 257.8h0M492.7 293.9h0M513.3 257.2h0M513.8 253.1h0M487.1 269.1h0M471.4 253.0h0M494.7 297.3h0M467.5 297.3h0M479.0 276.9h0M509.1 271.0h0" stroke="#62412a" stroke-width="1.4" stroke-linecap="round" fill="none"/><path d="M488.7 294.1h0M481.0 253.2h0M478.8 251.0h0M460.7 251.5h0M478.8 287.7h0M511.4 250.5h0M485.2 259.2h0M461.5 298.2h0M475.5 264.3h0M495.8 287.0h0M468.1 290.4h0M475.5 259.5h0M497.3 249.6h0M475.8 265.5h0M469.2 294.0h0M477.8 298.1h0M498.1 262.7h0M502.1 301.1h0M481.8 303.3h0M514.0 266.8h0M494.0 288.5h0M457.4 277.4h0M487.9 256.6h0M503.9 293.7h0M491.5 281.2h0M471.5 268.1h0M497.3 261.1h0M487.2 254.8h0M511.2 267.5h0M477.6 295.7h0M479.6 265.9h0M493.2 255.4h0M463.7 254.9h0M457.0 294.1h0M488.3 299.1h0M471.1 303.0h0M494.2 300.2h0M456.8 291.4h0M495.2 301.9h0M462.6 272.5h0M468.7 293.7h0M501.2 276.0h0" stroke="#85592f" stroke-width="1.15" stroke-linecap="round" fill="none"/><path d="M464.8 301.6h0M504.9 283.3h0M483.5 297.4h0M466.3 253.8h0M461.9 283.1h0M484.0 282.7h0M463.8 275.8h0M486.8 288.8h0M496.6 249.5h0M467.7 260.5h0M509.9 301.6h0M505.7 284.4h0M485.9 299.6h0M503.4 284.7h0M487.4 255.8h0M491.8 287.6h0M488.2 272.1h0M457.9 278.1h0M462.2 290.5h0M490.9 258.2h0M503.7 303.3h0M511.8 285.8h0M472.3 273.7h0M490.8 284.9h0M502.1 257.1h0M474.3 251.9h0M467.8 288.5h0M468.3 290.6h0M473.5 283.5h0M480.5 279.9h0M498.2 298.8h0M478.8 292.2h0M480.3 269.3h0" stroke="#6d4a2c" stroke-width="1.15" stroke-linecap="round" fill="none"/><path d="M471.3 274.0h0M503.4 276.9h0M461.5 266.1h0M482.7 268.0h0M501.5 272.7h0M506.2 291.1h0M470.4 292.2h0M478.5 264.3h0M507.6 259.8h0M500.5 298.0h0M489.5 294.8h0M514.0 254.6h0M503.5 303.9h0M474.1 299.0h0M503.8 296.5h0M510.7 300.1h0M487.9 286.1h0M495.5 301.6h0M493.1 265.6h0M469.7 263.9h0M503.9 249.8h0M496.6 299.5h0M479.0 252.8h0M504.0 290.0h0M457.6 252.2h0M509.3 300.5h0M467.6 271.6h0M494.7 278.7h0M498.1 272.6h0M462.8 297.5h0M480.0 280.7h0M508.7 271.1h0M477.1 277.3h0M467.0 262.0h0M494.7 299.8h0M467.0 277.8h0M458.0 295.6h0M478.5 255.1h0M504.7 275.5h0M465.5 264.1h0M507.1 284.8h0M503.0 258.9h0M502.2 303.3h0M502.7 294.6h0M499.3 268.4h0M469.0 262.3h0M459.0 280.9h0M486.7 304.4h0" stroke="#62412a" stroke-width="1.65" stroke-linecap="round" fill="none"/><path d="M501.3 253.6h0M506.4 254.9h0M474.7 263.6h0M487.4 256.3h0M480.1 259.9h0M462.4 249.1h0M464.5 264.2h0M485.9 286.0h0M476.8 284.8h0M467.9 275.9h0M496.8 275.2h0M512.3 278.2h0M476.0 266.0h0M496.6 272.8h0M472.9 268.3h0M490.9 268.6h0M481.4 283.6h0M494.6 288.3h0M476.5 287.9h0M490.6 271.8h0M461.6 256.1h0M513.3 255.2h0M472.4 278.3h0M491.8 279.2h0M468.4 272.0h0M511.9 288.5h0M504.3 302.4h0M461.2 268.2h0M509.1 283.3h0M478.5 302.7h0M496.9 302.7h0M479.5 271.0h0M471.5 294.1h0M462.6 249.9h0M495.0 275.4h0M496.3 290.2h0M460.8 295.7h0M507.5 299.4h0M492.2 265.3h0M466.7 294.9h0M485.0 250.6h0M511.3 253.1h0" stroke="#85592f" stroke-width="1.65" stroke-linecap="round" fill="none"/><path d="M470.4 268.0h0M474.9 261.7h0M477.0 264.0h0M472.5 304.4h0M469.4 274.1h0M489.4 249.9h0M485.8 279.9h0M470.6 300.5h0M463.3 295.4h0M473.0 300.8h0M476.0 256.7h0M468.1 270.8h0M491.7 282.4h0M463.3 270.2h0M470.1 282.3h0M457.8 286.0h0M492.8 257.1h0M489.3 298.2h0M507.5 255.2h0M489.9 291.1h0M481.6 250.6h0M501.3 259.7h0M477.8 265.2h0M478.6 296.4h0M496.1 254.0h0M502.2 296.4h0M505.3 265.0h0M483.9 304.4h0M483.6 285.8h0M488.3 260.4h0M461.5 263.9h0M487.3 253.4h0M503.2 274.6h0M467.1 293.7h0" stroke="#8f89aa" stroke-width="1.4" stroke-linecap="round" fill="none"/><path d="M477.2 289.4h0M473.8 251.6h0M475.1 269.4h0M512.6 277.0h0M480.7 250.9h0M464.9 292.8h0M504.5 291.9h0M496.9 261.8h0M502.5 260.6h0M495.7 276.8h0M510.0 269.0h0M465.4 268.5h0M476.1 264.5h0M458.3 249.4h0M497.5 274.6h0M509.9 284.0h0M506.4 269.5h0M477.1 292.2h0M466.6 276.6h0M482.9 292.7h0M482.8 296.7h0M493.0 298.0h0M488.0 261.6h0M512.0 270.3h0M476.1 292.0h0M500.9 260.9h0M460.4 279.6h0M502.0 276.8h0" stroke="#6d4a2c" stroke-width="1.4" stroke-linecap="round" fill="none"/></g></g>
<line x1="500.9" y1="301.9" x2="512.2" y2="301.9" stroke="#111" stroke-width="1"/>
<g clip-path="url(#cp20)"><g filter="url(#bl)"><rect x="398" y="306.8" width="56" height="56.2" fill="#b2a9b1"/><ellipse cx="440.9" cy="359.7" rx="4.1" ry="4.8" fill="#a08058" fill-opacity="0.18"/><ellipse cx="408.5" cy="344.2" rx="7.6" ry="5.1" fill="#a08058" fill-opacity="0.18"/><ellipse cx="404.1" cy="311.1" rx="4.6" ry="2.1" fill="#a08058" fill-opacity="0.18"/><ellipse cx="422.9" cy="356.8" rx="3.2" ry="3.9" fill="#a08058" fill-opacity="0.18"/><ellipse cx="440.8" cy="355.7" rx="5.6" ry="2.4" fill="#a08058" fill-opacity="0.18"/><ellipse cx="435.1" cy="338.0" rx="4.7" ry="2.3" fill="#a08058" fill-opacity="0.18"/><ellipse cx="408.1" cy="335.5" rx="4.1" ry="4.3" fill="#a08058" fill-opacity="0.18"/><ellipse cx="433.8" cy="326.5" rx="3.6" ry="4.6" fill="#a08058" fill-opacity="0.18"/><ellipse cx="410.6" cy="351.1" rx="4.6" ry="4.8" fill="#a08058" fill-opacity="0.18"/><ellipse cx="442.0" cy="319.3" rx="6.9" ry="5.9" fill="#a08058" fill-opacity="0.18"/><ellipse cx="412.2" cy="345.4" rx="5.6" ry="4.9" fill="#a08058" fill-opacity="0.18"/><ellipse cx="432.7" cy="357.3" rx="5.8" ry="3.8" fill="#a08058" fill-opacity="0.18"/><path d="M400.9 323.8h0M408.9 333.4h0M412.3 345.5h0M436.2 330.3h0M439.1 352.5h0M445.3 337.0h0M421.2 316.9h0M451.8 352.4h0M433.6 342.8h0M404.8 341.4h0M448.6 357.9h0M399.5 341.6h0M417.3 320.9h0M399.5 342.6h0M430.1 333.5h0M428.7 329.6h0M400.1 343.1h0M401.7 334.7h0M449.2 358.8h0M407.6 359.9h0M446.5 339.1h0M404.9 353.0h0M430.4 328.1h0M425.1 355.2h0M409.1 355.1h0M409.8 313.2h0M404.8 349.1h0M437.1 311.6h0M400.1 326.6h0M441.1 333.3h0M419.0 318.3h0M450.7 307.7h0M427.9 362.0h0M452.2 323.6h0M449.1 330.5h0M449.3 310.8h0M399.7 345.3h0M410.1 351.2h0M422.5 313.5h0M441.0 351.8h0M438.4 342.6h0M443.7 333.7h0M423.6 308.5h0M412.4 334.6h0M411.9 328.9h0M401.4 323.6h0M427.9 340.3h0M422.0 360.0h0M398.2 325.6h0M407.4 344.9h0M425.8 332.4h0M430.4 362.4h0M404.4 345.9h0M419.8 330.3h0M423.3 354.0h0M453.0 316.4h0M453.6 332.8h0M451.2 325.6h0M414.2 331.9h0M418.9 326.7h0M446.5 360.1h0M400.4 322.8h0M412.7 359.8h0M425.6 317.7h0M426.4 336.3h0M453.2 348.0h0M449.5 323.4h0M447.4 357.3h0M420.3 362.6h0M449.1 342.7h0M415.4 308.3h0M415.6 353.3h0M441.6 346.4h0M434.1 332.2h0M399.5 318.7h0" stroke="#7a76a4" stroke-width="1.0" stroke-linecap="round" fill="none"/><path d="M419.3 309.5h0M404.7 354.0h0M412.1 308.2h0M434.9 311.0h0M433.3 321.0h0M414.2 326.5h0M403.2 355.7h0M427.7 333.8h0M442.5 312.3h0M425.5 315.4h0M413.4 317.4h0M436.0 354.9h0M442.5 345.1h0M434.5 347.4h0M408.3 321.1h0M431.4 362.4h0M446.2 330.4h0M415.6 360.3h0M438.8 356.6h0M415.1 335.7h0M442.5 311.5h0M444.8 352.8h0M409.4 320.5h0M438.4 353.8h0M441.3 309.3h0M429.3 346.1h0M427.1 326.7h0M427.8 323.6h0M421.2 308.0h0M446.1 315.1h0M409.9 353.8h0M408.4 355.9h0M399.0 349.5h0M445.0 340.0h0M431.9 347.8h0M407.5 354.3h0M399.7 360.9h0M410.8 355.2h0M413.0 351.4h0M403.9 360.0h0M409.7 347.1h0M433.7 339.1h0M453.3 308.9h0M401.7 358.9h0M407.1 307.3h0M429.8 351.7h0M452.6 346.3h0M439.5 344.5h0M423.9 338.9h0M441.9 349.6h0M442.3 359.0h0M400.2 354.8h0M443.7 317.9h0M449.2 316.6h0M444.3 346.9h0M436.8 317.0h0M404.1 336.3h0M428.1 310.2h0M416.0 329.0h0M414.3 351.3h0M408.6 354.1h0M398.1 359.2h0M439.6 325.9h0M432.8 344.9h0M445.2 351.0h0M433.4 336.9h0M413.9 335.9h0M406.0 311.6h0M421.4 352.5h0M453.6 347.6h0M400.3 352.0h0M425.1 357.3h0M442.0 335.4h0M402.9 328.2h0M430.1 361.0h0M438.8 316.2h0M429.5 336.3h0M405.4 337.5h0M449.3 351.8h0M436.5 341.5h0M445.4 340.4h0M406.9 362.8h0M431.9 362.8h0" stroke="#7a76a4" stroke-width="1.3" stroke-linecap="round" fill="none"/><path d="M405.2 341.5h0M430.2 341.3h0M411.3 356.3h0M426.9 330.5h0M421.8 322.5h0M438.7 352.8h0M407.4 318.4h0M424.4 323.1h0M432.2 354.1h0M418.3 362.2h0M419.8 355.5h0M438.8 344.6h0M437.3 347.9h0M442.8 326.6h0M409.5 332.4h0M431.7 309.5h0M408.4 336.6h0M452.3 359.5h0M452.0 314.4h0M443.6 335.9h0M453.9 350.9h0M403.5 355.2h0M437.2 346.1h0M410.7 318.5h0M417.5 331.1h0M443.2 322.7h0M443.6 346.1h0M410.1 336.3h0M428.0 356.4h0M421.9 307.7h0M434.4 350.1h0M433.3 333.7h0M424.4 350.5h0M420.2 325.9h0M427.6 342.3h0M420.5 346.9h0M422.3 314.4h0M407.7 309.0h0M428.6 355.5h0M425.7 315.5h0M420.5 331.0h0M426.4 353.0h0M409.6 342.0h0M413.7 343.8h0M433.7 348.6h0M421.0 336.6h0M421.6 339.5h0M453.2 342.9h0M432.4 309.5h0M451.0 311.0h0M439.9 342.6h0M411.7 330.4h0M429.3 337.9h0M452.9 342.7h0M422.8 317.5h0M421.2 361.3h0M414.8 315.5h0M444.5 325.7h0M412.7 319.2h0M426.9 315.4h0M411.0 352.1h0M422.2 307.0h0M449.7 355.9h0M452.3 335.9h0M417.7 331.2h0M428.9 315.1h0M435.5 322.1h0M424.5 333.8h0M417.8 333.4h0" stroke="#646094" stroke-width="1.0" stroke-linecap="round" fill="none"/><path d="M448.4 315.6h0M420.0 339.0h0M436.7 336.6h0M441.6 353.3h0M398.7 359.2h0M436.9 334.9h0M437.4 317.9h0M449.4 343.5h0M427.9 311.3h0M426.9 327.5h0M438.6 330.1h0M418.4 312.9h0M429.1 324.9h0M443.5 346.9h0M406.2 318.3h0M444.3 308.5h0M441.3 334.4h0M437.3 340.7h0M436.1 339.5h0M436.7 350.6h0M402.1 336.8h0M406.4 306.9h0M423.6 334.1h0M413.5 331.4h0M399.8 307.7h0M453.1 311.4h0M404.9 352.7h0M401.2 344.4h0M452.0 339.0h0M398.8 333.8h0M442.9 338.8h0M413.7 320.0h0M447.4 358.0h0M440.4 357.7h0M401.1 338.2h0M451.6 308.6h0M429.8 357.5h0M432.2 318.0h0M399.5 362.2h0M417.2 347.5h0M448.7 326.0h0M429.0 337.0h0M451.5 315.3h0M431.2 315.0h0M440.6 319.2h0M418.9 308.9h0M444.1 344.9h0M442.1 319.3h0M440.3 344.1h0M406.2 335.5h0M410.5 309.1h0M452.6 353.5h0M431.3 328.8h0M433.0 311.2h0M416.2 323.5h0M420.8 347.9h0M424.5 357.4h0M451.9 357.2h0M419.3 334.5h0M398.3 315.7h0M409.2 308.4h0M415.2 322.6h0M417.2 318.9h0M429.3 308.3h0M421.2 354.1h0M427.3 348.0h0M404.7 341.4h0M436.1 356.5h0M435.2 336.3h0M411.1 320.6h0M402.6 331.1h0M449.9 325.3h0M442.3 335.8h0M404.8 309.8h0M437.3 320.8h0M440.0 350.0h0M418.3 306.8h0M415.0 356.5h0M439.6 357.5h0M429.8 339.1h0M438.5 322.6h0M413.2 342.7h0M415.3 322.2h0M432.6 352.2h0M440.9 362.4h0M423.4 309.8h0M431.6 334.9h0M420.1 323.3h0M412.4 348.8h0M423.7 316.8h0M414.6 350.4h0M447.6 320.0h0" stroke="#6f6b9c" stroke-width="1.0" stroke-linecap="round" fill="none"/><path d="M405.3 328.0h0M413.8 316.2h0M401.0 336.6h0M441.8 331.9h0M408.0 334.3h0M405.9 360.3h0M452.7 312.9h0M449.9 333.9h0M444.8 327.0h0M413.2 345.9h0M417.8 341.9h0M438.9 314.8h0M420.9 318.5h0M413.4 354.0h0M449.7 356.1h0M441.3 345.6h0M430.2 327.4h0M424.3 342.5h0M414.0 360.8h0M444.9 325.4h0M400.3 357.3h0M418.1 306.9h0M410.2 358.9h0M443.5 359.0h0M436.6 350.7h0M418.8 349.7h0M424.3 358.8h0M402.0 352.7h0M451.5 327.9h0M427.0 351.2h0M427.2 350.0h0M422.9 326.1h0M424.5 346.0h0M416.2 344.3h0M431.6 355.2h0M431.5 318.3h0M425.8 360.1h0M444.4 362.1h0M403.8 347.2h0M398.1 361.3h0M404.4 324.1h0M414.6 347.7h0M438.4 332.1h0M414.9 309.2h0M450.4 359.1h0M436.1 348.8h0M426.4 351.1h0M398.3 310.2h0M402.8 350.4h0M415.2 338.5h0M405.7 338.3h0M429.0 314.6h0M452.2 318.4h0M451.9 359.8h0M435.5 328.4h0M432.5 333.2h0M398.8 338.2h0M416.8 346.3h0M415.1 346.1h0M406.8 340.2h0M433.8 310.1h0M432.2 340.0h0M398.8 336.1h0M436.0 322.9h0M400.6 356.0h0M448.7 327.8h0M452.1 332.6h0M411.4 341.6h0M453.7 317.8h0M424.3 335.0h0M403.4 362.3h0M447.7 331.5h0M444.6 335.8h0M445.0 320.6h0M419.1 335.9h0M419.5 343.7h0M401.6 345.8h0M435.4 310.5h0M430.8 354.6h0M413.1 349.0h0M403.9 358.3h0M427.9 337.6h0M405.2 340.6h0M429.1 319.5h0M452.5 343.4h0M412.5 328.2h0M441.7 324.7h0M423.4 340.9h0M407.8 343.6h0M443.4 348.3h0M419.7 354.8h0M448.2 348.4h0M421.6 361.6h0M403.2 321.6h0M446.9 322.7h0M441.7 308.9h0M406.1 356.1h0" stroke="#646094" stroke-width="1.3" stroke-linecap="round" fill="none"/><path d="M417.5 350.1h0M405.8 358.0h0M431.6 351.7h0M409.1 360.8h0M434.4 354.4h0M445.2 342.5h0M442.9 319.1h0M419.4 332.5h0M406.3 348.8h0M417.9 339.5h0M399.9 340.4h0M424.1 317.0h0M427.0 318.5h0M449.3 325.1h0M451.4 325.8h0M453.0 353.5h0M437.2 359.2h0M442.1 353.5h0M434.3 311.6h0M423.7 351.3h0M452.1 354.8h0M452.4 321.4h0M448.5 307.5h0M422.6 310.8h0M428.0 351.8h0M408.9 324.9h0M415.9 307.3h0M426.0 356.0h0M413.8 324.1h0M404.5 308.9h0M411.8 335.8h0M416.8 351.4h0M414.7 322.5h0M421.7 315.0h0M452.1 340.2h0M399.6 325.7h0M403.6 335.7h0M400.7 320.3h0M436.2 336.4h0M408.2 323.2h0M399.5 354.3h0M434.8 308.9h0M420.5 334.7h0M430.4 362.0h0M412.3 354.5h0M432.5 362.3h0M431.6 335.9h0M447.4 337.8h0M404.6 307.8h0M430.9 326.2h0M453.1 344.2h0M415.2 346.0h0M443.8 350.4h0M424.3 312.3h0M409.0 338.5h0M408.1 312.4h0M401.2 350.2h0M401.0 323.2h0M438.3 336.0h0M417.5 335.6h0M453.0 358.1h0M453.8 322.5h0M433.7 343.5h0M415.1 344.9h0M453.4 328.9h0M417.1 347.9h0M398.5 330.1h0M404.7 328.5h0M414.2 333.9h0M449.5 346.1h0M425.3 322.3h0M445.3 337.3h0M427.6 333.1h0M424.7 314.2h0M403.4 323.8h0M451.9 343.0h0M417.1 353.2h0M422.0 338.7h0M445.1 336.7h0M452.9 321.7h0M451.6 310.6h0M425.8 313.4h0M435.4 309.6h0M454.0 360.2h0M428.4 323.8h0M448.6 312.8h0M406.6 344.7h0M407.5 331.6h0" stroke="#5c588b" stroke-width="1.0" stroke-linecap="round" fill="none"/><path d="M441.4 353.7h0M419.9 318.0h0M400.6 352.5h0M451.7 358.6h0M451.8 326.0h0M417.8 337.4h0M447.8 309.0h0M407.7 328.1h0M433.5 347.6h0M408.1 339.2h0M406.1 352.9h0M422.4 325.5h0M453.0 347.2h0M429.2 320.8h0M441.2 355.0h0M439.3 335.6h0M449.1 359.6h0M437.7 353.1h0M411.3 343.6h0M419.6 313.6h0M419.4 333.0h0M446.5 322.6h0M432.2 314.0h0M451.6 353.8h0M425.9 308.4h0M425.7 359.9h0M415.5 324.6h0M440.8 352.0h0M406.9 313.3h0M449.3 350.1h0M410.4 328.6h0M435.2 347.0h0M416.2 357.9h0M450.2 356.4h0M424.2 337.2h0M403.5 360.5h0M398.1 343.9h0M420.7 319.8h0M452.9 318.9h0M447.1 352.3h0M406.7 348.8h0M427.7 325.8h0M413.8 333.0h0M412.8 347.3h0M433.0 332.3h0M444.5 326.6h0M410.7 333.0h0M398.2 311.2h0M443.9 320.7h0M441.8 334.8h0M440.6 346.5h0M406.1 314.6h0M438.7 357.1h0M438.9 338.5h0M447.1 345.0h0M425.6 354.3h0M405.5 352.0h0M453.9 310.9h0M427.2 357.0h0M439.9 342.6h0M426.7 324.8h0M446.4 354.2h0M419.5 310.0h0M432.7 339.3h0M437.4 316.7h0M405.7 332.1h0M413.5 330.9h0M431.1 319.3h0M451.4 328.9h0M429.4 307.9h0M439.1 321.6h0M406.9 359.0h0M426.7 355.9h0M433.3 342.5h0M438.6 337.2h0M398.1 328.3h0M416.2 335.1h0M452.0 324.4h0M412.5 350.6h0M429.1 336.1h0" stroke="#5c588b" stroke-width="1.3" stroke-linecap="round" fill="none"/><path d="M449.5 350.7h0M442.2 341.0h0M405.6 351.7h0M411.7 333.9h0M424.8 362.9h0M416.3 357.0h0M440.6 328.0h0M442.2 320.9h0M423.0 340.7h0M404.8 324.1h0M419.9 332.7h0M440.2 316.9h0M445.3 315.9h0M442.6 346.2h0M399.6 333.8h0M423.1 313.1h0M419.5 325.2h0M453.0 343.3h0M400.4 333.6h0M405.0 320.4h0M429.1 341.8h0M432.5 335.9h0M453.4 333.8h0M446.0 327.2h0M419.7 329.7h0M402.9 350.9h0M451.5 347.9h0M417.0 311.0h0M417.1 315.1h0M450.9 355.6h0M432.3 345.3h0M442.0 310.1h0M428.3 311.5h0M405.5 343.4h0M428.7 318.2h0M405.6 329.5h0M413.4 309.8h0M409.3 316.9h0M406.5 344.7h0M412.9 319.8h0M434.6 341.9h0M421.3 343.3h0M424.6 314.2h0M449.0 351.9h0M402.7 339.4h0M447.2 353.9h0M451.1 343.7h0M406.5 344.6h0M406.1 349.9h0M436.4 311.2h0M447.4 360.3h0M430.9 347.7h0M404.9 361.7h0M435.0 322.2h0M445.2 341.2h0M451.6 317.6h0M441.1 351.9h0M401.6 343.6h0M432.4 360.4h0M414.9 320.8h0M441.8 341.2h0M406.8 350.5h0M453.1 351.2h0M418.2 350.3h0M449.7 354.3h0M441.7 340.9h0M411.1 316.2h0M449.1 319.7h0M430.1 347.3h0M423.3 360.5h0M411.5 309.3h0M399.9 307.8h0M407.4 358.1h0M415.6 341.2h0M426.4 329.9h0M421.5 356.7h0M400.1 324.2h0M402.3 357.3h0M426.8 356.7h0M401.7 315.3h0M411.7 326.2h0M405.9 329.3h0M419.6 334.5h0M427.6 322.0h0M450.4 315.9h0M431.2 320.4h0M414.0 339.4h0M421.3 356.9h0M424.3 324.7h0M430.8 340.2h0M441.9 310.1h0M439.0 307.5h0M440.3 361.2h0M417.7 335.4h0M449.4 333.6h0" stroke="#6f6b9c" stroke-width="1.6" stroke-linecap="round" fill="none"/><path d="M414.6 352.1h0M442.1 324.1h0M437.0 347.8h0M430.4 342.1h0M433.6 334.0h0M410.0 343.1h0M420.8 311.5h0M406.4 323.4h0M403.0 350.1h0M408.8 311.4h0M406.2 361.5h0M426.4 350.0h0M453.4 357.2h0M453.0 344.0h0M412.4 335.1h0M420.4 352.2h0M399.5 330.1h0M432.3 348.7h0M402.8 319.4h0M453.4 355.6h0M431.1 337.4h0M400.3 341.0h0M413.8 316.7h0M434.0 354.6h0M429.4 323.5h0M433.3 358.2h0M452.5 313.1h0M436.1 335.2h0M434.0 319.2h0M409.6 337.5h0M442.6 334.8h0M422.4 322.9h0M415.7 322.0h0M408.4 348.1h0M437.3 345.7h0M423.5 333.7h0M431.1 332.7h0M400.1 333.8h0M399.9 338.9h0M436.3 351.0h0M414.5 312.1h0M427.4 330.7h0M416.8 352.3h0M413.5 352.7h0M406.3 321.8h0M432.1 311.1h0M423.5 351.2h0M410.5 317.2h0M398.5 330.3h0M400.6 307.3h0M412.7 324.4h0M435.4 359.5h0M428.7 356.4h0M426.9 332.0h0M398.3 359.0h0M449.4 324.7h0M418.1 342.8h0M420.2 358.4h0M433.8 325.5h0M416.1 337.5h0M421.4 322.7h0M441.7 318.4h0M423.5 343.9h0M444.4 347.7h0M424.2 312.9h0M429.3 332.0h0M411.1 317.9h0M436.8 333.0h0M443.6 320.4h0M402.6 330.0h0M443.5 310.7h0M407.0 320.7h0M431.4 356.2h0M444.5 357.0h0M407.1 319.7h0M437.3 328.9h0M453.1 353.9h0M418.4 321.3h0M416.3 359.0h0M419.3 342.9h0M411.8 309.0h0M441.1 331.0h0M443.1 311.8h0M398.7 311.5h0" stroke="#7a76a4" stroke-width="1.6" stroke-linecap="round" fill="none"/><path d="M431.4 318.9h0M427.7 337.4h0M435.0 349.6h0M450.3 354.1h0M452.2 362.5h0M445.7 329.2h0M400.2 347.1h0M403.8 317.6h0M443.3 313.3h0M437.7 311.9h0M405.2 347.1h0M402.9 330.7h0M402.4 329.5h0M438.5 321.7h0M426.7 329.0h0M429.1 332.7h0M440.8 328.1h0M434.0 310.4h0M403.9 359.2h0M399.7 358.3h0M398.3 324.4h0M436.5 362.7h0M404.8 339.6h0M450.5 337.9h0M403.3 313.0h0M403.6 324.8h0M450.9 308.9h0M425.6 350.7h0M405.2 349.5h0M452.7 335.0h0M429.3 328.4h0M401.7 315.8h0M440.6 339.9h0M449.8 358.5h0M412.0 325.8h0M419.9 340.6h0M428.3 307.4h0M448.9 337.7h0M445.8 315.5h0M415.3 324.4h0M424.7 310.7h0M438.8 338.3h0M417.0 359.8h0M401.9 319.6h0M438.6 348.0h0M402.0 327.3h0M400.6 331.4h0M417.1 341.4h0M410.2 360.2h0M409.9 309.0h0M415.8 349.9h0M419.1 310.0h0M446.7 351.8h0M399.5 358.7h0M426.1 310.5h0M418.7 343.4h0M425.5 341.3h0M438.3 334.5h0M440.8 310.0h0M453.0 349.7h0M437.8 312.1h0M421.3 339.5h0M452.4 351.2h0M424.2 345.7h0M429.2 362.7h0M400.4 329.9h0M406.4 315.4h0M419.7 311.2h0M432.3 348.0h0M452.1 332.4h0M405.8 318.9h0M450.7 362.2h0M427.3 357.4h0M447.2 350.9h0M426.7 328.2h0M427.9 316.9h0M435.8 319.9h0M423.8 324.5h0M398.8 349.0h0M403.8 326.7h0M398.5 335.5h0M425.9 359.9h0M435.9 349.7h0M398.9 351.9h0M448.5 332.3h0M412.5 315.6h0" stroke="#646094" stroke-width="1.6" stroke-linecap="round" fill="none"/><path d="M412.7 308.9h0M402.0 344.9h0M447.8 316.3h0M437.6 358.4h0M432.6 320.3h0M427.5 360.8h0M398.1 339.5h0M399.6 356.2h0M450.4 346.7h0M428.0 331.5h0M446.0 314.5h0M426.2 344.8h0M400.3 315.1h0M406.3 352.2h0M407.2 334.9h0M450.5 348.8h0M408.3 327.3h0M447.5 319.7h0M423.9 327.0h0M411.2 349.5h0M425.0 349.7h0M453.8 361.4h0M404.9 316.2h0M428.8 358.0h0M436.7 337.8h0M444.0 343.5h0M446.9 351.1h0M441.5 329.5h0M421.1 336.6h0M402.6 359.1h0M452.5 329.8h0M420.8 307.3h0M431.1 327.4h0M435.1 312.0h0M405.9 347.0h0M414.2 335.6h0M448.9 328.2h0M420.6 322.8h0M416.9 339.6h0M406.1 342.9h0M445.8 312.4h0M444.3 333.7h0M419.1 345.7h0M425.4 357.0h0M418.9 312.9h0M414.9 362.9h0M398.6 348.2h0M413.2 350.7h0M451.3 307.8h0M427.5 332.0h0M419.6 361.9h0M427.7 328.5h0M436.9 347.5h0M404.4 349.0h0M423.1 355.0h0M421.3 323.4h0M399.4 322.0h0M410.2 348.9h0M423.3 311.1h0M419.6 310.9h0M410.6 357.4h0M421.1 307.3h0M429.7 336.0h0M423.6 315.7h0M405.6 335.5h0M425.9 329.5h0M398.1 320.1h0M423.3 318.1h0M430.6 359.5h0M420.6 322.1h0M406.1 325.0h0M427.0 359.1h0M416.0 314.9h0M432.3 358.0h0M424.4 324.1h0M435.2 326.5h0M431.7 323.0h0M430.1 355.9h0M414.7 349.9h0M404.3 352.1h0M438.2 318.2h0M410.7 326.2h0M453.1 308.8h0M428.6 321.1h0M447.8 343.2h0M428.6 330.7h0M452.6 342.8h0M453.1 355.8h0M416.2 359.4h0M404.4 330.8h0M450.9 360.7h0M453.4 345.1h0M447.6 308.2h0M436.6 358.3h0M433.9 314.7h0M424.0 329.0h0M453.4 353.7h0M424.3 328.1h0M450.6 313.7h0" stroke="#6f6b9c" stroke-width="1.3" stroke-linecap="round" fill="none"/><path d="M451.0 311.2h0M419.9 313.6h0M440.1 344.6h0M447.5 360.2h0M400.2 356.4h0M433.2 307.1h0M409.1 342.9h0M425.2 356.7h0M404.4 338.9h0M402.8 322.9h0M410.1 345.4h0M436.5 331.0h0M415.1 319.9h0M437.3 314.2h0M417.4 339.0h0M445.7 319.9h0M415.2 343.5h0M430.3 339.8h0M435.5 359.6h0M452.0 333.7h0M431.2 332.2h0M438.4 359.4h0M441.6 310.5h0M407.5 342.3h0M400.8 324.9h0M415.2 327.3h0M452.9 314.7h0M400.4 352.0h0M442.9 354.2h0M436.1 308.9h0M423.2 361.2h0M422.8 316.7h0M453.4 310.4h0M424.2 345.9h0M439.4 320.6h0M413.8 345.0h0M443.8 316.3h0M428.4 349.8h0M427.1 325.5h0M429.0 347.0h0M445.1 361.1h0M408.7 352.7h0M403.4 334.9h0M432.3 328.6h0M430.2 318.8h0M448.4 361.9h0M411.0 350.9h0M423.3 356.4h0M441.8 307.7h0M424.9 340.9h0M423.8 335.0h0M430.6 316.7h0M422.2 312.7h0M432.5 316.5h0M413.6 362.6h0M424.4 330.4h0M420.4 337.4h0M418.1 347.6h0M421.1 307.0h0M423.9 357.0h0M418.3 344.6h0M445.6 350.7h0M411.3 320.3h0M408.8 316.8h0M429.9 361.2h0M437.7 318.7h0M407.8 317.7h0M402.2 307.2h0M437.6 324.7h0M409.4 359.6h0M441.1 342.7h0M441.6 326.8h0M410.0 318.2h0M422.3 311.2h0M400.0 327.8h0M428.3 345.8h0M440.0 340.7h0M447.5 324.0h0M413.4 308.9h0M450.3 346.0h0M416.7 345.3h0M416.4 342.1h0M446.1 342.4h0M444.3 355.9h0M412.4 351.6h0M413.6 322.2h0M450.2 352.3h0" stroke="#5c588b" stroke-width="1.6" stroke-linecap="round" fill="none"/><path d="M411.1 329.5h0M409.9 346.8h0M420.0 321.4h0M435.5 318.8h0M408.8 343.6h0M426.5 355.8h0M446.8 338.3h0M416.1 324.6h0M431.5 321.8h0M443.0 356.1h0M436.4 308.8h0M440.1 345.3h0M424.6 331.8h0" stroke="#86654a" stroke-width="1.6" stroke-linecap="round" fill="none"/><path d="M437.4 338.1h0M416.6 316.8h0M432.9 340.8h0M450.0 358.9h0M432.6 362.7h0M439.7 322.2h0M440.7 332.1h0M448.8 321.3h0" stroke="#86654a" stroke-width="1.2" stroke-linecap="round" fill="none"/><path d="M399.5 330.7h0M412.1 342.0h0M441.5 336.8h0M424.7 357.9h0M414.8 341.9h0M405.5 357.7h0M446.2 340.2h0M423.4 317.0h0M425.2 320.0h0M405.6 322.6h0M439.2 331.4h0M401.2 353.5h0M428.5 312.2h0M437.9 313.8h0" stroke="#7a5a40" stroke-width="1.6" stroke-linecap="round" fill="none"/><path d="M398.3 341.8h0M420.9 333.3h0M448.2 314.9h0M452.1 311.4h0M420.4 324.8h0M417.2 319.3h0M449.8 337.6h0M442.1 337.8h0M418.4 356.7h0M437.4 339.6h0M427.9 346.9h0M417.0 322.3h0" stroke="#7a5a40" stroke-width="1.2" stroke-linecap="round" fill="none"/><path d="M432.2 343.0h0M446.9 353.9h0M438.9 328.4h0M423.1 317.7h0M424.2 360.3h0M450.4 323.4h0M440.9 354.5h0M429.3 314.2h0" stroke="#927050" stroke-width="1.2" stroke-linecap="round" fill="none"/><path d="M422.1 323.0h0M400.3 332.8h0M400.2 320.4h0M415.7 315.3h0M425.8 337.3h0M418.5 325.6h0M428.5 342.5h0M412.8 362.5h0M400.8 310.9h0M421.9 330.3h0" stroke="#927050" stroke-width="1.6" stroke-linecap="round" fill="none"/></g></g>
<line x1="441.5" y1="360.3" x2="451.7" y2="360.3" stroke="#111" stroke-width="1"/>
<g clip-path="url(#cp21)"><g filter="url(#bl)"><rect x="456.4" y="306.8" width="57.6" height="56.2" fill="#b3aaad"/><path d="M463.5 327.9h0M468.2 346.2h0M498.1 350.8h0M466.1 321.9h0M513.5 335.0h0M460.8 353.3h0M477.8 318.1h0M476.5 325.3h0M469.2 329.6h0M478.2 332.6h0M481.3 324.5h0M497.8 347.1h0M493.1 329.4h0M507.5 310.2h0M481.7 338.8h0M466.3 353.8h0M504.1 346.6h0M478.7 339.5h0M478.8 338.6h0M510.5 318.1h0M501.6 334.6h0M462.1 317.1h0M488.8 350.8h0M461.5 330.1h0M496.6 318.8h0M463.8 359.2h0M503.9 341.9h0M469.3 315.0h0M501.7 333.0h0M510.2 325.5h0M456.5 333.4h0M456.9 309.4h0M466.8 360.9h0M474.1 307.2h0M476.3 317.3h0M478.9 318.9h0M485.9 362.2h0M499.5 309.3h0M458.4 354.9h0M511.6 343.7h0M456.6 348.7h0M458.3 356.7h0M496.3 325.5h0M511.0 361.0h0M458.4 315.4h0M479.6 345.0h0M471.3 337.8h0M505.7 334.1h0" stroke="#85592f" stroke-width="1.15" stroke-linecap="round" fill="none"/><path d="M471.7 328.2h0M461.3 309.6h0M509.1 333.6h0M494.5 360.7h0M465.9 361.8h0M485.7 339.2h0M475.4 322.2h0M482.1 311.7h0M487.0 311.1h0M470.3 353.3h0M505.9 331.7h0M466.5 316.5h0M471.9 320.8h0M482.0 346.3h0M497.5 340.5h0M508.4 359.8h0M478.2 324.4h0M509.2 339.0h0M470.8 327.1h0M477.0 340.8h0M477.4 354.2h0M473.9 331.6h0M461.0 359.9h0M471.2 324.8h0M507.7 329.5h0M509.7 320.5h0M456.5 352.2h0M472.3 325.3h0M468.5 346.2h0M492.6 324.9h0M481.6 321.2h0M465.1 318.0h0M462.9 360.9h0M494.1 342.3h0M482.6 332.5h0M489.7 331.9h0M503.6 347.5h0M476.9 312.1h0M486.7 331.7h0M484.8 322.1h0M486.3 336.6h0M485.5 349.5h0M489.3 338.3h0M501.0 344.2h0M468.1 362.4h0M481.5 342.8h0M460.2 317.0h0M509.3 332.2h0M460.1 319.5h0" stroke="#6d4a2c" stroke-width="1.65" stroke-linecap="round" fill="none"/><path d="M508.9 325.6h0M474.6 355.4h0M506.2 352.3h0M472.3 340.1h0M459.7 355.9h0M479.4 350.3h0M511.4 318.7h0M499.4 338.0h0M482.8 320.0h0M466.3 327.8h0M464.7 336.3h0M503.2 313.9h0M458.6 310.7h0M480.1 309.7h0M460.3 325.9h0M475.6 336.3h0M494.4 356.0h0M502.6 341.0h0M456.9 335.5h0M498.3 334.0h0M469.8 316.6h0M499.6 333.3h0M463.3 355.4h0M485.1 310.0h0M490.8 358.6h0M461.7 326.6h0M494.4 355.6h0" stroke="#62412a" stroke-width="1.4" stroke-linecap="round" fill="none"/><path d="M474.3 344.2h0M512.3 336.9h0M492.8 316.1h0M503.7 336.4h0M470.5 344.6h0M458.5 312.4h0M509.6 340.6h0M459.4 334.7h0M507.0 338.5h0M488.0 352.0h0M466.2 353.5h0M462.4 343.7h0M503.0 308.5h0M495.2 335.9h0M512.7 346.0h0M486.7 338.5h0M473.3 343.1h0M505.8 327.2h0M485.4 319.0h0M478.9 356.4h0M457.6 326.5h0M487.7 331.1h0M500.6 354.8h0M495.8 311.9h0M493.4 339.9h0M471.6 360.9h0M475.9 326.9h0M508.0 339.3h0M494.2 358.3h0M510.6 347.9h0M458.3 320.7h0M466.9 314.4h0M506.4 312.8h0M486.0 345.1h0M510.5 349.5h0M500.6 309.8h0M480.6 347.4h0M457.9 362.0h0" stroke="#9a94b3" stroke-width="1.1" stroke-linecap="round" fill="none"/><path d="M472.3 318.9h0M457.9 335.1h0M480.1 320.3h0M502.7 318.9h0M495.0 333.7h0M467.4 338.9h0M459.3 309.9h0M473.7 352.1h0M495.7 340.8h0M463.0 331.9h0M495.7 358.1h0M496.5 357.9h0M459.3 350.8h0M507.7 333.4h0M484.0 332.7h0M487.2 354.5h0M463.4 326.7h0M462.6 318.4h0M500.9 352.3h0M494.0 319.8h0M495.2 338.9h0M465.8 331.5h0M471.8 331.9h0M499.8 344.1h0M458.2 357.1h0M490.7 344.2h0M473.5 328.8h0M471.0 343.8h0M472.6 357.6h0M479.2 333.3h0M474.3 348.9h0M462.7 341.2h0M503.3 317.8h0M468.5 311.5h0M461.1 359.3h0M486.0 332.7h0M464.6 351.5h0" stroke="#6d4a2c" stroke-width="1.15" stroke-linecap="round" fill="none"/><path d="M469.5 308.3h0M496.5 334.0h0M456.5 317.2h0M462.6 331.2h0M507.3 320.2h0M494.8 308.6h0M474.1 351.8h0M459.0 338.0h0M489.4 323.5h0M488.5 345.8h0M490.8 321.6h0M493.4 309.0h0M467.5 315.9h0M457.9 349.0h0M469.1 358.0h0M482.4 356.4h0M485.6 313.2h0M465.3 319.4h0M489.2 357.4h0M499.4 333.5h0M466.1 355.9h0M477.0 347.4h0M485.6 331.9h0M477.9 355.8h0M503.2 328.3h0M487.8 325.8h0M491.0 338.7h0M479.4 322.3h0M486.8 329.7h0M469.0 356.5h0M499.5 331.7h0M487.5 326.5h0M459.6 321.2h0M505.3 316.0h0M501.6 325.2h0M468.7 318.6h0M479.6 343.8h0M464.3 359.3h0M490.2 362.1h0M457.5 314.7h0M470.9 309.2h0M484.3 352.4h0M477.9 333.4h0" stroke="#8f89aa" stroke-width="1.1" stroke-linecap="round" fill="none"/><path d="M505.4 339.0h0M486.8 308.3h0M483.1 309.1h0M497.8 344.2h0M499.6 326.9h0M502.6 337.8h0M491.7 312.2h0M474.6 323.5h0M477.8 340.9h0M482.7 343.6h0M502.2 340.3h0M478.1 354.7h0M499.0 327.6h0M493.2 355.7h0M473.2 309.5h0M487.5 314.5h0M487.0 345.3h0M506.0 325.2h0M506.8 348.4h0M511.1 312.1h0M510.7 332.9h0M492.3 339.7h0M508.0 325.5h0M476.4 355.0h0M509.0 349.6h0M511.8 351.0h0M481.5 320.5h0M486.4 325.5h0M465.4 357.1h0M470.0 339.9h0M463.5 355.7h0M461.8 327.5h0M480.4 309.4h0M503.2 334.8h0M475.9 348.9h0M466.1 361.9h0M485.7 352.5h0M490.1 346.4h0M489.8 317.5h0M484.8 344.9h0M508.3 352.1h0M460.7 329.6h0M463.0 314.8h0M458.7 316.1h0M476.6 350.9h0M466.6 318.6h0M491.0 323.7h0M476.4 335.3h0M489.7 324.8h0M470.6 356.5h0" stroke="#8f89aa" stroke-width="1.4" stroke-linecap="round" fill="none"/><path d="M475.4 329.3h0M460.9 361.7h0M509.6 338.4h0M498.9 354.5h0M496.1 311.9h0M489.5 324.0h0M506.4 331.4h0M497.8 349.4h0M478.4 322.3h0M484.9 338.7h0M505.6 333.4h0M496.5 346.6h0M472.9 357.1h0M476.4 348.3h0M478.2 328.0h0M488.2 325.7h0M457.0 362.2h0M510.5 311.1h0M512.1 346.2h0M462.8 321.2h0M457.3 344.9h0M510.4 317.7h0M474.3 309.8h0M456.8 338.9h0M488.1 318.9h0M489.2 360.5h0M509.7 327.0h0M488.8 362.3h0M473.1 325.6h0M505.4 353.7h0M461.4 362.1h0M468.8 356.5h0M460.4 325.1h0M459.9 343.7h0M482.3 310.4h0M474.2 321.0h0M472.5 329.0h0" stroke="#7a522e" stroke-width="1.4" stroke-linecap="round" fill="none"/><path d="M497.5 355.9h0M496.3 358.3h0M508.1 317.3h0M457.0 325.3h0M470.8 339.2h0M463.4 322.7h0M508.3 336.2h0M479.1 327.7h0M503.1 331.8h0M468.0 316.9h0M504.8 349.0h0M463.2 315.0h0M501.5 317.3h0M471.5 361.8h0M466.0 309.5h0M492.8 356.1h0M496.6 358.9h0M494.6 316.1h0M460.8 319.4h0M479.3 356.7h0M480.1 333.2h0M488.6 339.6h0M482.5 359.3h0M492.8 330.2h0M501.6 336.9h0M509.4 362.1h0M486.1 343.4h0M463.7 351.2h0M473.9 311.1h0M484.9 356.4h0M471.5 335.9h0M487.8 345.8h0M470.8 315.0h0M510.2 318.7h0M464.3 352.0h0M496.3 356.6h0M470.2 347.4h0M502.9 361.6h0M478.1 347.4h0M480.5 344.1h0M461.6 312.2h0M475.7 308.7h0M476.6 342.0h0M485.4 340.5h0M503.2 318.3h0M495.7 339.8h0M463.7 333.2h0M459.0 321.7h0M506.6 349.6h0M484.2 329.9h0M487.6 359.4h0M506.9 353.0h0M480.5 320.1h0M466.0 355.7h0" stroke="#7a522e" stroke-width="1.65" stroke-linecap="round" fill="none"/><path d="M502.2 344.0h0M498.1 347.2h0M496.4 308.2h0M484.4 355.4h0M482.8 313.2h0M483.8 349.3h0M471.0 323.7h0M511.5 342.8h0M459.0 350.1h0M491.2 312.7h0M467.0 317.6h0M502.7 345.7h0M473.6 330.6h0M503.0 339.6h0M466.1 355.7h0M457.0 320.4h0M491.1 337.5h0M487.9 342.8h0M488.3 345.7h0M458.3 360.7h0M458.1 317.6h0M486.6 319.9h0M473.4 352.3h0M457.9 336.5h0M498.4 343.0h0M463.0 312.9h0M458.1 342.8h0M507.8 331.2h0M493.5 355.0h0M486.4 310.7h0M477.3 338.9h0M458.7 340.9h0M470.3 334.2h0M491.3 312.0h0M484.8 336.9h0M468.5 313.9h0M495.0 347.8h0M477.2 341.5h0M511.6 319.3h0M485.2 338.3h0M465.5 350.2h0M477.1 309.5h0M457.4 313.9h0M480.0 354.3h0M464.9 316.8h0" stroke="#62412a" stroke-width="1.15" stroke-linecap="round" fill="none"/><path d="M508.2 344.6h0M496.7 345.5h0M456.6 306.9h0M475.6 360.9h0M490.0 327.8h0M480.1 311.6h0M459.8 356.8h0M498.2 334.5h0M505.7 320.4h0M510.9 315.7h0M464.0 318.8h0M483.9 319.1h0M493.7 317.0h0M472.8 359.3h0M502.6 311.3h0M459.7 347.5h0M464.7 359.7h0M512.4 343.1h0M458.2 335.7h0M497.1 314.9h0M463.7 308.1h0M488.6 324.9h0M499.8 340.2h0M491.8 317.5h0M500.3 320.5h0M484.9 318.3h0M489.8 320.1h0M492.0 333.5h0M504.6 322.5h0M490.1 337.4h0M466.1 323.4h0M468.0 344.4h0M490.9 335.7h0M493.0 332.8h0M479.8 339.8h0M485.0 348.6h0M477.6 344.8h0M465.2 351.6h0M468.4 311.4h0M477.8 360.7h0M466.8 325.0h0M490.8 353.5h0M487.3 336.5h0M469.5 322.5h0M484.4 325.8h0M485.6 308.8h0M496.7 344.4h0M503.4 359.6h0M493.7 346.1h0M470.8 356.6h0M481.4 329.9h0M478.4 353.7h0M489.7 333.2h0M474.2 352.0h0" stroke="#62412a" stroke-width="1.65" stroke-linecap="round" fill="none"/><path d="M464.5 309.9h0M499.6 311.9h0M503.5 318.9h0M505.4 338.6h0M495.6 341.7h0M487.1 323.1h0M511.1 343.5h0M486.0 311.2h0M458.1 353.7h0M493.8 353.6h0M490.1 332.1h0M510.7 351.7h0M498.2 317.8h0M490.7 309.3h0M496.3 335.2h0M505.6 357.2h0M469.1 323.4h0M496.5 354.4h0M467.6 320.6h0M477.2 362.4h0M477.6 354.4h0M489.7 339.4h0M471.5 329.7h0M494.4 348.5h0M473.5 353.1h0M501.2 354.5h0M461.9 335.8h0M493.9 323.0h0M478.9 325.2h0M506.6 362.5h0M490.4 325.2h0M510.3 336.2h0M508.3 317.7h0M499.9 349.3h0M501.9 358.4h0" stroke="#9a94b3" stroke-width="1.4" stroke-linecap="round" fill="none"/><path d="M490.3 325.2h0M462.3 319.1h0M474.1 326.1h0M490.9 360.3h0M502.5 327.4h0M494.2 342.0h0M474.4 358.5h0M504.9 338.6h0M487.3 340.4h0M483.7 344.1h0M482.5 329.5h0M494.2 338.3h0M511.6 307.2h0M496.8 310.1h0M461.4 350.1h0M494.7 356.4h0M478.6 324.9h0M496.7 348.9h0M459.5 331.4h0M479.0 339.0h0M502.4 336.5h0M485.2 354.2h0M505.1 355.5h0M466.1 351.5h0M482.5 360.5h0M488.6 310.9h0M457.3 308.3h0M466.2 360.7h0M483.3 323.0h0M496.0 333.8h0M479.6 360.2h0M463.2 324.9h0" stroke="#7a522e" stroke-width="1.15" stroke-linecap="round" fill="none"/><path d="M493.2 329.9h0M478.7 357.9h0M504.8 310.4h0M501.8 348.5h0M460.5 324.6h0M484.3 337.5h0M479.6 308.2h0M466.9 359.5h0M494.0 315.0h0M500.3 321.0h0M502.2 354.0h0M490.2 307.6h0M474.9 307.6h0M464.0 330.3h0M475.3 322.7h0M463.1 350.0h0M500.4 353.6h0M506.5 322.0h0M499.4 312.3h0M504.1 337.3h0M484.1 356.7h0M500.1 346.9h0M474.4 321.7h0M459.6 325.2h0M470.9 328.3h0M482.0 327.8h0M508.4 322.6h0M477.4 335.1h0M464.0 356.7h0M462.0 310.3h0M486.7 313.3h0M461.8 340.8h0M494.2 349.7h0M479.8 319.9h0M465.5 361.3h0M461.1 334.5h0M491.4 348.6h0M458.6 344.2h0M504.1 317.1h0M461.0 336.9h0M506.6 347.6h0M490.0 358.4h0M480.9 353.6h0M481.0 309.7h0M483.6 321.7h0M463.9 361.9h0" stroke="#85592f" stroke-width="1.65" stroke-linecap="round" fill="none"/><path d="M461.6 339.8h0M474.9 323.3h0M477.0 314.5h0M476.7 359.9h0M467.0 309.6h0M498.9 338.0h0M509.3 337.3h0M460.9 349.1h0M498.0 325.0h0M475.7 338.5h0M500.3 337.5h0M458.8 310.4h0M504.8 340.3h0M478.6 326.8h0M471.9 337.7h0M481.8 334.6h0M493.2 345.9h0M485.8 331.1h0M488.6 308.3h0M511.9 329.1h0M463.2 324.0h0M497.1 310.2h0M458.4 307.9h0M460.4 312.7h0M468.5 339.2h0M460.2 348.4h0M472.6 354.8h0M461.8 340.0h0M484.7 331.6h0M456.8 332.6h0M501.2 310.6h0M491.8 320.4h0M513.6 321.2h0M467.4 331.9h0M484.1 307.8h0M470.4 313.9h0M466.3 337.7h0M482.9 356.5h0M506.8 335.9h0M459.1 328.1h0M488.7 322.7h0" stroke="#6d4a2c" stroke-width="1.4" stroke-linecap="round" fill="none"/><path d="M512.5 316.3h0M479.1 327.4h0M469.7 313.1h0M493.7 359.5h0M484.1 333.4h0M490.1 322.1h0M472.1 325.2h0M456.8 357.0h0M500.8 330.4h0M459.1 331.5h0M462.1 336.6h0M503.8 354.4h0M499.4 360.7h0M500.9 321.5h0M494.9 307.2h0M467.8 334.5h0M507.7 323.0h0M471.0 353.9h0M463.7 343.1h0M483.2 325.9h0M486.8 354.5h0M478.2 349.0h0M464.0 308.2h0M470.9 351.4h0M459.8 335.2h0M497.2 321.8h0M495.7 313.8h0M464.9 313.5h0M464.4 326.7h0M464.6 361.7h0M505.0 332.5h0M464.4 351.6h0M477.8 347.7h0M493.5 318.7h0M487.0 312.9h0M493.3 315.4h0M465.2 329.1h0M482.6 355.3h0M466.5 355.4h0M464.4 362.7h0M497.2 312.8h0M474.6 357.4h0M485.9 330.3h0M485.9 328.8h0" stroke="#85592f" stroke-width="1.4" stroke-linecap="round" fill="none"/></g></g>
<line x1="500.9" y1="360.3" x2="512.2" y2="360.3" stroke="#111" stroke-width="1"/>
<g clip-path="url(#cp30)"><g filter="url(#bl)"><rect x="398" y="364.7" width="56" height="57.1" fill="#b2a9b1"/><ellipse cx="414.1" cy="396.3" rx="3.9" ry="4.9" fill="#a08058" fill-opacity="0.18"/><ellipse cx="437.2" cy="387.1" rx="4.4" ry="3.3" fill="#a08058" fill-opacity="0.18"/><ellipse cx="426.2" cy="390.2" rx="3.3" ry="2.7" fill="#a08058" fill-opacity="0.18"/><ellipse cx="441.6" cy="419.0" rx="3.9" ry="3.8" fill="#a08058" fill-opacity="0.18"/><ellipse cx="423.0" cy="386.6" rx="5.8" ry="2.0" fill="#a08058" fill-opacity="0.18"/><ellipse cx="453.2" cy="421.6" rx="5.9" ry="4.6" fill="#a08058" fill-opacity="0.18"/><ellipse cx="425.2" cy="377.0" rx="7.3" ry="2.7" fill="#a08058" fill-opacity="0.18"/><ellipse cx="399.7" cy="418.9" rx="6.8" ry="2.2" fill="#a08058" fill-opacity="0.18"/><ellipse cx="442.2" cy="382.6" rx="6.4" ry="2.6" fill="#a08058" fill-opacity="0.18"/><ellipse cx="447.0" cy="390.0" rx="5.8" ry="4.1" fill="#a08058" fill-opacity="0.18"/><ellipse cx="401.1" cy="392.4" rx="5.7" ry="2.4" fill="#a08058" fill-opacity="0.18"/><ellipse cx="432.9" cy="392.0" rx="7.1" ry="2.9" fill="#a08058" fill-opacity="0.18"/><ellipse cx="429.3" cy="385.2" rx="4.2" ry="2.5" fill="#a08058" fill-opacity="0.18"/><ellipse cx="422.5" cy="372.6" rx="4.1" ry="5.1" fill="#a08058" fill-opacity="0.18"/><ellipse cx="440.5" cy="416.3" rx="7.0" ry="3.7" fill="#a08058" fill-opacity="0.18"/><ellipse cx="401.5" cy="368.6" rx="6.4" ry="5.8" fill="#a08058" fill-opacity="0.18"/><path d="M445.0 385.0h0M433.2 383.6h0M446.1 371.1h0M403.4 421.8h0M411.4 394.4h0M414.8 376.6h0M417.2 395.3h0M398.0 405.5h0M413.4 365.0h0M399.6 403.2h0M427.2 381.0h0M419.2 402.3h0M416.9 384.0h0M451.0 419.7h0M443.3 381.4h0M453.0 385.3h0M446.7 390.5h0M453.1 413.6h0M437.2 377.2h0M413.8 398.4h0M423.9 412.0h0M402.7 391.7h0M407.2 397.5h0M412.5 386.3h0M438.2 370.9h0M405.5 400.9h0M404.2 406.9h0M447.1 386.9h0M405.0 389.0h0M432.0 420.6h0M419.1 412.4h0M453.2 421.0h0M433.3 394.8h0M439.6 419.8h0M431.8 417.6h0M398.7 390.1h0M432.1 396.5h0M438.9 409.8h0M427.6 398.7h0M413.8 391.4h0M413.7 386.3h0M406.2 380.6h0M441.6 415.2h0M443.3 417.9h0M443.9 413.3h0M438.5 408.1h0M447.7 372.2h0M433.1 384.6h0M417.7 414.7h0M448.1 403.1h0M418.8 365.5h0M445.1 389.9h0M407.9 404.0h0M448.5 410.6h0M445.1 389.5h0M412.6 411.8h0M442.4 398.0h0M453.0 377.4h0M431.9 374.4h0M423.7 369.0h0M417.2 407.2h0M402.6 404.7h0M428.5 412.8h0M402.3 395.8h0M447.8 391.0h0M408.3 417.7h0M436.9 401.4h0M443.6 369.0h0M451.0 385.5h0M431.0 416.5h0M449.5 392.1h0M416.2 382.7h0M433.0 378.8h0M426.0 402.6h0M453.6 396.9h0M445.8 418.9h0M445.7 417.8h0M404.3 397.3h0M400.8 409.2h0M420.9 377.8h0M442.9 371.3h0M420.7 410.6h0M398.1 419.0h0M441.2 379.9h0M400.4 385.4h0M438.1 401.9h0M439.0 408.0h0M406.0 376.7h0M433.0 403.4h0" stroke="#5c588b" stroke-width="1.6" stroke-linecap="round" fill="none"/><path d="M428.7 388.0h0M427.7 415.1h0M438.0 368.7h0M401.8 392.5h0M453.0 418.3h0M405.2 398.3h0M448.0 414.3h0M438.5 387.9h0M402.4 393.5h0M445.3 386.6h0M427.4 380.0h0M413.4 407.4h0M436.0 406.6h0M439.7 411.8h0M435.2 392.6h0M405.7 395.3h0M450.7 408.7h0M440.9 367.2h0M449.4 404.4h0M450.3 377.7h0M444.0 405.2h0M426.2 390.5h0M409.7 376.6h0M435.0 413.3h0M429.6 367.7h0M442.2 385.5h0M401.2 407.2h0M434.3 365.3h0M422.8 373.1h0M451.6 369.7h0M444.9 369.1h0M415.2 414.6h0M439.3 415.1h0M438.6 371.2h0M406.6 379.0h0M403.5 401.3h0M403.7 369.9h0M418.2 367.0h0M422.1 382.9h0M432.3 371.6h0M406.4 388.9h0M410.3 368.2h0M441.0 414.9h0M441.8 399.2h0M440.2 379.5h0M413.9 412.4h0M432.1 376.0h0M439.8 412.4h0M411.8 387.6h0M416.9 371.7h0M422.7 405.8h0M418.5 380.5h0M411.2 404.0h0M400.4 367.0h0M410.8 366.9h0M448.0 406.8h0M404.8 367.4h0M439.9 389.5h0M416.0 392.1h0M440.3 408.3h0M430.6 411.5h0M440.0 393.2h0M443.1 401.5h0M451.6 369.4h0M427.9 399.0h0M417.6 420.2h0M439.8 407.6h0M445.3 364.8h0M422.3 416.4h0M445.1 420.6h0M400.2 397.7h0M450.2 414.8h0M450.3 407.8h0M416.5 385.0h0M421.0 375.7h0M401.6 399.9h0M416.9 411.2h0M400.6 397.4h0M424.4 368.2h0M413.2 380.0h0M427.2 373.5h0M432.9 369.6h0M407.1 404.6h0M420.1 388.2h0M420.4 370.8h0M430.2 376.3h0M441.4 419.4h0M443.2 419.2h0M416.9 394.5h0M402.5 401.4h0M419.8 416.5h0M420.0 421.4h0M438.4 385.4h0M420.7 365.9h0" stroke="#646094" stroke-width="1.0" stroke-linecap="round" fill="none"/><path d="M450.8 369.1h0M421.8 387.0h0M434.0 379.0h0M425.6 391.5h0M429.6 379.0h0M439.5 399.7h0M432.4 369.1h0M424.8 399.1h0M434.3 394.4h0M419.8 407.7h0M422.3 395.1h0M443.7 404.5h0M402.4 404.0h0M435.6 421.2h0M400.0 404.4h0M449.8 380.5h0M415.0 399.2h0M435.3 406.2h0M451.8 419.5h0M411.0 413.2h0M424.3 412.7h0M402.3 397.3h0M434.2 382.7h0M447.6 404.3h0M448.1 391.0h0M403.8 410.9h0M415.9 378.0h0M399.3 395.2h0M415.8 407.5h0M434.8 367.6h0M434.0 404.9h0M426.5 402.0h0M451.2 406.7h0M410.5 393.8h0M409.9 377.0h0M453.3 408.3h0M406.7 398.9h0M442.9 392.0h0M420.3 394.2h0M433.7 390.8h0M438.1 413.5h0M431.5 366.2h0M407.3 381.0h0M432.8 372.9h0M441.3 397.7h0M436.6 407.0h0M434.3 383.0h0M400.6 403.5h0M408.4 400.3h0M401.6 411.9h0M406.7 376.3h0M401.6 398.8h0M410.3 397.0h0M410.9 418.7h0M430.4 393.6h0M428.0 373.8h0M421.1 387.8h0M429.5 410.2h0M442.2 392.1h0M407.5 411.4h0M428.6 372.0h0M413.1 372.0h0M404.3 366.7h0M411.6 409.1h0M418.2 371.4h0M423.4 410.9h0M401.9 374.0h0M421.4 390.5h0M443.7 421.7h0M436.6 419.9h0M440.2 377.4h0M443.7 406.0h0M411.0 415.7h0M427.7 398.8h0M434.0 398.5h0M434.0 404.5h0M410.3 366.7h0M437.3 369.8h0M424.9 388.6h0M414.5 397.1h0M401.4 399.5h0M435.3 412.8h0M399.8 364.9h0M410.2 383.2h0M403.2 393.8h0M420.5 420.1h0M418.3 421.0h0M441.3 371.4h0" stroke="#7a76a4" stroke-width="1.3" stroke-linecap="round" fill="none"/><path d="M426.5 384.0h0M411.3 395.8h0M433.1 419.6h0M430.9 395.1h0M447.6 377.2h0M411.9 377.0h0M428.9 394.0h0M415.2 403.1h0M412.6 413.0h0M438.6 377.6h0M434.6 419.8h0M410.7 373.1h0M442.7 419.9h0M425.2 406.2h0M442.9 409.2h0M445.3 406.1h0M415.0 413.4h0M406.5 385.4h0M417.8 401.7h0M404.0 417.9h0M410.7 398.8h0M418.0 381.6h0M401.0 377.8h0M450.9 411.5h0M412.7 411.8h0M451.0 367.2h0M410.5 411.9h0M399.0 420.2h0M443.3 386.3h0M453.1 390.1h0M435.3 415.9h0M402.4 391.7h0M420.3 411.2h0M426.1 385.6h0M398.1 385.0h0M425.8 397.0h0M413.4 371.0h0M448.5 379.5h0M419.4 417.3h0M430.7 388.0h0M414.6 392.7h0M432.6 365.7h0M405.6 400.4h0M449.9 415.4h0M399.0 400.4h0M398.6 385.2h0M420.0 369.0h0M398.8 420.2h0M446.2 387.3h0M424.2 377.7h0M407.3 414.0h0M408.9 400.4h0M449.6 370.5h0M417.7 410.7h0M404.3 403.6h0M413.0 398.4h0M413.1 402.1h0M405.7 391.4h0M416.4 391.3h0M440.3 384.1h0M424.7 386.4h0M449.5 376.6h0M432.1 399.7h0M451.0 406.0h0M432.2 378.1h0M434.5 378.9h0M445.4 417.5h0M436.4 420.9h0M434.6 384.3h0M444.8 415.7h0M446.0 371.0h0M413.3 405.2h0M415.0 391.7h0M423.0 414.2h0M433.9 396.4h0M422.1 386.5h0M415.2 419.8h0M453.3 372.6h0M400.7 402.0h0M407.9 366.5h0M444.1 401.3h0M437.7 376.9h0M419.8 414.4h0M399.2 421.4h0M434.8 372.3h0M415.6 415.7h0M432.6 371.2h0M423.0 390.8h0M442.8 418.5h0M440.8 393.9h0" stroke="#6f6b9c" stroke-width="1.3" stroke-linecap="round" fill="none"/><path d="M449.5 411.5h0M432.2 403.1h0M447.3 404.9h0M421.3 373.6h0M435.8 402.1h0M451.5 406.7h0M399.3 376.1h0M402.9 365.8h0M416.0 370.1h0M453.5 373.9h0M417.0 375.0h0M421.9 414.8h0M400.4 403.7h0M400.5 408.9h0M399.7 378.5h0M434.1 395.5h0M408.4 398.2h0M399.6 419.9h0M434.8 412.0h0M424.9 410.6h0M401.2 369.1h0M451.6 374.1h0M413.5 379.7h0M421.4 401.6h0M413.8 420.5h0M439.2 372.0h0M406.0 413.2h0M425.0 396.4h0M448.1 397.0h0M398.8 413.2h0M415.0 365.0h0M408.9 376.6h0M428.2 394.0h0M423.6 399.1h0M400.2 399.2h0M425.3 412.1h0M401.2 379.3h0M441.4 368.3h0M401.1 369.5h0M440.9 409.4h0M424.6 377.4h0M443.7 419.0h0M427.3 373.6h0M418.2 399.3h0M425.5 388.0h0M413.9 400.6h0M445.3 404.9h0M441.1 376.0h0M444.6 386.2h0M437.7 382.3h0M452.8 406.6h0M441.4 381.1h0M436.6 379.3h0M431.3 366.4h0M408.8 386.0h0M437.7 409.5h0M409.0 380.6h0M443.4 373.0h0M421.3 418.8h0M431.6 377.7h0M403.7 374.5h0M440.8 370.2h0M409.4 377.3h0M420.9 417.1h0M431.7 394.1h0M447.9 402.6h0M404.3 388.2h0M402.4 413.3h0M445.7 368.9h0M433.0 379.3h0M406.1 405.8h0M398.9 414.6h0M419.6 400.2h0M437.1 399.3h0M410.7 420.7h0M405.3 397.0h0M445.4 370.6h0M449.0 388.0h0M427.2 391.8h0M438.6 374.9h0M447.0 401.3h0M434.5 418.0h0M412.8 382.3h0M399.5 368.2h0M450.5 400.7h0M424.2 369.2h0M429.9 415.6h0M404.2 410.0h0M449.2 389.6h0M453.0 370.7h0M424.6 414.1h0M419.1 367.8h0M436.0 396.9h0M433.9 416.7h0M404.0 399.0h0M443.9 366.9h0M419.5 398.3h0M433.1 389.8h0" stroke="#7a76a4" stroke-width="1.0" stroke-linecap="round" fill="none"/><path d="M447.8 418.7h0M445.0 373.4h0M409.2 401.2h0M423.3 416.7h0M440.6 417.6h0M408.4 377.9h0M406.9 391.4h0M451.6 414.0h0M423.1 394.0h0M411.9 418.5h0M409.8 386.0h0M436.6 397.3h0M401.0 382.1h0M437.7 394.5h0M400.4 415.3h0M411.1 371.1h0M414.7 412.9h0M414.2 374.4h0M413.8 421.2h0M404.9 397.3h0M412.9 364.8h0M447.6 391.4h0M417.2 372.2h0M430.6 380.2h0M428.0 417.7h0M401.1 417.1h0M420.8 386.5h0M437.5 383.0h0M431.7 403.6h0M433.0 375.9h0M403.9 377.3h0M415.3 383.7h0M420.8 392.4h0M415.0 383.0h0M421.8 379.1h0M405.1 394.0h0M444.4 403.7h0M430.7 395.9h0M426.6 415.3h0M440.7 380.9h0M426.3 378.1h0M418.1 388.1h0M425.8 390.7h0M438.4 394.5h0M414.4 375.1h0M402.1 385.4h0M415.2 377.2h0M408.6 384.1h0M423.3 419.3h0M418.8 372.7h0M426.8 391.3h0M404.3 397.4h0M408.5 388.7h0M442.7 412.4h0M399.3 396.1h0M409.8 384.1h0M448.0 386.3h0M426.2 380.0h0M440.4 365.9h0M427.4 373.5h0M451.6 373.7h0M435.8 367.0h0M428.5 374.0h0M451.4 373.3h0M422.0 387.1h0M402.7 417.2h0M403.6 413.7h0M444.5 412.1h0M409.6 405.3h0M442.2 402.3h0M444.4 384.3h0M430.0 407.0h0M444.7 413.6h0M444.6 380.9h0M449.6 414.1h0M433.9 409.0h0M443.6 384.8h0M412.6 407.1h0M427.1 421.5h0M400.3 390.7h0M443.8 386.8h0M422.1 368.6h0M422.2 377.6h0M414.1 392.9h0M423.7 370.8h0M434.0 374.6h0M401.8 369.4h0M425.7 372.4h0M403.2 387.7h0M411.1 368.7h0M403.5 420.3h0M408.8 413.9h0M426.9 385.6h0M406.2 396.4h0" stroke="#6f6b9c" stroke-width="1.6" stroke-linecap="round" fill="none"/><path d="M437.1 388.1h0M437.4 383.5h0M407.3 402.5h0M405.5 417.3h0M405.9 375.3h0M447.3 421.7h0M447.1 368.9h0M406.1 385.7h0" stroke="#86654a" stroke-width="1.2" stroke-linecap="round" fill="none"/><path d="M435.6 404.7h0M429.3 390.6h0M428.7 402.3h0M401.1 381.5h0M431.6 396.7h0M424.3 381.8h0M446.5 412.8h0M419.1 370.0h0M426.5 385.9h0M437.3 382.5h0M442.6 371.3h0M429.4 400.8h0M420.8 381.4h0M419.7 396.5h0M448.7 377.3h0M432.2 365.4h0M427.6 383.1h0M412.4 374.2h0M400.7 411.5h0M447.0 372.7h0M439.8 394.4h0M401.2 420.7h0M450.1 389.6h0M401.1 398.0h0M413.9 374.6h0M442.2 395.7h0M435.1 379.0h0M428.0 374.9h0M408.2 402.1h0M425.9 395.8h0M416.6 387.5h0M400.2 392.7h0M446.3 400.4h0M432.9 410.7h0M425.6 420.5h0M435.7 414.4h0M432.6 383.5h0M413.0 376.2h0M415.0 395.1h0M444.1 378.7h0M445.0 378.3h0M403.1 409.9h0M432.3 381.0h0M403.6 373.0h0M446.1 380.9h0M408.4 367.7h0M449.3 396.9h0M437.0 396.9h0M438.0 404.1h0M401.6 398.6h0M399.4 398.8h0M450.6 401.5h0M425.8 375.3h0M420.5 412.8h0M417.7 385.1h0M441.7 388.1h0M424.9 416.3h0M404.8 409.5h0M416.6 376.9h0M447.3 378.2h0M399.4 399.6h0M407.6 368.4h0M428.4 414.4h0M438.2 371.5h0M442.8 379.4h0M437.2 393.2h0M414.6 420.6h0M413.1 369.2h0M447.6 391.9h0M453.8 411.9h0M450.9 407.9h0M422.6 397.7h0M448.8 388.2h0M427.0 388.5h0M437.2 372.7h0M446.4 391.3h0M412.8 394.8h0M434.1 405.0h0M442.1 387.1h0M405.6 389.5h0M404.9 386.8h0M402.2 385.6h0M407.3 384.2h0M409.1 378.5h0M405.6 367.2h0M407.2 364.9h0M450.3 376.3h0M449.2 400.1h0M448.7 405.7h0M429.8 401.5h0M448.5 399.9h0M402.3 404.5h0M442.6 374.5h0M409.8 381.2h0M449.1 374.4h0M451.3 404.1h0M426.3 399.0h0" stroke="#646094" stroke-width="1.6" stroke-linecap="round" fill="none"/><path d="M425.8 382.5h0M425.7 379.5h0M415.7 380.6h0M449.5 398.5h0M452.3 418.2h0M398.2 421.1h0M445.1 394.6h0M409.2 415.3h0M404.2 372.2h0M414.0 391.3h0M411.2 391.4h0M400.5 380.9h0M441.6 390.6h0M401.5 376.6h0M417.4 390.8h0M440.4 391.2h0M410.7 371.5h0M425.4 368.3h0M440.1 416.2h0M426.1 419.2h0M417.6 387.9h0M414.4 412.1h0M419.9 376.5h0M443.3 406.9h0M406.7 365.4h0M418.4 370.8h0M409.1 394.8h0M453.8 386.9h0M420.8 406.4h0M416.8 420.5h0M405.0 395.9h0M415.4 392.0h0M442.2 384.8h0M438.1 394.0h0M450.5 381.4h0M447.7 390.6h0M425.1 369.8h0M403.9 420.7h0M434.0 396.2h0M401.5 400.4h0M399.5 412.6h0M429.5 420.2h0M421.4 367.5h0M443.9 367.3h0M446.2 413.8h0M432.5 381.9h0M415.1 380.2h0M440.0 371.4h0M426.0 415.1h0M418.1 397.1h0M421.4 400.0h0M420.5 416.9h0M443.3 367.6h0M408.6 365.1h0M410.1 373.1h0M404.9 407.2h0M439.8 412.1h0M418.8 379.3h0M425.8 369.4h0M438.3 371.8h0M451.1 399.4h0M407.7 392.3h0M430.1 390.3h0M444.1 383.1h0M402.4 391.0h0M408.2 413.0h0M427.5 401.4h0M405.6 393.0h0M408.2 410.0h0M402.9 385.9h0M434.0 379.3h0M419.2 404.0h0M422.6 368.7h0M402.9 388.6h0M428.1 374.3h0M424.3 382.4h0M420.1 371.9h0M413.8 394.3h0M433.4 405.7h0M417.7 394.9h0M422.0 399.9h0M411.3 387.1h0M425.6 400.7h0M414.8 378.1h0M427.8 408.6h0M451.8 388.9h0M437.5 373.8h0M409.9 416.4h0M449.7 393.9h0M407.2 403.5h0M403.6 411.1h0M406.5 409.0h0" stroke="#7a76a4" stroke-width="1.6" stroke-linecap="round" fill="none"/><path d="M418.6 369.1h0M426.3 414.0h0M449.4 369.3h0M453.9 398.6h0M410.9 379.5h0M424.9 418.5h0M432.3 391.9h0M442.4 367.0h0M432.4 373.4h0M417.3 387.0h0M436.5 365.3h0M401.7 372.8h0M413.4 365.4h0M452.2 378.5h0M424.6 378.4h0M399.9 405.2h0M442.2 412.9h0M449.1 365.4h0M431.9 378.2h0M441.0 384.9h0M414.4 384.9h0M427.9 378.2h0M434.4 400.0h0M400.2 398.6h0M431.5 392.2h0M428.6 414.0h0M401.7 384.3h0M437.1 368.2h0M426.0 398.8h0M410.8 365.1h0M421.9 365.1h0M442.7 412.2h0M435.6 419.5h0M398.7 413.6h0M402.6 404.1h0M433.5 384.3h0M408.4 366.5h0M428.8 372.6h0M421.4 395.5h0M414.2 365.4h0M424.4 415.0h0M412.9 371.3h0M447.1 395.1h0M400.4 407.4h0M401.4 376.3h0M413.2 382.6h0M419.9 405.7h0M429.1 410.7h0M435.1 420.5h0M425.4 371.5h0M440.1 396.8h0M452.7 379.0h0M431.8 399.7h0M421.2 379.7h0M406.8 419.1h0M417.2 390.4h0M442.8 421.1h0M443.7 389.2h0M401.0 365.8h0M437.7 395.4h0M402.3 402.7h0M400.1 411.2h0M436.4 387.5h0M399.0 379.5h0M417.2 420.2h0M416.1 376.8h0M425.9 366.9h0M430.4 388.0h0M445.6 367.1h0M402.8 365.8h0M436.1 420.4h0M439.7 391.7h0M409.0 410.7h0M446.5 380.6h0M409.6 380.1h0M406.0 395.6h0M443.0 389.7h0M422.7 375.0h0M421.5 391.4h0M442.4 365.6h0M406.3 406.6h0M426.1 413.4h0M398.6 411.3h0M419.6 413.7h0M401.3 397.7h0" stroke="#646094" stroke-width="1.3" stroke-linecap="round" fill="none"/><path d="M448.9 410.2h0M409.8 369.2h0M414.2 371.2h0M408.7 386.9h0M401.4 389.2h0M416.9 403.9h0M433.2 421.1h0M443.2 388.5h0M414.0 380.5h0M398.0 398.8h0M402.8 383.5h0M452.7 376.2h0M402.7 415.9h0M399.7 419.2h0M453.2 375.0h0M446.4 416.9h0M411.9 379.9h0M403.5 406.9h0M425.4 385.9h0M407.8 386.4h0M451.4 369.3h0M449.9 418.8h0M428.9 404.3h0M412.8 408.1h0M450.2 401.4h0M405.5 392.3h0M432.5 402.9h0M445.6 375.5h0M443.4 395.2h0M426.2 366.8h0M421.6 407.8h0M436.6 396.3h0M451.5 411.9h0M411.0 391.7h0M442.5 375.4h0M416.5 402.6h0M415.8 372.5h0M443.2 381.0h0M398.1 387.6h0M443.9 410.1h0M426.4 383.7h0M425.3 375.9h0M434.6 418.1h0M403.9 419.6h0M432.7 376.4h0M441.8 368.7h0M414.7 384.5h0M445.8 392.0h0M419.6 370.6h0M414.9 388.1h0M413.8 388.4h0M417.4 379.7h0M435.3 399.8h0M422.9 404.5h0M450.8 403.0h0M417.7 419.1h0M423.2 380.3h0M426.4 396.6h0M435.2 406.0h0M433.7 405.1h0M430.7 417.9h0M447.1 411.0h0M434.7 409.2h0M400.9 385.9h0M452.8 380.8h0M448.1 419.1h0M445.7 404.5h0M409.7 382.6h0M441.0 390.2h0M433.3 367.3h0M453.9 407.0h0M399.8 418.8h0M439.8 374.6h0M412.4 394.7h0M427.5 370.5h0M422.0 393.9h0" stroke="#5c588b" stroke-width="1.0" stroke-linecap="round" fill="none"/><path d="M434.1 400.5h0M411.5 374.2h0M420.5 374.0h0M430.2 370.9h0M411.5 378.9h0M407.3 414.1h0M431.0 415.5h0M424.4 396.7h0M417.9 378.1h0M442.0 369.2h0M416.8 396.0h0M425.4 394.3h0M407.2 399.3h0M447.0 386.4h0M442.9 389.0h0M441.2 372.6h0M438.3 387.9h0M449.4 368.7h0M450.7 365.4h0M411.8 400.0h0M408.0 392.0h0M417.5 418.2h0M448.1 418.7h0M410.3 397.9h0M398.0 420.9h0M404.5 388.1h0M412.0 404.5h0M453.0 404.5h0M447.0 411.3h0M430.4 402.0h0M421.0 366.1h0M441.1 383.6h0M432.2 398.8h0M415.2 407.9h0M441.3 387.2h0M417.6 398.8h0M443.1 406.1h0M449.5 381.9h0M415.5 379.4h0M438.2 368.4h0M444.5 420.6h0M402.0 368.4h0M403.3 409.2h0M412.4 370.8h0M413.2 378.9h0M413.8 391.2h0M436.1 375.2h0M441.8 370.0h0M445.8 421.6h0M418.7 416.3h0M452.9 410.9h0M412.7 373.9h0M444.0 384.9h0M426.2 374.5h0M417.1 401.0h0M433.4 379.8h0M451.4 382.5h0M398.0 395.7h0M444.1 370.7h0M419.5 415.7h0M410.8 380.3h0M447.1 414.2h0M449.5 419.0h0M409.7 419.2h0M401.0 397.5h0M453.2 392.8h0M451.7 401.3h0M416.5 420.9h0M424.5 384.7h0M425.0 410.7h0M398.6 383.5h0M403.5 407.2h0M450.2 410.6h0M433.9 421.8h0M417.1 385.3h0M399.8 396.9h0M432.3 390.2h0M416.5 420.1h0M410.7 375.6h0M428.1 388.5h0M432.9 405.7h0M434.1 405.8h0M432.2 386.7h0M431.8 379.3h0M407.5 401.3h0M415.8 365.4h0M453.5 368.7h0M423.2 385.0h0M404.4 399.0h0" stroke="#6f6b9c" stroke-width="1.0" stroke-linecap="round" fill="none"/><path d="M410.6 383.5h0M446.8 392.2h0M418.7 399.9h0M441.0 385.6h0M449.5 381.5h0M408.0 395.1h0M449.3 373.6h0M415.7 402.2h0M418.7 391.8h0M445.5 383.6h0M412.1 407.3h0M435.8 368.3h0M428.7 375.9h0M430.3 400.0h0M407.9 399.9h0M411.4 375.2h0M452.0 385.1h0M404.6 386.6h0M443.5 404.5h0M435.7 400.6h0M409.0 378.7h0M402.3 417.4h0M412.8 404.8h0M427.4 375.8h0M441.0 364.8h0M431.9 405.4h0M450.9 408.4h0M425.8 409.3h0M416.7 419.1h0M451.6 416.0h0M407.6 411.7h0M426.0 396.1h0M419.4 402.1h0M419.9 416.6h0M446.5 365.9h0M403.8 399.5h0M427.8 383.4h0M400.1 385.1h0M453.9 373.5h0M449.4 391.9h0M438.3 378.0h0M414.9 414.5h0M399.9 375.3h0M440.6 395.6h0M408.4 400.1h0M426.7 368.5h0M417.4 403.9h0M435.9 371.7h0M427.7 399.3h0M444.5 369.1h0M433.9 380.0h0M433.3 420.1h0M403.6 417.6h0M405.8 405.1h0M437.4 382.6h0M429.3 398.8h0M410.6 390.0h0M422.0 408.9h0M447.5 374.6h0M428.3 394.8h0M421.4 365.6h0M433.9 416.1h0M439.2 396.4h0M399.0 377.5h0M423.9 393.1h0M447.8 395.6h0M451.3 364.7h0" stroke="#5c588b" stroke-width="1.3" stroke-linecap="round" fill="none"/><path d="M436.9 398.3h0M425.3 421.3h0M427.4 385.2h0M412.4 389.3h0M412.3 414.6h0M433.1 419.4h0" stroke="#927050" stroke-width="1.6" stroke-linecap="round" fill="none"/><path d="M402.4 408.5h0M441.3 391.2h0M399.3 391.7h0M429.5 393.7h0M429.2 367.1h0M451.5 414.3h0M437.2 397.9h0" stroke="#7a5a40" stroke-width="1.2" stroke-linecap="round" fill="none"/><path d="M448.2 382.9h0M424.4 377.6h0M443.2 392.5h0M423.8 399.9h0M404.0 413.6h0M447.0 370.0h0M454.0 412.6h0" stroke="#7a5a40" stroke-width="1.6" stroke-linecap="round" fill="none"/><path d="M406.2 417.7h0M410.2 368.5h0M448.2 394.1h0M430.9 367.6h0M415.0 383.0h0" stroke="#927050" stroke-width="1.2" stroke-linecap="round" fill="none"/><path d="M411.6 411.8h0M415.2 366.3h0M414.7 388.1h0M436.8 377.9h0M403.0 370.6h0M404.5 385.6h0M419.7 414.6h0M441.2 392.9h0" stroke="#86654a" stroke-width="1.6" stroke-linecap="round" fill="none"/></g></g>
<line x1="441.5" y1="419.1" x2="451.7" y2="419.1" stroke="#111" stroke-width="1"/>
<g clip-path="url(#cp31)"><g filter="url(#bl)"><rect x="456.4" y="364.7" width="57.6" height="57.1" fill="#b3aaad"/><path d="M495.7 375.7h0M456.9 403.8h0M463.6 377.5h0M490.4 392.9h0M464.7 404.9h0M496.6 367.8h0M490.5 393.9h0M496.8 377.4h0M500.9 416.0h0M505.5 399.4h0M485.5 380.5h0M500.0 418.3h0M499.9 414.5h0M493.6 413.5h0M495.1 365.0h0M511.3 381.3h0M484.3 370.8h0M469.2 421.0h0M469.4 401.4h0M478.9 413.8h0M466.4 397.7h0M474.1 417.3h0M469.2 379.5h0M507.3 421.0h0M472.5 407.5h0M466.1 414.5h0M460.8 377.4h0M463.4 374.1h0M465.3 372.5h0M485.5 395.4h0M509.5 374.9h0M509.6 379.9h0M472.1 382.9h0M506.0 384.9h0M505.9 415.6h0M508.2 407.0h0M479.0 413.9h0M496.4 405.6h0M510.7 409.8h0M463.6 381.7h0M512.6 389.4h0" stroke="#7a522e" stroke-width="1.4" stroke-linecap="round" fill="none"/><path d="M484.3 398.1h0M463.3 379.8h0M500.6 412.8h0M483.8 399.2h0M486.1 389.8h0M494.2 391.5h0M483.7 374.7h0M489.1 372.1h0M481.9 413.8h0M503.6 404.2h0M486.2 415.2h0M477.2 421.1h0M468.7 367.5h0M479.7 394.7h0M508.7 405.9h0M499.0 386.5h0M488.6 420.6h0M466.6 408.2h0M477.2 373.0h0M507.5 372.7h0M469.8 402.7h0M511.7 373.9h0M502.0 393.4h0M510.1 391.9h0M493.8 368.8h0M469.4 418.8h0M472.0 381.6h0M477.6 393.0h0M476.7 384.3h0M492.7 367.5h0M480.1 379.6h0M495.5 379.6h0M495.2 371.8h0M491.7 395.4h0M460.0 395.3h0M485.7 408.3h0M466.8 378.6h0M463.3 409.2h0M472.9 394.3h0M463.2 397.4h0M490.1 372.5h0M462.2 367.5h0M460.6 413.9h0M497.9 367.3h0M500.6 411.2h0M483.9 383.5h0M463.7 401.6h0M512.7 372.5h0M502.0 373.6h0M476.3 400.8h0M509.3 408.1h0M456.7 393.6h0M512.6 380.2h0M506.0 403.7h0M485.1 372.6h0M487.9 387.5h0M471.4 367.6h0M513.2 404.5h0" stroke="#6d4a2c" stroke-width="1.65" stroke-linecap="round" fill="none"/><path d="M462.9 400.7h0M506.3 414.9h0M481.4 366.8h0M481.3 379.6h0M483.6 382.2h0M465.0 410.2h0M496.2 420.7h0M474.3 414.3h0M467.9 366.8h0M466.3 371.1h0M507.2 419.1h0M497.4 403.6h0M487.6 408.6h0M486.8 376.8h0M465.7 365.1h0M470.1 402.0h0M474.5 375.0h0M512.5 399.3h0M486.3 396.8h0M485.8 372.0h0M491.4 366.6h0M510.8 385.5h0M495.9 416.7h0M490.4 403.5h0M458.1 381.2h0M488.5 397.9h0M473.1 366.1h0M479.9 374.7h0M507.1 412.2h0M482.3 412.7h0M465.3 412.4h0M484.0 405.3h0M486.5 368.0h0M476.5 385.1h0M490.4 371.4h0M498.6 421.5h0M513.0 387.6h0M493.1 388.8h0M466.9 396.3h0M496.1 392.2h0M500.3 380.7h0M472.8 407.3h0M479.8 383.9h0M492.4 393.4h0M459.1 376.2h0M509.2 375.7h0M487.2 385.9h0M461.8 394.3h0" stroke="#9a94b3" stroke-width="1.4" stroke-linecap="round" fill="none"/><path d="M497.4 418.4h0M464.5 366.1h0M468.5 372.2h0M471.4 387.9h0M495.8 405.5h0M466.4 414.4h0M474.5 401.3h0M466.5 378.8h0M467.4 382.1h0M500.0 408.7h0M511.4 394.7h0M498.4 405.0h0M466.7 404.2h0M468.0 373.6h0M476.9 381.5h0M498.6 381.2h0M461.4 380.1h0M471.5 407.9h0M484.8 414.5h0M472.2 376.9h0M473.3 377.0h0M463.4 402.8h0M464.4 380.8h0M480.3 385.2h0M462.3 413.7h0M484.5 393.4h0M482.9 380.2h0M508.9 409.6h0M459.3 385.1h0M464.8 410.2h0M496.2 390.9h0M506.5 394.7h0M476.2 376.8h0M498.0 393.7h0M502.0 376.8h0M460.8 390.0h0M493.4 398.5h0M492.5 419.8h0M479.5 382.6h0" stroke="#6d4a2c" stroke-width="1.15" stroke-linecap="round" fill="none"/><path d="M480.4 420.1h0M507.9 401.8h0M495.3 366.0h0M502.9 384.7h0M474.5 367.2h0M473.0 392.8h0M489.7 396.7h0M464.5 407.3h0M479.9 376.6h0M464.3 398.0h0M479.6 375.3h0M502.8 384.7h0M480.9 377.1h0M464.8 390.8h0M511.7 421.7h0M477.2 419.9h0M470.6 399.5h0M493.1 369.1h0M497.1 376.7h0M506.4 402.5h0M498.1 396.4h0M479.1 388.1h0M505.9 385.8h0M467.7 385.7h0M501.8 414.7h0M513.4 397.7h0M471.3 376.9h0M502.0 407.7h0M468.6 407.7h0M464.5 384.7h0M458.7 396.0h0M484.3 420.5h0M482.6 379.3h0M462.1 391.4h0M494.9 388.0h0M500.0 390.4h0M481.8 413.7h0M471.8 385.4h0M466.7 378.2h0M512.0 406.1h0M456.6 421.1h0M493.5 382.2h0M500.7 420.0h0M488.0 403.5h0M463.7 396.6h0M509.1 374.4h0" stroke="#62412a" stroke-width="1.65" stroke-linecap="round" fill="none"/><path d="M465.6 389.8h0M508.0 404.0h0M504.8 388.8h0M473.4 394.3h0M480.9 416.9h0M494.9 383.9h0M496.6 396.5h0M498.2 404.2h0M511.5 373.0h0M484.0 409.2h0M476.1 418.3h0M465.7 378.6h0M487.1 413.1h0M502.8 380.3h0M499.1 373.4h0M484.0 413.4h0M459.0 375.8h0M486.1 377.4h0M507.8 395.3h0M487.2 409.0h0M463.9 416.5h0M510.6 397.0h0M497.3 400.7h0M493.1 418.6h0M470.6 413.0h0M457.5 393.2h0M499.4 405.6h0M494.9 404.6h0M502.1 383.9h0M511.3 392.7h0M492.4 400.4h0M463.6 375.4h0M472.4 414.7h0M493.1 420.1h0M484.8 391.9h0M502.0 373.8h0M487.3 418.0h0M469.1 364.7h0M501.8 389.5h0M495.7 406.4h0M506.5 397.2h0M459.7 389.4h0M509.3 366.5h0" stroke="#7a522e" stroke-width="1.15" stroke-linecap="round" fill="none"/><path d="M509.8 418.6h0M488.6 383.1h0M492.0 398.6h0M513.2 396.3h0M483.7 414.4h0M498.7 417.6h0M467.1 409.6h0M485.8 383.3h0M464.5 420.8h0M459.8 365.3h0M497.1 411.0h0M483.6 401.4h0M464.3 388.4h0M479.6 416.7h0M482.8 412.2h0M484.3 390.3h0M489.6 412.3h0M505.7 401.5h0M466.1 385.9h0M474.3 371.1h0M498.9 408.9h0M472.7 381.9h0M484.2 392.9h0M513.0 374.2h0M470.1 406.3h0M467.7 391.6h0M495.6 391.6h0M486.3 378.1h0M497.2 379.1h0M510.8 368.5h0M472.2 372.1h0M479.4 398.6h0M464.3 390.4h0M463.2 419.4h0M496.3 398.0h0M491.0 375.5h0M476.3 380.5h0M499.9 420.8h0M468.7 395.9h0M493.3 404.6h0M489.1 415.9h0M470.7 387.4h0" stroke="#85592f" stroke-width="1.15" stroke-linecap="round" fill="none"/><path d="M464.4 419.6h0M509.7 408.9h0M469.1 374.8h0M492.7 366.3h0M457.3 381.8h0M483.9 370.2h0M508.9 382.5h0M493.9 420.4h0M499.7 384.6h0M507.7 419.5h0M463.4 388.6h0M507.8 388.1h0M468.8 364.9h0M497.2 418.0h0M494.4 388.5h0M474.9 411.0h0M459.2 395.8h0M474.5 382.9h0M486.9 406.0h0M487.6 421.1h0M486.0 420.8h0M473.8 372.3h0M507.6 366.3h0M485.8 413.6h0M466.8 375.7h0M507.9 409.8h0M461.7 385.3h0M476.2 379.0h0M481.7 413.3h0M457.2 366.6h0M477.0 375.8h0M486.2 409.8h0M479.4 378.2h0M505.8 378.4h0M487.8 397.8h0" stroke="#8f89aa" stroke-width="1.4" stroke-linecap="round" fill="none"/><path d="M471.1 366.0h0M465.2 365.8h0M471.8 410.0h0M458.9 381.5h0M466.3 377.4h0M462.9 412.8h0M500.4 402.6h0M494.4 414.4h0M458.5 385.1h0M513.2 406.9h0M465.8 380.2h0M469.4 389.0h0M496.4 417.8h0M512.3 378.3h0M505.8 397.5h0M460.0 395.1h0M459.8 410.4h0M499.7 371.8h0M462.1 378.3h0M483.4 392.0h0M464.4 368.6h0M460.9 374.2h0M491.2 407.3h0M507.7 402.2h0M502.3 405.1h0M503.8 413.7h0M504.1 384.0h0M465.6 364.9h0M491.0 419.5h0M476.1 386.6h0M481.5 392.4h0M490.8 366.4h0M487.8 375.1h0M492.4 369.9h0M476.5 395.5h0M503.7 393.1h0M481.3 390.0h0M467.4 407.8h0M458.5 407.8h0" stroke="#62412a" stroke-width="1.15" stroke-linecap="round" fill="none"/><path d="M505.2 395.1h0M508.8 395.0h0M504.8 374.3h0M512.1 390.7h0M478.1 397.3h0M465.2 413.3h0M462.5 415.3h0M465.3 386.8h0M504.8 396.5h0M513.8 405.3h0M458.9 400.4h0M477.9 396.2h0M468.1 414.1h0M505.2 417.2h0M470.8 381.2h0M505.0 375.7h0M481.4 420.9h0M513.2 382.2h0M490.9 383.8h0M488.8 375.0h0M472.3 370.0h0M466.7 392.5h0M472.4 380.0h0M483.4 398.3h0M487.2 406.5h0M495.1 377.2h0M512.2 409.2h0M473.4 406.0h0M506.1 368.2h0M489.9 419.3h0M497.3 410.4h0M492.9 383.7h0M462.9 397.3h0M472.8 374.2h0M469.4 366.3h0M506.4 384.7h0M471.1 378.5h0M467.9 366.9h0M509.5 372.4h0M460.6 368.7h0M485.0 382.8h0M457.2 381.1h0M457.0 390.6h0M492.9 381.6h0M508.9 390.0h0M492.1 408.0h0M480.0 389.5h0" stroke="#6d4a2c" stroke-width="1.4" stroke-linecap="round" fill="none"/><path d="M511.9 368.0h0M489.6 375.2h0M469.5 389.8h0M459.3 372.7h0M481.7 404.0h0M493.9 412.0h0M482.3 384.4h0M471.1 411.8h0M501.6 393.9h0M466.4 406.5h0M502.8 415.9h0M503.1 401.5h0M496.7 369.1h0M484.1 410.7h0M490.6 388.0h0M476.9 419.3h0M494.9 421.6h0M490.1 420.5h0M478.5 377.8h0M481.3 375.3h0M479.3 367.7h0M510.9 411.8h0M477.6 401.0h0M467.9 416.7h0M486.9 369.2h0M499.5 411.9h0M490.1 403.0h0M463.6 369.6h0M469.5 367.5h0M505.1 398.8h0M499.5 379.8h0M493.4 419.2h0M464.3 394.6h0M490.6 416.5h0M470.6 397.5h0M494.0 412.0h0M457.7 400.4h0M479.5 401.0h0M503.6 378.8h0M513.0 395.9h0M484.8 412.6h0M502.9 394.0h0M470.8 390.0h0M498.7 402.4h0M463.4 368.0h0M463.4 367.4h0M485.1 384.2h0M496.9 384.8h0M481.9 367.9h0" stroke="#85592f" stroke-width="1.65" stroke-linecap="round" fill="none"/><path d="M486.1 373.3h0M508.4 384.7h0M468.5 393.3h0M459.5 399.8h0M505.2 393.4h0M472.2 416.7h0M494.8 389.8h0M460.1 396.6h0M501.3 370.1h0M499.7 383.2h0M477.6 384.1h0M511.7 411.7h0M461.8 416.9h0M511.8 390.9h0M482.5 421.8h0M504.4 413.8h0M479.0 366.2h0M475.0 421.1h0M470.5 397.0h0M482.8 371.9h0M509.6 365.3h0M494.5 375.2h0M491.9 375.1h0M504.8 383.2h0M464.9 398.4h0M508.5 369.6h0M483.3 409.7h0M457.5 376.7h0M488.8 366.4h0M512.3 394.9h0M497.6 392.6h0M474.7 382.7h0M494.1 369.5h0M457.7 393.9h0M489.1 378.5h0M512.8 376.0h0M497.8 408.8h0M488.1 397.0h0M506.1 385.8h0" stroke="#62412a" stroke-width="1.4" stroke-linecap="round" fill="none"/><path d="M483.8 377.3h0M470.8 391.7h0M471.5 390.7h0M471.7 399.2h0M474.4 371.5h0M494.7 411.4h0M474.0 388.9h0M489.6 414.2h0M473.5 376.2h0M470.2 421.7h0M485.0 405.4h0M481.2 405.0h0M491.5 410.1h0M510.8 399.0h0M479.6 381.5h0M464.7 373.0h0M503.2 407.3h0M480.8 377.0h0M458.5 390.2h0M509.4 391.8h0M476.8 405.8h0M474.8 393.7h0M495.2 377.1h0M468.8 398.8h0M511.4 386.9h0M508.9 387.8h0M507.6 373.5h0M492.0 407.7h0M499.9 411.4h0M462.4 395.1h0M509.3 398.9h0M479.4 377.7h0M512.3 396.8h0M482.4 379.6h0M459.2 370.0h0M472.1 395.3h0M486.6 389.5h0M512.6 388.4h0M462.7 367.2h0" stroke="#85592f" stroke-width="1.4" stroke-linecap="round" fill="none"/><path d="M473.4 388.8h0M512.7 368.6h0M473.9 392.0h0M474.0 399.6h0M478.6 392.9h0M486.5 416.9h0M489.0 380.9h0M483.0 372.7h0M510.7 386.4h0M476.8 411.4h0M506.2 374.6h0M470.7 371.6h0M469.3 409.6h0M471.1 385.9h0M479.4 408.8h0M507.1 386.7h0M510.1 392.4h0M466.5 398.7h0M490.4 399.9h0M468.6 401.3h0M495.2 402.6h0M510.9 398.6h0M500.2 402.3h0M495.6 366.2h0M475.7 390.2h0M497.4 393.1h0M471.0 390.0h0M459.9 381.8h0M479.2 367.5h0M476.5 367.3h0M485.2 382.7h0M510.3 389.8h0M499.1 381.3h0M476.8 394.3h0M498.3 417.7h0M495.9 390.6h0M492.1 407.4h0M495.6 370.3h0M480.9 412.9h0" stroke="#8f89aa" stroke-width="1.1" stroke-linecap="round" fill="none"/><path d="M468.5 383.4h0M473.8 395.6h0M492.8 366.4h0M479.5 390.4h0M502.7 406.4h0M470.0 421.5h0M456.9 392.6h0M497.4 378.4h0M484.0 380.9h0M476.2 407.4h0M457.5 375.3h0M468.7 394.2h0M513.5 415.7h0M490.7 383.8h0M493.9 404.2h0M457.1 378.3h0M509.9 378.0h0M496.5 370.7h0M487.8 410.9h0M486.8 373.0h0M477.2 388.0h0M471.9 417.4h0M484.7 372.9h0M471.6 411.6h0M496.9 368.7h0M500.7 395.5h0M469.8 413.6h0M490.0 416.8h0M498.0 411.7h0M474.7 376.0h0M480.1 373.0h0M511.2 387.8h0M493.9 378.0h0M458.1 414.3h0" stroke="#9a94b3" stroke-width="1.1" stroke-linecap="round" fill="none"/><path d="M496.8 378.3h0M479.3 372.4h0M511.8 397.1h0M501.7 368.0h0M492.4 385.1h0M473.0 383.8h0M494.2 404.5h0M508.6 366.1h0M496.6 384.4h0M468.5 420.5h0M461.9 412.7h0M510.8 390.8h0M468.7 416.7h0M495.9 376.2h0M485.5 419.1h0M486.0 414.1h0M475.0 381.0h0M468.4 371.9h0M490.1 385.2h0M474.3 379.4h0M490.6 416.7h0M497.6 377.8h0M487.1 395.4h0M494.8 390.0h0M478.9 411.8h0M513.7 419.8h0M479.6 377.1h0M485.8 390.6h0M491.4 366.1h0M502.4 413.1h0M463.2 417.8h0M461.7 412.3h0M503.1 400.1h0M467.5 374.2h0M465.1 373.8h0M483.0 374.9h0M508.0 373.7h0M475.8 378.9h0M510.4 390.9h0M466.9 407.5h0M456.9 417.9h0M463.3 366.9h0" stroke="#7a522e" stroke-width="1.65" stroke-linecap="round" fill="none"/></g></g>
<line x1="500.9" y1="419.1" x2="512.2" y2="419.1" stroke="#111" stroke-width="1"/>
<text transform="translate(394.9,220.5) rotate(-90)" x="0" y="0" font-size="9" text-anchor="middle" textLength="25.8" lengthAdjust="spacingAndGlyphs" stroke="#000" stroke-width="0.22">Control</text>
<text transform="translate(394.9,278.8) rotate(-90)" x="0" y="0" font-size="9" text-anchor="middle" textLength="14.8" lengthAdjust="spacingAndGlyphs" stroke="#000" stroke-width="0.22">TMZ</text>
<text transform="translate(394.9,411.5) rotate(-90)" x="0" y="0" font-size="8.8" textLength="95.2" lengthAdjust="spacingAndGlyphs" stroke="#000" stroke-width="0.22">TMZ +DDI199TMZ +SAHA</text>
<text transform="translate(538.8,188.4) scale(1.1,1)" font-size="19.5" font-weight="bold">F</text>
<line x1="559.5" y1="191.8" x2="559.5" y2="287.6" stroke="#000" stroke-width="1.1"/>
<line x1="559" y1="287.1" x2="658.6" y2="287.1" stroke="#000" stroke-width="1.1"/>
<line x1="555.8" y1="255.6" x2="559.5" y2="255.6" stroke="#000" stroke-width="0.9"/>
<line x1="555.8" y1="224.1" x2="559.5" y2="224.1" stroke="#000" stroke-width="0.9"/>
<line x1="555.8" y1="192.6" x2="559.5" y2="192.6" stroke="#000" stroke-width="0.9"/>
<text x="554.9" y="289.4" font-size="6.7" text-anchor="end" fill="#1a1a1a" stroke="#1a1a1a" stroke-width="0.12">0</text>
<text x="554.9" y="257.9" font-size="6.7" text-anchor="end" textLength="10.3" lengthAdjust="spacingAndGlyphs" fill="#1a1a1a" stroke="#1a1a1a" stroke-width="0.12">0.1</text>
<text x="554.9" y="226.4" font-size="6.7" text-anchor="end" textLength="10.3" lengthAdjust="spacingAndGlyphs" fill="#1a1a1a" stroke="#1a1a1a" stroke-width="0.12">0.2</text>
<text x="554.9" y="194.9" font-size="6.7" text-anchor="end" textLength="10.3" lengthAdjust="spacingAndGlyphs" fill="#1a1a1a" stroke="#1a1a1a" stroke-width="0.12">0.3</text>
<text transform="translate(542.4,251.8) rotate(-90)" x="0" y="0" font-size="8" text-anchor="middle" textLength="91.3" lengthAdjust="spacingAndGlyphs" fill="#222" stroke="#222" stroke-width="0.22">acetyl α-tubulin (intensity)</text>
<rect x="567" y="232.3" width="14.8" height="54.8" fill="#7f7f7f" stroke="#000" stroke-width="0.8"/>
<rect x="590" y="226.9" width="14.9" height="60.2" fill="#3e0757" stroke="#000" stroke-width="0.8"/>
<rect x="613.1" y="213.4" width="14.7" height="73.7" fill="#137a93" stroke="#000" stroke-width="0.8"/>
<rect x="635.7" y="216.9" width="15" height="70.2" fill="#ff8000" stroke="#000" stroke-width="0.8"/>
<line x1="574.4" y1="228.6" x2="574.4" y2="235.6" stroke="#000" stroke-width="0.8"/>
<line x1="571.8" y1="228.6" x2="577" y2="228.6" stroke="#000" stroke-width="0.8"/>
<line x1="571.8" y1="235.6" x2="577" y2="235.6" stroke="#000" stroke-width="0.8"/>
<line x1="597.45" y1="222.8" x2="597.45" y2="230.5" stroke="#000" stroke-width="0.8"/>
<line x1="594.85" y1="222.8" x2="600.05" y2="222.8" stroke="#000" stroke-width="0.8"/>
<line x1="594.85" y1="230.5" x2="600.05" y2="230.5" stroke="#000" stroke-width="0.8"/>
<line x1="620.45" y1="208.3" x2="620.45" y2="220" stroke="#000" stroke-width="0.8"/>
<line x1="617.85" y1="208.3" x2="623.05" y2="208.3" stroke="#000" stroke-width="0.8"/>
<line x1="617.85" y1="220" x2="623.05" y2="220" stroke="#000" stroke-width="0.8"/>
<line x1="643.2" y1="214.2" x2="643.2" y2="219.6" stroke="#000" stroke-width="0.8"/>
<line x1="640.6" y1="214.2" x2="645.8" y2="214.2" stroke="#000" stroke-width="0.8"/>
<line x1="640.6" y1="219.6" x2="645.8" y2="219.6" stroke="#000" stroke-width="0.8"/>
<circle cx="574.3" cy="228.2" r="1.85" fill="#000"/>
<circle cx="574.3" cy="232.6" r="1.85" fill="#000"/>
<circle cx="574.3" cy="236.2" r="1.85" fill="#000"/>
<circle cx="597.9" cy="221.6" r="1.85" fill="#000"/>
<circle cx="592.7" cy="229.9" r="1.85" fill="#000"/>
<circle cx="602.1" cy="229.9" r="1.85" fill="#000"/>
<circle cx="620.3" cy="206.7" r="1.85" fill="#000"/>
<circle cx="620.3" cy="212.9" r="1.85" fill="#000"/>
<circle cx="620.3" cy="221.8" r="1.85" fill="#000"/>
<circle cx="638.3" cy="214" r="1.85" fill="#000"/>
<circle cx="648.8" cy="214" r="1.85" fill="#000"/>
<circle cx="643.7" cy="221" r="1.85" fill="#000"/>
<path d="M576.9,188.8 L576.9,185.6 L643.7,185.6 L643.7,188.8" stroke="#666" stroke-width="0.8" fill="none"/>
<path d="M576.9,196.5 L576.9,193.5 L620.8,193.5 L620.8,196.5" stroke="#666" stroke-width="0.8" fill="none"/>
<path d="M599.7,203.5 L599.7,199.6 L641.8,199.6 L641.8,203.5" stroke="#666" stroke-width="0.8" fill="none"/>
<path d="M611.4,181.3 L611.4,183.9 M610.27,181.95 L612.53,183.25 M610.27,183.25 L612.53,181.95 " stroke="#000" stroke-width="0.8" fill="none"/>
<path d="M599.7,189.4 L599.7,192 M598.57,190.05 L600.83,191.35 M598.57,191.35 L600.83,190.05 " stroke="#000" stroke-width="0.8" fill="none"/>
<path d="M621.2,195.3 L621.2,197.9 M620.07,195.95 L622.33,197.25 M620.07,197.25 L622.33,195.95 " stroke="#000" stroke-width="0.8" fill="none"/>
<text x="561" y="297.9" font-size="8" textLength="25.2" lengthAdjust="spacingAndGlyphs" stroke="#000" stroke-width="0.12">Control</text>
<text x="590.5" y="297.9" font-size="8" textLength="15.6" lengthAdjust="spacingAndGlyphs" stroke="#000" stroke-width="0.12">TMZ</text>
<text x="613.2" y="297.9" font-size="8" textLength="15.1" lengthAdjust="spacingAndGlyphs" stroke="#000" stroke-width="0.12">TMZ</text>
<text x="638.9" y="297.9" font-size="8" textLength="15.9" lengthAdjust="spacingAndGlyphs" stroke="#000" stroke-width="0.12">TMZ</text>
<text x="609.4" y="307.5" font-size="8" textLength="21.4" lengthAdjust="spacingAndGlyphs" stroke="#000" stroke-width="0.12">SAHA</text>
<text x="633.3" y="307.5" font-size="8" textLength="26.5" lengthAdjust="spacingAndGlyphs" stroke="#000" stroke-width="0.12">DDI199</text>
<line x1="563.5" y1="313" x2="563.5" y2="388.6" stroke="#000" stroke-width="1.1"/>
<line x1="563.5" y1="395.6" x2="563.5" y2="415.7" stroke="#000" stroke-width="1.1"/>
<line x1="563" y1="415.2" x2="658.5" y2="415.2" stroke="#000" stroke-width="1.1"/>
<path d="M561.4,391.2 L565.6,386.2 M561.4,398.2 L565.6,393.2" stroke="#000" stroke-width="0.9" fill="none"/>
<line x1="559.8" y1="388" x2="563.5" y2="388" stroke="#000" stroke-width="0.9"/>
<text x="557" y="390.4" font-size="6.8" font-weight="bold" text-anchor="end" stroke="#000" stroke-width="0.12">50</text>
<line x1="559.8" y1="363.2" x2="563.5" y2="363.2" stroke="#000" stroke-width="0.9"/>
<text x="557" y="365.6" font-size="6.8" font-weight="bold" text-anchor="end" stroke="#000" stroke-width="0.12">60</text>
<line x1="559.8" y1="338.4" x2="563.5" y2="338.4" stroke="#000" stroke-width="0.9"/>
<text x="557" y="340.8" font-size="6.8" font-weight="bold" text-anchor="end" stroke="#000" stroke-width="0.12">70</text>
<line x1="559.8" y1="313.6" x2="563.5" y2="313.6" stroke="#000" stroke-width="0.9"/>
<text x="557" y="316" font-size="6.8" font-weight="bold" text-anchor="end" stroke="#000" stroke-width="0.12">80</text>
<line x1="559.8" y1="405.8" x2="563.5" y2="405.8" stroke="#000" stroke-width="0.9"/>
<line x1="559.8" y1="396.4" x2="563.5" y2="396.4" stroke="#000" stroke-width="0.9"/>
<text x="557" y="417.6" font-size="6.8" font-weight="bold" text-anchor="end" stroke="#000" stroke-width="0.12">0</text>
<text x="557" y="408.2" font-size="6.8" font-weight="bold" text-anchor="end" stroke="#000" stroke-width="0.12">5</text>
<text x="557" y="398.8" font-size="6.8" font-weight="bold" text-anchor="end" stroke="#000" stroke-width="0.12">10</text>
<text transform="translate(542.1,368.8) rotate(-90)" x="0" y="0" font-size="8" text-anchor="middle" fill="#222" stroke="#222" stroke-width="0.22">PCNA<tspan font-size="5" dy="-2.6">+</tspan><tspan dy="2.6"> cells (%)</tspan></text>
<rect x="570.4" y="340" width="14.6" height="48.9" fill="#7f7f7f" stroke="#000" stroke-width="0.8"/>
<rect x="570.4" y="395.9" width="14.6" height="19.3" fill="#7f7f7f" stroke="#000" stroke-width="0.8"/>
<rect x="590" y="344.3" width="16.9" height="44.6" fill="#3e0757" stroke="#000" stroke-width="0.8"/>
<rect x="590" y="395.9" width="16.9" height="19.3" fill="#3e0757" stroke="#000" stroke-width="0.8"/>
<rect x="613.2" y="344.3" width="15.8" height="44.6" fill="#137a93" stroke="#000" stroke-width="0.8"/>
<rect x="613.2" y="395.9" width="15.8" height="19.3" fill="#137a93" stroke="#000" stroke-width="0.8"/>
<rect x="636.4" y="359.4" width="14.6" height="29.5" fill="#ff8000" stroke="#000" stroke-width="0.8"/>
<rect x="636.4" y="395.9" width="14.6" height="19.3" fill="#ff8000" stroke="#000" stroke-width="0.8"/>
<line x1="577.7" y1="335.4" x2="577.7" y2="344.6" stroke="#000" stroke-width="0.8"/>
<line x1="574.7" y1="335.4" x2="580.7" y2="335.4" stroke="#000" stroke-width="0.8"/>
<line x1="574.7" y1="344.6" x2="580.7" y2="344.6" stroke="#000" stroke-width="0.8"/>
<line x1="598.4" y1="342.6" x2="598.4" y2="346" stroke="#000" stroke-width="0.8"/>
<line x1="595.4" y1="342.6" x2="601.4" y2="342.6" stroke="#000" stroke-width="0.8"/>
<line x1="595.4" y1="346" x2="601.4" y2="346" stroke="#000" stroke-width="0.8"/>
<line x1="621.1" y1="342.8" x2="621.1" y2="345.8" stroke="#000" stroke-width="0.8"/>
<line x1="618.1" y1="342.8" x2="624.1" y2="342.8" stroke="#000" stroke-width="0.8"/>
<line x1="618.1" y1="345.8" x2="624.1" y2="345.8" stroke="#000" stroke-width="0.8"/>
<line x1="643.7" y1="353.1" x2="643.7" y2="365.7" stroke="#000" stroke-width="0.8"/>
<line x1="640.7" y1="353.1" x2="646.7" y2="353.1" stroke="#000" stroke-width="0.8"/>
<line x1="640.7" y1="365.7" x2="646.7" y2="365.7" stroke="#000" stroke-width="0.8"/>
<circle cx="572.4" cy="336" r="1.85" fill="#000"/>
<circle cx="583" cy="333" r="1.85" fill="#000"/>
<circle cx="583" cy="338.2" r="1.85" fill="#000"/>
<circle cx="577.4" cy="352.6" r="1.85" fill="#000"/>
<circle cx="594.3" cy="346.3" r="1.85" fill="#000"/>
<circle cx="599.3" cy="346.3" r="1.85" fill="#000"/>
<circle cx="605.1" cy="342.3" r="1.85" fill="#000"/>
<circle cx="605.1" cy="346.3" r="1.85" fill="#000"/>
<circle cx="616.2" cy="346.3" r="1.85" fill="#000"/>
<circle cx="622" cy="343.6" r="1.85" fill="#000"/>
<circle cx="627" cy="341" r="1.85" fill="#000"/>
<circle cx="627" cy="346.3" r="1.85" fill="#000"/>
<circle cx="643.9" cy="348.6" r="1.85" fill="#000"/>
<circle cx="643.4" cy="360" r="1.85" fill="#000"/>
<circle cx="643.4" cy="369.5" r="1.85" fill="#000"/>
<path d="M581.7,327.4 L581.7,324.2 L643.9,324.2 L643.9,327.4" stroke="#444" stroke-width="0.8" fill="none"/>
<path d="M625,335.2 L625,332.5 L643.9,332.5 L643.9,335.2" stroke="#444" stroke-width="0.8" fill="none"/>
<path d="M613.2,320.3 L613.2,322.9 M612.07,320.95 L614.33,322.25 M612.07,322.25 L614.33,320.95 " stroke="#000" stroke-width="0.8" fill="none"/>
<text x="634.6" y="332.2" font-size="6.5" text-anchor="middle" stroke="#000" stroke-width="0.12">≠</text>
<text x="561.7" y="427.9" font-size="8" textLength="25.9" lengthAdjust="spacingAndGlyphs" stroke="#000" stroke-width="0.12">Control</text>
<text x="591.1" y="427.9" font-size="8" textLength="16.1" lengthAdjust="spacingAndGlyphs" stroke="#000" stroke-width="0.12">TMZ</text>
<text x="613.8" y="427.9" font-size="8" textLength="15.2" lengthAdjust="spacingAndGlyphs" stroke="#000" stroke-width="0.12">TMZ</text>
<text x="641.1" y="427.9" font-size="8" textLength="14.7" lengthAdjust="spacingAndGlyphs" stroke="#000" stroke-width="0.12">TMZ</text>
<text x="610.3" y="438.4" font-size="8" textLength="21.7" lengthAdjust="spacingAndGlyphs" stroke="#000" stroke-width="0.12">SAHA</text>
<text x="633.6" y="438.4" font-size="8" textLength="27.6" lengthAdjust="spacingAndGlyphs" stroke="#000" stroke-width="0.12">DDI199</text>
<text transform="translate(2.5,451.4) scale(1.1,1)" font-size="19.5" font-weight="bold">G</text>
<line x1="36.2" y1="460.6" x2="36.2" y2="590.5" stroke="#555" stroke-width="1"/>
<line x1="35.7" y1="590" x2="200.8" y2="590" stroke="#555" stroke-width="1"/>
<text x="32.6" y="592.7" font-size="7.7" text-anchor="end" fill="#222" stroke="#222" stroke-width="0.12">0</text>
<line x1="36.2" y1="571.56" x2="40.2" y2="571.56" stroke="#555" stroke-width="0.9"/>
<text x="32.6" y="574.26" font-size="7.7" text-anchor="end" fill="#222" stroke="#222" stroke-width="0.12">200</text>
<line x1="36.2" y1="553.12" x2="40.2" y2="553.12" stroke="#555" stroke-width="0.9"/>
<text x="32.6" y="555.82" font-size="7.7" text-anchor="end" fill="#222" stroke="#222" stroke-width="0.12">400</text>
<line x1="36.2" y1="534.68" x2="40.2" y2="534.68" stroke="#555" stroke-width="0.9"/>
<text x="32.6" y="537.38" font-size="7.7" text-anchor="end" fill="#222" stroke="#222" stroke-width="0.12">600</text>
<line x1="36.2" y1="516.24" x2="40.2" y2="516.24" stroke="#555" stroke-width="0.9"/>
<text x="32.6" y="518.94" font-size="7.7" text-anchor="end" fill="#222" stroke="#222" stroke-width="0.12">800</text>
<line x1="36.2" y1="497.8" x2="40.2" y2="497.8" stroke="#555" stroke-width="0.9"/>
<text x="32.6" y="500.5" font-size="7.7" text-anchor="end" fill="#222" stroke="#222" stroke-width="0.12">1000</text>
<line x1="36.2" y1="479.36" x2="40.2" y2="479.36" stroke="#555" stroke-width="0.9"/>
<text x="32.6" y="482.06" font-size="7.7" text-anchor="end" fill="#222" stroke="#222" stroke-width="0.12">1200</text>
<line x1="36.2" y1="460.92" x2="40.2" y2="460.92" stroke="#555" stroke-width="0.9"/>
<text x="32.6" y="463.62" font-size="7.7" text-anchor="end" fill="#222" stroke="#222" stroke-width="0.12">1400</text>
<line x1="77.69" y1="590" x2="77.69" y2="587" stroke="#555" stroke-width="0.9"/>
<line x1="118.98" y1="590" x2="118.98" y2="587" stroke="#555" stroke-width="0.9"/>
<line x1="160.27" y1="590" x2="160.27" y2="587" stroke="#555" stroke-width="0.9"/>
<line x1="201.56" y1="590" x2="201.56" y2="587" stroke="#555" stroke-width="0.9"/>
<text x="36" y="599.1" font-size="7.9" text-anchor="middle" fill="#222" stroke="#222" stroke-width="0.12">0</text>
<text x="75.1" y="599.1" font-size="7.9" text-anchor="middle" fill="#222" stroke="#222" stroke-width="0.12">25</text>
<text x="117.2" y="599.1" font-size="7.9" text-anchor="middle" fill="#222" stroke="#222" stroke-width="0.12">50</text>
<text x="158.7" y="599.1" font-size="7.9" text-anchor="middle" fill="#222" stroke="#222" stroke-width="0.12">75</text>
<text x="197.3" y="599.1" font-size="7.9" text-anchor="middle" fill="#222" stroke="#222" stroke-width="0.12">100</text>
<text x="121.7" y="613.2" font-size="7.9" textLength="42.1" lengthAdjust="spacingAndGlyphs" fill="#222" stroke="#222" stroke-width="0.12">Time (days)</text>
<text transform="translate(7.9,527) rotate(-90)" x="0" y="0" font-size="8.3" text-anchor="middle" fill="#222" stroke="#222" stroke-width="0.22">Tumor volume (mm<tspan font-size="5.3" dy="-2.7">3</tspan>)</text>
<path d="M43.01,588.62 L46.31,588.52 L52.92,588.34 L56.22,588.25 L59.52,588.16 L64.48,587.97 L67.78,587.79 L71.08,587.51 L76.04,587.23 L82.64,587.23 L87.6,585.76 L90.9,584.93 L94.21,583.09 L99.16,579.03 L102.46,572.57 L105.77,569.72 L110.72,556.25 L114.03,551.64 L117.33,549.8 L122.28,545.28 L125.59,545.84 L128.89,543.72 L133.84,542.61 L137.15,537.26 L140.45,532.1 L143.75,532.93 L148.71,532.93 L152.01,533.76 L155.32,535.05 L158.62,536.16 L161.92,536.62 L168.53,536.89 L170.18,536.89 L175.13,536.89 L180.09,536.89 L181.74,536.89 L185.04,536.89 L190,536.89 L193.3,536.89 L196.61,536.89 L201.56,537.26" stroke="#ff7f14" stroke-width="1" fill="none"/>
<line x1="43.01" y1="588.34" x2="43.01" y2="588.89" stroke="#ff7f14" stroke-width="0.7"/>
<line x1="41.81" y1="588.34" x2="44.21" y2="588.34" stroke="#ff7f14" stroke-width="0.7"/>
<line x1="41.81" y1="588.89" x2="44.21" y2="588.89" stroke="#ff7f14" stroke-width="0.7"/>
<line x1="46.31" y1="588.25" x2="46.31" y2="588.8" stroke="#ff7f14" stroke-width="0.7"/>
<line x1="45.11" y1="588.25" x2="47.51" y2="588.25" stroke="#ff7f14" stroke-width="0.7"/>
<line x1="45.11" y1="588.8" x2="47.51" y2="588.8" stroke="#ff7f14" stroke-width="0.7"/>
<line x1="52.92" y1="588.06" x2="52.92" y2="588.62" stroke="#ff7f14" stroke-width="0.7"/>
<line x1="51.72" y1="588.06" x2="54.12" y2="588.06" stroke="#ff7f14" stroke-width="0.7"/>
<line x1="51.72" y1="588.62" x2="54.12" y2="588.62" stroke="#ff7f14" stroke-width="0.7"/>
<line x1="56.22" y1="587.97" x2="56.22" y2="588.52" stroke="#ff7f14" stroke-width="0.7"/>
<line x1="55.02" y1="587.97" x2="57.42" y2="587.97" stroke="#ff7f14" stroke-width="0.7"/>
<line x1="55.02" y1="588.52" x2="57.42" y2="588.52" stroke="#ff7f14" stroke-width="0.7"/>
<line x1="59.52" y1="587.88" x2="59.52" y2="588.43" stroke="#ff7f14" stroke-width="0.7"/>
<line x1="58.32" y1="587.88" x2="60.72" y2="587.88" stroke="#ff7f14" stroke-width="0.7"/>
<line x1="58.32" y1="588.43" x2="60.72" y2="588.43" stroke="#ff7f14" stroke-width="0.7"/>
<line x1="64.48" y1="587.69" x2="64.48" y2="588.25" stroke="#ff7f14" stroke-width="0.7"/>
<line x1="63.28" y1="587.69" x2="65.68" y2="587.69" stroke="#ff7f14" stroke-width="0.7"/>
<line x1="63.28" y1="588.25" x2="65.68" y2="588.25" stroke="#ff7f14" stroke-width="0.7"/>
<line x1="67.78" y1="587.42" x2="67.78" y2="588.16" stroke="#ff7f14" stroke-width="0.7"/>
<line x1="66.58" y1="587.42" x2="68.98" y2="587.42" stroke="#ff7f14" stroke-width="0.7"/>
<line x1="66.58" y1="588.16" x2="68.98" y2="588.16" stroke="#ff7f14" stroke-width="0.7"/>
<line x1="71.08" y1="587.05" x2="71.08" y2="587.97" stroke="#ff7f14" stroke-width="0.7"/>
<line x1="69.88" y1="587.05" x2="72.28" y2="587.05" stroke="#ff7f14" stroke-width="0.7"/>
<line x1="69.88" y1="587.97" x2="72.28" y2="587.97" stroke="#ff7f14" stroke-width="0.7"/>
<line x1="76.04" y1="586.68" x2="76.04" y2="587.79" stroke="#ff7f14" stroke-width="0.7"/>
<line x1="74.84" y1="586.68" x2="77.24" y2="586.68" stroke="#ff7f14" stroke-width="0.7"/>
<line x1="74.84" y1="587.79" x2="77.24" y2="587.79" stroke="#ff7f14" stroke-width="0.7"/>
<line x1="82.64" y1="586.5" x2="82.64" y2="587.97" stroke="#ff7f14" stroke-width="0.7"/>
<line x1="81.44" y1="586.5" x2="83.84" y2="586.5" stroke="#ff7f14" stroke-width="0.7"/>
<line x1="81.44" y1="587.97" x2="83.84" y2="587.97" stroke="#ff7f14" stroke-width="0.7"/>
<line x1="87.6" y1="584.84" x2="87.6" y2="586.68" stroke="#ff7f14" stroke-width="0.7"/>
<line x1="86.4" y1="584.84" x2="88.8" y2="584.84" stroke="#ff7f14" stroke-width="0.7"/>
<line x1="86.4" y1="586.68" x2="88.8" y2="586.68" stroke="#ff7f14" stroke-width="0.7"/>
<line x1="90.9" y1="583.55" x2="90.9" y2="586.31" stroke="#ff7f14" stroke-width="0.7"/>
<line x1="89.7" y1="583.55" x2="92.1" y2="583.55" stroke="#ff7f14" stroke-width="0.7"/>
<line x1="89.7" y1="586.31" x2="92.1" y2="586.31" stroke="#ff7f14" stroke-width="0.7"/>
<line x1="94.21" y1="580.78" x2="94.21" y2="585.39" stroke="#ff7f14" stroke-width="0.7"/>
<line x1="93.01" y1="580.78" x2="95.41" y2="580.78" stroke="#ff7f14" stroke-width="0.7"/>
<line x1="93.01" y1="585.39" x2="95.41" y2="585.39" stroke="#ff7f14" stroke-width="0.7"/>
<line x1="99.16" y1="574.88" x2="99.16" y2="583.18" stroke="#ff7f14" stroke-width="0.7"/>
<line x1="97.96" y1="574.88" x2="100.36" y2="574.88" stroke="#ff7f14" stroke-width="0.7"/>
<line x1="97.96" y1="583.18" x2="100.36" y2="583.18" stroke="#ff7f14" stroke-width="0.7"/>
<line x1="102.46" y1="567.04" x2="102.46" y2="578.11" stroke="#ff7f14" stroke-width="0.7"/>
<line x1="101.26" y1="567.04" x2="103.66" y2="567.04" stroke="#ff7f14" stroke-width="0.7"/>
<line x1="101.26" y1="578.11" x2="103.66" y2="578.11" stroke="#ff7f14" stroke-width="0.7"/>
<line x1="105.77" y1="560.5" x2="105.77" y2="578.94" stroke="#ff7f14" stroke-width="0.7"/>
<line x1="104.57" y1="560.5" x2="106.97" y2="560.5" stroke="#ff7f14" stroke-width="0.7"/>
<line x1="104.57" y1="578.94" x2="106.97" y2="578.94" stroke="#ff7f14" stroke-width="0.7"/>
<line x1="110.72" y1="539.38" x2="110.72" y2="573.13" stroke="#ff7f14" stroke-width="0.7"/>
<line x1="109.52" y1="539.38" x2="111.92" y2="539.38" stroke="#ff7f14" stroke-width="0.7"/>
<line x1="109.52" y1="573.13" x2="111.92" y2="573.13" stroke="#ff7f14" stroke-width="0.7"/>
<line x1="114.03" y1="533.2" x2="114.03" y2="570.08" stroke="#ff7f14" stroke-width="0.7"/>
<line x1="112.83" y1="533.2" x2="115.23" y2="533.2" stroke="#ff7f14" stroke-width="0.7"/>
<line x1="112.83" y1="570.08" x2="115.23" y2="570.08" stroke="#ff7f14" stroke-width="0.7"/>
<line x1="117.33" y1="530.53" x2="117.33" y2="569.07" stroke="#ff7f14" stroke-width="0.7"/>
<line x1="116.13" y1="530.53" x2="118.53" y2="530.53" stroke="#ff7f14" stroke-width="0.7"/>
<line x1="116.13" y1="569.07" x2="118.53" y2="569.07" stroke="#ff7f14" stroke-width="0.7"/>
<line x1="122.28" y1="527.21" x2="122.28" y2="563.35" stroke="#ff7f14" stroke-width="0.7"/>
<line x1="121.08" y1="527.21" x2="123.48" y2="527.21" stroke="#ff7f14" stroke-width="0.7"/>
<line x1="121.08" y1="563.35" x2="123.48" y2="563.35" stroke="#ff7f14" stroke-width="0.7"/>
<line x1="125.59" y1="527.76" x2="125.59" y2="563.91" stroke="#ff7f14" stroke-width="0.7"/>
<line x1="124.39" y1="527.76" x2="126.79" y2="527.76" stroke="#ff7f14" stroke-width="0.7"/>
<line x1="124.39" y1="563.91" x2="126.79" y2="563.91" stroke="#ff7f14" stroke-width="0.7"/>
<line x1="128.89" y1="525.64" x2="128.89" y2="561.79" stroke="#ff7f14" stroke-width="0.7"/>
<line x1="127.69" y1="525.64" x2="130.09" y2="525.64" stroke="#ff7f14" stroke-width="0.7"/>
<line x1="127.69" y1="561.79" x2="130.09" y2="561.79" stroke="#ff7f14" stroke-width="0.7"/>
<line x1="133.84" y1="523.8" x2="133.84" y2="561.42" stroke="#ff7f14" stroke-width="0.7"/>
<line x1="132.64" y1="523.8" x2="135.04" y2="523.8" stroke="#ff7f14" stroke-width="0.7"/>
<line x1="132.64" y1="561.42" x2="135.04" y2="561.42" stroke="#ff7f14" stroke-width="0.7"/>
<line x1="137.15" y1="517.25" x2="137.15" y2="557.27" stroke="#ff7f14" stroke-width="0.7"/>
<line x1="135.95" y1="517.25" x2="138.35" y2="517.25" stroke="#ff7f14" stroke-width="0.7"/>
<line x1="135.95" y1="557.27" x2="138.35" y2="557.27" stroke="#ff7f14" stroke-width="0.7"/>
<line x1="140.45" y1="510.06" x2="140.45" y2="554.13" stroke="#ff7f14" stroke-width="0.7"/>
<line x1="139.25" y1="510.06" x2="141.65" y2="510.06" stroke="#ff7f14" stroke-width="0.7"/>
<line x1="139.25" y1="554.13" x2="141.65" y2="554.13" stroke="#ff7f14" stroke-width="0.7"/>
<line x1="143.75" y1="510.89" x2="143.75" y2="554.96" stroke="#ff7f14" stroke-width="0.7"/>
<line x1="142.55" y1="510.89" x2="144.95" y2="510.89" stroke="#ff7f14" stroke-width="0.7"/>
<line x1="142.55" y1="554.96" x2="144.95" y2="554.96" stroke="#ff7f14" stroke-width="0.7"/>
<line x1="148.71" y1="510.89" x2="148.71" y2="554.96" stroke="#ff7f14" stroke-width="0.7"/>
<line x1="147.51" y1="510.89" x2="149.91" y2="510.89" stroke="#ff7f14" stroke-width="0.7"/>
<line x1="147.51" y1="554.96" x2="149.91" y2="554.96" stroke="#ff7f14" stroke-width="0.7"/>
<line x1="152.01" y1="511.26" x2="152.01" y2="556.25" stroke="#ff7f14" stroke-width="0.7"/>
<line x1="150.81" y1="511.26" x2="153.21" y2="511.26" stroke="#ff7f14" stroke-width="0.7"/>
<line x1="150.81" y1="556.25" x2="153.21" y2="556.25" stroke="#ff7f14" stroke-width="0.7"/>
<line x1="155.32" y1="512.28" x2="155.32" y2="557.82" stroke="#ff7f14" stroke-width="0.7"/>
<line x1="154.12" y1="512.28" x2="156.52" y2="512.28" stroke="#ff7f14" stroke-width="0.7"/>
<line x1="154.12" y1="557.82" x2="156.52" y2="557.82" stroke="#ff7f14" stroke-width="0.7"/>
<line x1="158.62" y1="512.64" x2="158.62" y2="559.67" stroke="#ff7f14" stroke-width="0.7"/>
<line x1="157.42" y1="512.64" x2="159.82" y2="512.64" stroke="#ff7f14" stroke-width="0.7"/>
<line x1="157.42" y1="559.67" x2="159.82" y2="559.67" stroke="#ff7f14" stroke-width="0.7"/>
<line x1="161.92" y1="512.92" x2="161.92" y2="560.31" stroke="#ff7f14" stroke-width="0.7"/>
<line x1="160.72" y1="512.92" x2="163.12" y2="512.92" stroke="#ff7f14" stroke-width="0.7"/>
<line x1="160.72" y1="560.31" x2="163.12" y2="560.31" stroke="#ff7f14" stroke-width="0.7"/>
<line x1="168.53" y1="513.2" x2="168.53" y2="560.59" stroke="#ff7f14" stroke-width="0.7"/>
<line x1="167.33" y1="513.2" x2="169.73" y2="513.2" stroke="#ff7f14" stroke-width="0.7"/>
<line x1="167.33" y1="560.59" x2="169.73" y2="560.59" stroke="#ff7f14" stroke-width="0.7"/>
<line x1="170.18" y1="513.2" x2="170.18" y2="560.59" stroke="#ff7f14" stroke-width="0.7"/>
<line x1="168.98" y1="513.2" x2="171.38" y2="513.2" stroke="#ff7f14" stroke-width="0.7"/>
<line x1="168.98" y1="560.59" x2="171.38" y2="560.59" stroke="#ff7f14" stroke-width="0.7"/>
<line x1="175.13" y1="513.2" x2="175.13" y2="560.59" stroke="#ff7f14" stroke-width="0.7"/>
<line x1="173.93" y1="513.2" x2="176.33" y2="513.2" stroke="#ff7f14" stroke-width="0.7"/>
<line x1="173.93" y1="560.59" x2="176.33" y2="560.59" stroke="#ff7f14" stroke-width="0.7"/>
<line x1="180.09" y1="513.2" x2="180.09" y2="560.59" stroke="#ff7f14" stroke-width="0.7"/>
<line x1="178.89" y1="513.2" x2="181.29" y2="513.2" stroke="#ff7f14" stroke-width="0.7"/>
<line x1="178.89" y1="560.59" x2="181.29" y2="560.59" stroke="#ff7f14" stroke-width="0.7"/>
<line x1="181.74" y1="513.2" x2="181.74" y2="560.59" stroke="#ff7f14" stroke-width="0.7"/>
<line x1="180.54" y1="513.2" x2="182.94" y2="513.2" stroke="#ff7f14" stroke-width="0.7"/>
<line x1="180.54" y1="560.59" x2="182.94" y2="560.59" stroke="#ff7f14" stroke-width="0.7"/>
<line x1="185.04" y1="513.2" x2="185.04" y2="560.59" stroke="#ff7f14" stroke-width="0.7"/>
<line x1="183.84" y1="513.2" x2="186.24" y2="513.2" stroke="#ff7f14" stroke-width="0.7"/>
<line x1="183.84" y1="560.59" x2="186.24" y2="560.59" stroke="#ff7f14" stroke-width="0.7"/>
<line x1="190" y1="513.2" x2="190" y2="560.59" stroke="#ff7f14" stroke-width="0.7"/>
<line x1="188.8" y1="513.2" x2="191.2" y2="513.2" stroke="#ff7f14" stroke-width="0.7"/>
<line x1="188.8" y1="560.59" x2="191.2" y2="560.59" stroke="#ff7f14" stroke-width="0.7"/>
<line x1="193.3" y1="513.2" x2="193.3" y2="560.59" stroke="#ff7f14" stroke-width="0.7"/>
<line x1="192.1" y1="513.2" x2="194.5" y2="513.2" stroke="#ff7f14" stroke-width="0.7"/>
<line x1="192.1" y1="560.59" x2="194.5" y2="560.59" stroke="#ff7f14" stroke-width="0.7"/>
<line x1="196.61" y1="513.2" x2="196.61" y2="560.59" stroke="#ff7f14" stroke-width="0.7"/>
<line x1="195.41" y1="513.2" x2="197.81" y2="513.2" stroke="#ff7f14" stroke-width="0.7"/>
<line x1="195.41" y1="560.59" x2="197.81" y2="560.59" stroke="#ff7f14" stroke-width="0.7"/>
<path d="M41.73,587.6 L44.28,587.6 L43.01,589.89 Z" fill="#ff7f14"/>
<path d="M45.03,587.5 L47.58,587.5 L46.31,589.8 Z" fill="#ff7f14"/>
<path d="M51.64,587.32 L54.19,587.32 L52.92,589.62 Z" fill="#ff7f14"/>
<path d="M54.94,587.23 L57.49,587.23 L56.22,589.52 Z" fill="#ff7f14"/>
<path d="M58.25,587.14 L60.8,587.14 L59.52,589.43 Z" fill="#ff7f14"/>
<path d="M63.2,586.95 L65.75,586.95 L64.48,589.25 Z" fill="#ff7f14"/>
<path d="M66.51,586.77 L69.06,586.77 L67.78,589.06 Z" fill="#ff7f14"/>
<path d="M69.81,586.49 L72.36,586.49 L71.08,588.79 Z" fill="#ff7f14"/>
<path d="M74.76,586.21 L77.31,586.21 L76.04,588.51 Z" fill="#ff7f14"/>
<path d="M81.37,586.21 L83.92,586.21 L82.64,588.51 Z" fill="#ff7f14"/>
<path d="M86.32,584.74 L88.87,584.74 L87.6,587.03 Z" fill="#ff7f14"/>
<path d="M89.63,583.91 L92.18,583.91 L90.9,586.2 Z" fill="#ff7f14"/>
<path d="M92.93,582.07 L95.48,582.07 L94.21,584.36 Z" fill="#ff7f14"/>
<path d="M97.89,578.01 L100.44,578.01 L99.16,580.3 Z" fill="#ff7f14"/>
<path d="M101.19,571.55 L103.74,571.55 L102.46,573.85 Z" fill="#ff7f14"/>
<path d="M104.49,568.7 L107.04,568.7 L105.77,570.99 Z" fill="#ff7f14"/>
<path d="M109.45,555.23 L112,555.23 L110.72,557.53 Z" fill="#ff7f14"/>
<path d="M112.75,550.62 L115.3,550.62 L114.03,552.92 Z" fill="#ff7f14"/>
<path d="M116.05,548.78 L118.6,548.78 L117.33,551.08 Z" fill="#ff7f14"/>
<path d="M121.01,544.26 L123.56,544.26 L122.28,546.56 Z" fill="#ff7f14"/>
<path d="M124.31,544.82 L126.86,544.82 L125.59,547.11 Z" fill="#ff7f14"/>
<path d="M127.61,542.7 L130.16,542.7 L128.89,544.99 Z" fill="#ff7f14"/>
<path d="M132.57,541.59 L135.12,541.59 L133.84,543.88 Z" fill="#ff7f14"/>
<path d="M135.87,536.24 L138.42,536.24 L137.15,538.54 Z" fill="#ff7f14"/>
<path d="M139.18,531.08 L141.73,531.08 L140.45,533.37 Z" fill="#ff7f14"/>
<path d="M142.48,531.91 L145.03,531.91 L143.75,534.2 Z" fill="#ff7f14"/>
<path d="M147.43,531.91 L149.98,531.91 L148.71,534.2 Z" fill="#ff7f14"/>
<path d="M150.74,532.74 L153.29,532.74 L152.01,535.03 Z" fill="#ff7f14"/>
<path d="M154.04,534.03 L156.59,534.03 L155.32,536.32 Z" fill="#ff7f14"/>
<path d="M157.34,535.14 L159.89,535.14 L158.62,537.43 Z" fill="#ff7f14"/>
<path d="M160.65,535.6 L163.2,535.6 L161.92,537.89 Z" fill="#ff7f14"/>
<path d="M167.25,535.87 L169.8,535.87 L168.53,538.17 Z" fill="#ff7f14"/>
<path d="M168.9,535.87 L171.45,535.87 L170.18,538.17 Z" fill="#ff7f14"/>
<path d="M173.86,535.87 L176.41,535.87 L175.13,538.17 Z" fill="#ff7f14"/>
<path d="M178.81,535.87 L181.36,535.87 L180.09,538.17 Z" fill="#ff7f14"/>
<path d="M180.47,535.87 L183.02,535.87 L181.74,538.17 Z" fill="#ff7f14"/>
<path d="M183.77,535.87 L186.32,535.87 L185.04,538.17 Z" fill="#ff7f14"/>
<path d="M188.72,535.87 L191.27,535.87 L190,538.17 Z" fill="#ff7f14"/>
<path d="M192.03,535.87 L194.58,535.87 L193.3,538.17 Z" fill="#ff7f14"/>
<path d="M195.33,535.87 L197.88,535.87 L196.61,538.17 Z" fill="#ff7f14"/>
<path d="M200.28,536.24 L202.84,536.24 L201.56,538.54 Z" fill="#ff7f14"/>
<path d="M43.01,587.23 L46.31,587.88 L52.92,587.7 L56.22,587.51 L59.52,587.23 L64.48,586.87 L67.78,586.31 L71.08,586.13 L76.04,585.39 L79.34,583.91 L82.64,582.62 L87.6,578.94 L90.9,569.25 L94.21,560.5 L99.16,538.37 L102.46,525.46 L105.77,514.4 L110.72,507.02 L114.03,501.49 L117.33,497.8 L122.28,492.27 L125.59,490.42 L128.89,488.58 L133.84,487.66" stroke="#2b9bb0" stroke-width="1" fill="none"/>
<line x1="43.01" y1="586.87" x2="43.01" y2="587.6" stroke="#2b9bb0" stroke-width="0.7"/>
<line x1="41.81" y1="586.87" x2="44.21" y2="586.87" stroke="#2b9bb0" stroke-width="0.7"/>
<line x1="41.81" y1="587.6" x2="44.21" y2="587.6" stroke="#2b9bb0" stroke-width="0.7"/>
<line x1="46.31" y1="587.51" x2="46.31" y2="588.25" stroke="#2b9bb0" stroke-width="0.7"/>
<line x1="45.11" y1="587.51" x2="47.51" y2="587.51" stroke="#2b9bb0" stroke-width="0.7"/>
<line x1="45.11" y1="588.25" x2="47.51" y2="588.25" stroke="#2b9bb0" stroke-width="0.7"/>
<line x1="52.92" y1="587.33" x2="52.92" y2="588.06" stroke="#2b9bb0" stroke-width="0.7"/>
<line x1="51.72" y1="587.33" x2="54.12" y2="587.33" stroke="#2b9bb0" stroke-width="0.7"/>
<line x1="51.72" y1="588.06" x2="54.12" y2="588.06" stroke="#2b9bb0" stroke-width="0.7"/>
<line x1="56.22" y1="587.14" x2="56.22" y2="587.88" stroke="#2b9bb0" stroke-width="0.7"/>
<line x1="55.02" y1="587.14" x2="57.42" y2="587.14" stroke="#2b9bb0" stroke-width="0.7"/>
<line x1="55.02" y1="587.88" x2="57.42" y2="587.88" stroke="#2b9bb0" stroke-width="0.7"/>
<line x1="59.52" y1="586.87" x2="59.52" y2="587.6" stroke="#2b9bb0" stroke-width="0.7"/>
<line x1="58.32" y1="586.87" x2="60.72" y2="586.87" stroke="#2b9bb0" stroke-width="0.7"/>
<line x1="58.32" y1="587.6" x2="60.72" y2="587.6" stroke="#2b9bb0" stroke-width="0.7"/>
<line x1="64.48" y1="586.4" x2="64.48" y2="587.33" stroke="#2b9bb0" stroke-width="0.7"/>
<line x1="63.28" y1="586.4" x2="65.68" y2="586.4" stroke="#2b9bb0" stroke-width="0.7"/>
<line x1="63.28" y1="587.33" x2="65.68" y2="587.33" stroke="#2b9bb0" stroke-width="0.7"/>
<line x1="67.78" y1="585.76" x2="67.78" y2="586.87" stroke="#2b9bb0" stroke-width="0.7"/>
<line x1="66.58" y1="585.76" x2="68.98" y2="585.76" stroke="#2b9bb0" stroke-width="0.7"/>
<line x1="66.58" y1="586.87" x2="68.98" y2="586.87" stroke="#2b9bb0" stroke-width="0.7"/>
<line x1="71.08" y1="585.57" x2="71.08" y2="586.68" stroke="#2b9bb0" stroke-width="0.7"/>
<line x1="69.88" y1="585.57" x2="72.28" y2="585.57" stroke="#2b9bb0" stroke-width="0.7"/>
<line x1="69.88" y1="586.68" x2="72.28" y2="586.68" stroke="#2b9bb0" stroke-width="0.7"/>
<line x1="76.04" y1="584.65" x2="76.04" y2="586.13" stroke="#2b9bb0" stroke-width="0.7"/>
<line x1="74.84" y1="584.65" x2="77.24" y2="584.65" stroke="#2b9bb0" stroke-width="0.7"/>
<line x1="74.84" y1="586.13" x2="77.24" y2="586.13" stroke="#2b9bb0" stroke-width="0.7"/>
<line x1="79.34" y1="582.99" x2="79.34" y2="584.84" stroke="#2b9bb0" stroke-width="0.7"/>
<line x1="78.14" y1="582.99" x2="80.54" y2="582.99" stroke="#2b9bb0" stroke-width="0.7"/>
<line x1="78.14" y1="584.84" x2="80.54" y2="584.84" stroke="#2b9bb0" stroke-width="0.7"/>
<line x1="82.64" y1="581.52" x2="82.64" y2="583.73" stroke="#2b9bb0" stroke-width="0.7"/>
<line x1="81.44" y1="581.52" x2="83.84" y2="581.52" stroke="#2b9bb0" stroke-width="0.7"/>
<line x1="81.44" y1="583.73" x2="83.84" y2="583.73" stroke="#2b9bb0" stroke-width="0.7"/>
<line x1="87.6" y1="577.09" x2="87.6" y2="580.78" stroke="#2b9bb0" stroke-width="0.7"/>
<line x1="86.4" y1="577.09" x2="88.8" y2="577.09" stroke="#2b9bb0" stroke-width="0.7"/>
<line x1="86.4" y1="580.78" x2="88.8" y2="580.78" stroke="#2b9bb0" stroke-width="0.7"/>
<line x1="90.9" y1="565.57" x2="90.9" y2="572.94" stroke="#2b9bb0" stroke-width="0.7"/>
<line x1="89.7" y1="565.57" x2="92.1" y2="565.57" stroke="#2b9bb0" stroke-width="0.7"/>
<line x1="89.7" y1="572.94" x2="92.1" y2="572.94" stroke="#2b9bb0" stroke-width="0.7"/>
<line x1="94.21" y1="552.2" x2="94.21" y2="568.79" stroke="#2b9bb0" stroke-width="0.7"/>
<line x1="93.01" y1="552.2" x2="95.41" y2="552.2" stroke="#2b9bb0" stroke-width="0.7"/>
<line x1="93.01" y1="568.79" x2="95.41" y2="568.79" stroke="#2b9bb0" stroke-width="0.7"/>
<line x1="99.16" y1="523.62" x2="99.16" y2="553.12" stroke="#2b9bb0" stroke-width="0.7"/>
<line x1="97.96" y1="523.62" x2="100.36" y2="523.62" stroke="#2b9bb0" stroke-width="0.7"/>
<line x1="97.96" y1="553.12" x2="100.36" y2="553.12" stroke="#2b9bb0" stroke-width="0.7"/>
<line x1="102.46" y1="507.02" x2="102.46" y2="543.9" stroke="#2b9bb0" stroke-width="0.7"/>
<line x1="101.26" y1="507.02" x2="103.66" y2="507.02" stroke="#2b9bb0" stroke-width="0.7"/>
<line x1="101.26" y1="543.9" x2="103.66" y2="543.9" stroke="#2b9bb0" stroke-width="0.7"/>
<line x1="105.77" y1="495.96" x2="105.77" y2="532.84" stroke="#2b9bb0" stroke-width="0.7"/>
<line x1="104.57" y1="495.96" x2="106.97" y2="495.96" stroke="#2b9bb0" stroke-width="0.7"/>
<line x1="104.57" y1="532.84" x2="106.97" y2="532.84" stroke="#2b9bb0" stroke-width="0.7"/>
<line x1="110.72" y1="489.5" x2="110.72" y2="524.54" stroke="#2b9bb0" stroke-width="0.7"/>
<line x1="109.52" y1="489.5" x2="111.92" y2="489.5" stroke="#2b9bb0" stroke-width="0.7"/>
<line x1="109.52" y1="524.54" x2="111.92" y2="524.54" stroke="#2b9bb0" stroke-width="0.7"/>
<line x1="114.03" y1="486.74" x2="114.03" y2="516.24" stroke="#2b9bb0" stroke-width="0.7"/>
<line x1="112.83" y1="486.74" x2="115.23" y2="486.74" stroke="#2b9bb0" stroke-width="0.7"/>
<line x1="112.83" y1="516.24" x2="115.23" y2="516.24" stroke="#2b9bb0" stroke-width="0.7"/>
<line x1="117.33" y1="484.89" x2="117.33" y2="510.71" stroke="#2b9bb0" stroke-width="0.7"/>
<line x1="116.13" y1="484.89" x2="118.53" y2="484.89" stroke="#2b9bb0" stroke-width="0.7"/>
<line x1="116.13" y1="510.71" x2="118.53" y2="510.71" stroke="#2b9bb0" stroke-width="0.7"/>
<line x1="122.28" y1="483.05" x2="122.28" y2="501.49" stroke="#2b9bb0" stroke-width="0.7"/>
<line x1="121.08" y1="483.05" x2="123.48" y2="483.05" stroke="#2b9bb0" stroke-width="0.7"/>
<line x1="121.08" y1="501.49" x2="123.48" y2="501.49" stroke="#2b9bb0" stroke-width="0.7"/>
<line x1="125.59" y1="483.05" x2="125.59" y2="497.8" stroke="#2b9bb0" stroke-width="0.7"/>
<line x1="124.39" y1="483.05" x2="126.79" y2="483.05" stroke="#2b9bb0" stroke-width="0.7"/>
<line x1="124.39" y1="497.8" x2="126.79" y2="497.8" stroke="#2b9bb0" stroke-width="0.7"/>
<line x1="128.89" y1="483.05" x2="128.89" y2="494.11" stroke="#2b9bb0" stroke-width="0.7"/>
<line x1="127.69" y1="483.05" x2="130.09" y2="483.05" stroke="#2b9bb0" stroke-width="0.7"/>
<line x1="127.69" y1="494.11" x2="130.09" y2="494.11" stroke="#2b9bb0" stroke-width="0.7"/>
<line x1="133.84" y1="482.13" x2="133.84" y2="493.19" stroke="#2b9bb0" stroke-width="0.7"/>
<line x1="132.64" y1="482.13" x2="135.04" y2="482.13" stroke="#2b9bb0" stroke-width="0.7"/>
<line x1="132.64" y1="493.19" x2="135.04" y2="493.19" stroke="#2b9bb0" stroke-width="0.7"/>
<rect x="41.9" y="586.13" width="2.21" height="2.21" fill="#17798e"/>
<rect x="45.2" y="586.77" width="2.21" height="2.21" fill="#17798e"/>
<rect x="51.81" y="586.59" width="2.21" height="2.21" fill="#17798e"/>
<rect x="55.11" y="586.41" width="2.21" height="2.21" fill="#17798e"/>
<rect x="58.42" y="586.13" width="2.21" height="2.21" fill="#17798e"/>
<rect x="63.37" y="585.76" width="2.21" height="2.21" fill="#17798e"/>
<rect x="66.68" y="585.21" width="2.21" height="2.21" fill="#17798e"/>
<rect x="69.98" y="585.02" width="2.21" height="2.21" fill="#17798e"/>
<rect x="74.93" y="584.28" width="2.21" height="2.21" fill="#17798e"/>
<rect x="78.24" y="582.81" width="2.21" height="2.21" fill="#17798e"/>
<rect x="81.54" y="581.52" width="2.21" height="2.21" fill="#17798e"/>
<rect x="86.49" y="577.83" width="2.21" height="2.21" fill="#17798e"/>
<rect x="89.8" y="568.15" width="2.21" height="2.21" fill="#17798e"/>
<rect x="93.1" y="559.39" width="2.21" height="2.21" fill="#17798e"/>
<rect x="98.06" y="537.26" width="2.21" height="2.21" fill="#17798e"/>
<rect x="101.36" y="524.36" width="2.21" height="2.21" fill="#17798e"/>
<rect x="104.66" y="513.29" width="2.21" height="2.21" fill="#17798e"/>
<rect x="109.62" y="505.91" width="2.21" height="2.21" fill="#17798e"/>
<rect x="112.92" y="500.38" width="2.21" height="2.21" fill="#17798e"/>
<rect x="116.22" y="496.69" width="2.21" height="2.21" fill="#17798e"/>
<rect x="121.18" y="491.16" width="2.21" height="2.21" fill="#17798e"/>
<rect x="124.48" y="489.32" width="2.21" height="2.21" fill="#17798e"/>
<rect x="127.78" y="487.47" width="2.21" height="2.21" fill="#17798e"/>
<rect x="132.74" y="486.55" width="2.21" height="2.21" fill="#17798e"/>
<path d="M43.01,588.16 L46.31,587.97 L52.92,587.79 L56.22,587.6 L59.52,587.42 L64.48,587.05 L67.78,586.5 L71.08,586.31 L76.04,585.76 L79.34,584.28 L82.64,583.09 L87.6,579.58 L90.9,570.27 L94.21,563.26 L99.16,549.43 L102.46,532.84 L105.77,519.93 L110.72,509.51 L114.03,505.18 L117.33,501.49 L122.28,494.11 L125.59,490.88 L128.89,489.5 L133.84,487.66" stroke="#8a1f98" stroke-width="1" fill="none"/>
<line x1="43.01" y1="587.79" x2="43.01" y2="588.52" stroke="#8a1f98" stroke-width="0.7"/>
<line x1="41.81" y1="587.79" x2="44.21" y2="587.79" stroke="#8a1f98" stroke-width="0.7"/>
<line x1="41.81" y1="588.52" x2="44.21" y2="588.52" stroke="#8a1f98" stroke-width="0.7"/>
<line x1="46.31" y1="587.6" x2="46.31" y2="588.34" stroke="#8a1f98" stroke-width="0.7"/>
<line x1="45.11" y1="587.6" x2="47.51" y2="587.6" stroke="#8a1f98" stroke-width="0.7"/>
<line x1="45.11" y1="588.34" x2="47.51" y2="588.34" stroke="#8a1f98" stroke-width="0.7"/>
<line x1="52.92" y1="587.42" x2="52.92" y2="588.16" stroke="#8a1f98" stroke-width="0.7"/>
<line x1="51.72" y1="587.42" x2="54.12" y2="587.42" stroke="#8a1f98" stroke-width="0.7"/>
<line x1="51.72" y1="588.16" x2="54.12" y2="588.16" stroke="#8a1f98" stroke-width="0.7"/>
<line x1="56.22" y1="587.23" x2="56.22" y2="587.97" stroke="#8a1f98" stroke-width="0.7"/>
<line x1="55.02" y1="587.23" x2="57.42" y2="587.23" stroke="#8a1f98" stroke-width="0.7"/>
<line x1="55.02" y1="587.97" x2="57.42" y2="587.97" stroke="#8a1f98" stroke-width="0.7"/>
<line x1="59.52" y1="587.05" x2="59.52" y2="587.79" stroke="#8a1f98" stroke-width="0.7"/>
<line x1="58.32" y1="587.05" x2="60.72" y2="587.05" stroke="#8a1f98" stroke-width="0.7"/>
<line x1="58.32" y1="587.79" x2="60.72" y2="587.79" stroke="#8a1f98" stroke-width="0.7"/>
<line x1="64.48" y1="586.59" x2="64.48" y2="587.51" stroke="#8a1f98" stroke-width="0.7"/>
<line x1="63.28" y1="586.59" x2="65.68" y2="586.59" stroke="#8a1f98" stroke-width="0.7"/>
<line x1="63.28" y1="587.51" x2="65.68" y2="587.51" stroke="#8a1f98" stroke-width="0.7"/>
<line x1="67.78" y1="585.94" x2="67.78" y2="587.05" stroke="#8a1f98" stroke-width="0.7"/>
<line x1="66.58" y1="585.94" x2="68.98" y2="585.94" stroke="#8a1f98" stroke-width="0.7"/>
<line x1="66.58" y1="587.05" x2="68.98" y2="587.05" stroke="#8a1f98" stroke-width="0.7"/>
<line x1="71.08" y1="585.76" x2="71.08" y2="586.87" stroke="#8a1f98" stroke-width="0.7"/>
<line x1="69.88" y1="585.76" x2="72.28" y2="585.76" stroke="#8a1f98" stroke-width="0.7"/>
<line x1="69.88" y1="586.87" x2="72.28" y2="586.87" stroke="#8a1f98" stroke-width="0.7"/>
<line x1="76.04" y1="585.02" x2="76.04" y2="586.5" stroke="#8a1f98" stroke-width="0.7"/>
<line x1="74.84" y1="585.02" x2="77.24" y2="585.02" stroke="#8a1f98" stroke-width="0.7"/>
<line x1="74.84" y1="586.5" x2="77.24" y2="586.5" stroke="#8a1f98" stroke-width="0.7"/>
<line x1="79.34" y1="583.36" x2="79.34" y2="585.21" stroke="#8a1f98" stroke-width="0.7"/>
<line x1="78.14" y1="583.36" x2="80.54" y2="583.36" stroke="#8a1f98" stroke-width="0.7"/>
<line x1="78.14" y1="585.21" x2="80.54" y2="585.21" stroke="#8a1f98" stroke-width="0.7"/>
<line x1="82.64" y1="581.98" x2="82.64" y2="584.19" stroke="#8a1f98" stroke-width="0.7"/>
<line x1="81.44" y1="581.98" x2="83.84" y2="581.98" stroke="#8a1f98" stroke-width="0.7"/>
<line x1="81.44" y1="584.19" x2="83.84" y2="584.19" stroke="#8a1f98" stroke-width="0.7"/>
<line x1="87.6" y1="577.74" x2="87.6" y2="581.43" stroke="#8a1f98" stroke-width="0.7"/>
<line x1="86.4" y1="577.74" x2="88.8" y2="577.74" stroke="#8a1f98" stroke-width="0.7"/>
<line x1="86.4" y1="581.43" x2="88.8" y2="581.43" stroke="#8a1f98" stroke-width="0.7"/>
<line x1="90.9" y1="566.58" x2="90.9" y2="573.96" stroke="#8a1f98" stroke-width="0.7"/>
<line x1="89.7" y1="566.58" x2="92.1" y2="566.58" stroke="#8a1f98" stroke-width="0.7"/>
<line x1="89.7" y1="573.96" x2="92.1" y2="573.96" stroke="#8a1f98" stroke-width="0.7"/>
<line x1="94.21" y1="555.89" x2="94.21" y2="570.64" stroke="#8a1f98" stroke-width="0.7"/>
<line x1="93.01" y1="555.89" x2="95.41" y2="555.89" stroke="#8a1f98" stroke-width="0.7"/>
<line x1="93.01" y1="570.64" x2="95.41" y2="570.64" stroke="#8a1f98" stroke-width="0.7"/>
<line x1="99.16" y1="535.6" x2="99.16" y2="563.26" stroke="#8a1f98" stroke-width="0.7"/>
<line x1="97.96" y1="535.6" x2="100.36" y2="535.6" stroke="#8a1f98" stroke-width="0.7"/>
<line x1="97.96" y1="563.26" x2="100.36" y2="563.26" stroke="#8a1f98" stroke-width="0.7"/>
<line x1="102.46" y1="514.4" x2="102.46" y2="551.28" stroke="#8a1f98" stroke-width="0.7"/>
<line x1="101.26" y1="514.4" x2="103.66" y2="514.4" stroke="#8a1f98" stroke-width="0.7"/>
<line x1="101.26" y1="551.28" x2="103.66" y2="551.28" stroke="#8a1f98" stroke-width="0.7"/>
<line x1="105.77" y1="501.49" x2="105.77" y2="538.37" stroke="#8a1f98" stroke-width="0.7"/>
<line x1="104.57" y1="501.49" x2="106.97" y2="501.49" stroke="#8a1f98" stroke-width="0.7"/>
<line x1="104.57" y1="538.37" x2="106.97" y2="538.37" stroke="#8a1f98" stroke-width="0.7"/>
<line x1="110.72" y1="491.07" x2="110.72" y2="527.95" stroke="#8a1f98" stroke-width="0.7"/>
<line x1="109.52" y1="491.07" x2="111.92" y2="491.07" stroke="#8a1f98" stroke-width="0.7"/>
<line x1="109.52" y1="527.95" x2="111.92" y2="527.95" stroke="#8a1f98" stroke-width="0.7"/>
<line x1="114.03" y1="488.58" x2="114.03" y2="521.77" stroke="#8a1f98" stroke-width="0.7"/>
<line x1="112.83" y1="488.58" x2="115.23" y2="488.58" stroke="#8a1f98" stroke-width="0.7"/>
<line x1="112.83" y1="521.77" x2="115.23" y2="521.77" stroke="#8a1f98" stroke-width="0.7"/>
<line x1="117.33" y1="487.66" x2="117.33" y2="515.32" stroke="#8a1f98" stroke-width="0.7"/>
<line x1="116.13" y1="487.66" x2="118.53" y2="487.66" stroke="#8a1f98" stroke-width="0.7"/>
<line x1="116.13" y1="515.32" x2="118.53" y2="515.32" stroke="#8a1f98" stroke-width="0.7"/>
<line x1="122.28" y1="484.89" x2="122.28" y2="503.33" stroke="#8a1f98" stroke-width="0.7"/>
<line x1="121.08" y1="484.89" x2="123.48" y2="484.89" stroke="#8a1f98" stroke-width="0.7"/>
<line x1="121.08" y1="503.33" x2="123.48" y2="503.33" stroke="#8a1f98" stroke-width="0.7"/>
<line x1="125.59" y1="483.51" x2="125.59" y2="498.26" stroke="#8a1f98" stroke-width="0.7"/>
<line x1="124.39" y1="483.51" x2="126.79" y2="483.51" stroke="#8a1f98" stroke-width="0.7"/>
<line x1="124.39" y1="498.26" x2="126.79" y2="498.26" stroke="#8a1f98" stroke-width="0.7"/>
<line x1="128.89" y1="483.97" x2="128.89" y2="495.03" stroke="#8a1f98" stroke-width="0.7"/>
<line x1="127.69" y1="483.97" x2="130.09" y2="483.97" stroke="#8a1f98" stroke-width="0.7"/>
<line x1="127.69" y1="495.03" x2="130.09" y2="495.03" stroke="#8a1f98" stroke-width="0.7"/>
<line x1="133.84" y1="482.13" x2="133.84" y2="493.19" stroke="#8a1f98" stroke-width="0.7"/>
<line x1="132.64" y1="482.13" x2="135.04" y2="482.13" stroke="#8a1f98" stroke-width="0.7"/>
<line x1="132.64" y1="493.19" x2="135.04" y2="493.19" stroke="#8a1f98" stroke-width="0.7"/>
<path d="M43.01,586.88 L44.28,588.16 L43.01,589.43 L41.73,588.16 Z" fill="#8a1f98"/>
<path d="M46.31,586.7 L47.58,587.97 L46.31,589.25 L45.03,587.97 Z" fill="#8a1f98"/>
<path d="M52.92,586.51 L54.19,587.79 L52.92,589.06 L51.64,587.79 Z" fill="#8a1f98"/>
<path d="M56.22,586.33 L57.49,587.6 L56.22,588.88 L54.94,587.6 Z" fill="#8a1f98"/>
<path d="M59.52,586.14 L60.8,587.42 L59.52,588.69 L58.25,587.42 Z" fill="#8a1f98"/>
<path d="M64.48,585.77 L65.75,587.05 L64.48,588.32 L63.2,587.05 Z" fill="#8a1f98"/>
<path d="M67.78,585.22 L69.06,586.5 L67.78,587.77 L66.51,586.5 Z" fill="#8a1f98"/>
<path d="M71.08,585.04 L72.36,586.31 L71.08,587.59 L69.81,586.31 Z" fill="#8a1f98"/>
<path d="M76.04,584.48 L77.31,585.76 L76.04,587.03 L74.76,585.76 Z" fill="#8a1f98"/>
<path d="M79.34,583.01 L80.62,584.28 L79.34,585.56 L78.07,584.28 Z" fill="#8a1f98"/>
<path d="M82.64,581.81 L83.92,583.09 L82.64,584.36 L81.37,583.09 Z" fill="#8a1f98"/>
<path d="M87.6,578.31 L88.87,579.58 L87.6,580.86 L86.32,579.58 Z" fill="#8a1f98"/>
<path d="M90.9,568.99 L92.18,570.27 L90.9,571.54 L89.63,570.27 Z" fill="#8a1f98"/>
<path d="M94.21,561.99 L95.48,563.26 L94.21,564.54 L92.93,563.26 Z" fill="#8a1f98"/>
<path d="M99.16,548.16 L100.44,549.43 L99.16,550.71 L97.89,549.43 Z" fill="#8a1f98"/>
<path d="M102.46,531.56 L103.74,532.84 L102.46,534.11 L101.19,532.84 Z" fill="#8a1f98"/>
<path d="M105.77,518.65 L107.04,519.93 L105.77,521.2 L104.49,519.93 Z" fill="#8a1f98"/>
<path d="M110.72,508.23 L112,509.51 L110.72,510.78 L109.45,509.51 Z" fill="#8a1f98"/>
<path d="M114.03,503.9 L115.3,505.18 L114.03,506.45 L112.75,505.18 Z" fill="#8a1f98"/>
<path d="M117.33,500.21 L118.6,501.49 L117.33,502.76 L116.05,501.49 Z" fill="#8a1f98"/>
<path d="M122.28,492.84 L123.56,494.11 L122.28,495.39 L121.01,494.11 Z" fill="#8a1f98"/>
<path d="M125.59,489.61 L126.86,490.88 L125.59,492.16 L124.31,490.88 Z" fill="#8a1f98"/>
<path d="M128.89,488.23 L130.16,489.5 L128.89,490.78 L127.61,489.5 Z" fill="#8a1f98"/>
<path d="M133.84,486.38 L135.12,487.66 L133.84,488.93 L132.57,487.66 Z" fill="#8a1f98"/>
<path d="M43.01,587.79 L46.31,587.51 L52.92,587.51 L56.22,586.59 L59.52,586.31 L64.48,586.13 L67.78,584.28 L71.08,584.01 L76.04,583.09 L79.34,579.03 L82.64,577.92 L87.6,574.6 L90.9,567.13 L94.21,554.78 L99.16,531.82 L102.46,507.94 L105.77,506.56 L110.72,474.75" stroke="#000" stroke-width="1" fill="none"/>
<line x1="43.01" y1="587.33" x2="43.01" y2="588.25" stroke="#000" stroke-width="0.7"/>
<line x1="41.81" y1="587.33" x2="44.21" y2="587.33" stroke="#000" stroke-width="0.7"/>
<line x1="41.81" y1="588.25" x2="44.21" y2="588.25" stroke="#000" stroke-width="0.7"/>
<line x1="46.31" y1="587.05" x2="46.31" y2="587.97" stroke="#000" stroke-width="0.7"/>
<line x1="45.11" y1="587.05" x2="47.51" y2="587.05" stroke="#000" stroke-width="0.7"/>
<line x1="45.11" y1="587.97" x2="47.51" y2="587.97" stroke="#000" stroke-width="0.7"/>
<line x1="52.92" y1="587.05" x2="52.92" y2="587.97" stroke="#000" stroke-width="0.7"/>
<line x1="51.72" y1="587.05" x2="54.12" y2="587.05" stroke="#000" stroke-width="0.7"/>
<line x1="51.72" y1="587.97" x2="54.12" y2="587.97" stroke="#000" stroke-width="0.7"/>
<line x1="56.22" y1="586.13" x2="56.22" y2="587.05" stroke="#000" stroke-width="0.7"/>
<line x1="55.02" y1="586.13" x2="57.42" y2="586.13" stroke="#000" stroke-width="0.7"/>
<line x1="55.02" y1="587.05" x2="57.42" y2="587.05" stroke="#000" stroke-width="0.7"/>
<line x1="59.52" y1="585.76" x2="59.52" y2="586.87" stroke="#000" stroke-width="0.7"/>
<line x1="58.32" y1="585.76" x2="60.72" y2="585.76" stroke="#000" stroke-width="0.7"/>
<line x1="58.32" y1="586.87" x2="60.72" y2="586.87" stroke="#000" stroke-width="0.7"/>
<line x1="64.48" y1="585.39" x2="64.48" y2="586.87" stroke="#000" stroke-width="0.7"/>
<line x1="63.28" y1="585.39" x2="65.68" y2="585.39" stroke="#000" stroke-width="0.7"/>
<line x1="63.28" y1="586.87" x2="65.68" y2="586.87" stroke="#000" stroke-width="0.7"/>
<line x1="67.78" y1="583.55" x2="67.78" y2="585.02" stroke="#000" stroke-width="0.7"/>
<line x1="66.58" y1="583.55" x2="68.98" y2="583.55" stroke="#000" stroke-width="0.7"/>
<line x1="66.58" y1="585.02" x2="68.98" y2="585.02" stroke="#000" stroke-width="0.7"/>
<line x1="71.08" y1="583.08" x2="71.08" y2="584.93" stroke="#000" stroke-width="0.7"/>
<line x1="69.88" y1="583.08" x2="72.28" y2="583.08" stroke="#000" stroke-width="0.7"/>
<line x1="69.88" y1="584.93" x2="72.28" y2="584.93" stroke="#000" stroke-width="0.7"/>
<line x1="76.04" y1="581.98" x2="76.04" y2="584.19" stroke="#000" stroke-width="0.7"/>
<line x1="74.84" y1="581.98" x2="77.24" y2="581.98" stroke="#000" stroke-width="0.7"/>
<line x1="74.84" y1="584.19" x2="77.24" y2="584.19" stroke="#000" stroke-width="0.7"/>
<line x1="79.34" y1="577.65" x2="79.34" y2="580.41" stroke="#000" stroke-width="0.7"/>
<line x1="78.14" y1="577.65" x2="80.54" y2="577.65" stroke="#000" stroke-width="0.7"/>
<line x1="78.14" y1="580.41" x2="80.54" y2="580.41" stroke="#000" stroke-width="0.7"/>
<line x1="82.64" y1="576.54" x2="82.64" y2="579.3" stroke="#000" stroke-width="0.7"/>
<line x1="81.44" y1="576.54" x2="83.84" y2="576.54" stroke="#000" stroke-width="0.7"/>
<line x1="81.44" y1="579.3" x2="83.84" y2="579.3" stroke="#000" stroke-width="0.7"/>
<line x1="87.6" y1="572.76" x2="87.6" y2="576.45" stroke="#000" stroke-width="0.7"/>
<line x1="86.4" y1="572.76" x2="88.8" y2="572.76" stroke="#000" stroke-width="0.7"/>
<line x1="86.4" y1="576.45" x2="88.8" y2="576.45" stroke="#000" stroke-width="0.7"/>
<line x1="90.9" y1="564.37" x2="90.9" y2="569.9" stroke="#000" stroke-width="0.7"/>
<line x1="89.7" y1="564.37" x2="92.1" y2="564.37" stroke="#000" stroke-width="0.7"/>
<line x1="89.7" y1="569.9" x2="92.1" y2="569.9" stroke="#000" stroke-width="0.7"/>
<line x1="94.21" y1="550.63" x2="94.21" y2="558.93" stroke="#000" stroke-width="0.7"/>
<line x1="93.01" y1="550.63" x2="95.41" y2="550.63" stroke="#000" stroke-width="0.7"/>
<line x1="93.01" y1="558.93" x2="95.41" y2="558.93" stroke="#000" stroke-width="0.7"/>
<line x1="99.16" y1="522.6" x2="99.16" y2="541.04" stroke="#000" stroke-width="0.7"/>
<line x1="97.96" y1="522.6" x2="100.36" y2="522.6" stroke="#000" stroke-width="0.7"/>
<line x1="97.96" y1="541.04" x2="100.36" y2="541.04" stroke="#000" stroke-width="0.7"/>
<line x1="102.46" y1="490.42" x2="102.46" y2="525.46" stroke="#000" stroke-width="0.7"/>
<line x1="101.26" y1="490.42" x2="103.66" y2="490.42" stroke="#000" stroke-width="0.7"/>
<line x1="101.26" y1="525.46" x2="103.66" y2="525.46" stroke="#000" stroke-width="0.7"/>
<line x1="105.77" y1="489.96" x2="105.77" y2="523.15" stroke="#000" stroke-width="0.7"/>
<line x1="104.57" y1="489.96" x2="106.97" y2="489.96" stroke="#000" stroke-width="0.7"/>
<line x1="104.57" y1="523.15" x2="106.97" y2="523.15" stroke="#000" stroke-width="0.7"/>
<line x1="110.72" y1="465.53" x2="110.72" y2="483.97" stroke="#000" stroke-width="0.7"/>
<line x1="109.52" y1="465.53" x2="111.92" y2="465.53" stroke="#000" stroke-width="0.7"/>
<line x1="109.52" y1="483.97" x2="111.92" y2="483.97" stroke="#000" stroke-width="0.7"/>
<circle cx="43.01" cy="587.79" r="1.36" fill="#000"/>
<circle cx="46.31" cy="587.51" r="1.36" fill="#000"/>
<circle cx="52.92" cy="587.51" r="1.36" fill="#000"/>
<circle cx="56.22" cy="586.59" r="1.36" fill="#000"/>
<circle cx="59.52" cy="586.31" r="1.36" fill="#000"/>
<circle cx="64.48" cy="586.13" r="1.36" fill="#000"/>
<circle cx="67.78" cy="584.28" r="1.36" fill="#000"/>
<circle cx="71.08" cy="584.01" r="1.36" fill="#000"/>
<circle cx="76.04" cy="583.09" r="1.36" fill="#000"/>
<circle cx="79.34" cy="579.03" r="1.36" fill="#000"/>
<circle cx="82.64" cy="577.92" r="1.36" fill="#000"/>
<circle cx="87.6" cy="574.6" r="1.36" fill="#000"/>
<circle cx="90.9" cy="567.13" r="1.36" fill="#000"/>
<circle cx="94.21" cy="554.78" r="1.36" fill="#000"/>
<circle cx="99.16" cy="531.82" r="1.36" fill="#000"/>
<circle cx="102.46" cy="507.94" r="1.36" fill="#000"/>
<circle cx="105.77" cy="506.56" r="1.36" fill="#000"/>
<circle cx="110.72" cy="474.75" r="1.36" fill="#000"/>
<line x1="138.2" y1="452.6" x2="154.5" y2="452.6" stroke="#000" stroke-width="1.1"/>
<circle cx="146.6" cy="452.6" r="1.44" fill="#000"/>
<text x="154.8" y="455.4" font-size="7.5" textLength="25.4" lengthAdjust="spacingAndGlyphs" fill="#222" stroke="#222" stroke-width="0.12">Control</text>
<line x1="138.2" y1="469.2" x2="154.5" y2="469.2" stroke="#8a1f98" stroke-width="1.1"/>
<path d="M146.6,467.85 L147.95,469.2 L146.6,470.55 L145.25,469.2 Z" fill="#8a1f98"/>
<text x="154.8" y="472" font-size="7.5" textLength="14.9" lengthAdjust="spacingAndGlyphs" fill="#222" stroke="#222" stroke-width="0.12">TMZ</text>
<line x1="138.2" y1="485.9" x2="154.5" y2="485.9" stroke="#2b9bb0" stroke-width="1.1"/>
<rect x="145.43" y="484.73" width="2.34" height="2.34" fill="#17798e"/>
<text x="154.8" y="488.7" font-size="7.5" textLength="42.7" lengthAdjust="spacingAndGlyphs" fill="#222" stroke="#222" stroke-width="0.12">TMZ+SAHA</text>
<line x1="138.2" y1="500.1" x2="154.5" y2="500.1" stroke="#ff7f14" stroke-width="1.1"/>
<path d="M145.25,499.02 L147.95,499.02 L146.6,501.45 Z" fill="#ff7f14"/>
<text x="154.8" y="502.9" font-size="7.5" textLength="47.6" lengthAdjust="spacingAndGlyphs" fill="#222" stroke="#222" stroke-width="0.12">TMZ+DDI199</text>
<text transform="translate(207.8,451.7) scale(1.1,1)" font-size="19.5" font-weight="bold">H</text>
<line x1="230.1" y1="455.2" x2="230.1" y2="590.8" stroke="#777" stroke-width="1.3"/>
<line x1="229.6" y1="590.3" x2="394.9" y2="590.3" stroke="#777" stroke-width="1.3"/>
<line x1="230.1" y1="567.86" x2="233.9" y2="567.86" stroke="#777" stroke-width="1"/>
<line x1="230.1" y1="545.42" x2="233.9" y2="545.42" stroke="#777" stroke-width="1"/>
<line x1="230.1" y1="522.98" x2="233.9" y2="522.98" stroke="#777" stroke-width="1"/>
<line x1="230.1" y1="500.54" x2="233.9" y2="500.54" stroke="#777" stroke-width="1"/>
<line x1="230.1" y1="478.1" x2="233.9" y2="478.1" stroke="#777" stroke-width="1"/>
<line x1="230.1" y1="455.66" x2="233.9" y2="455.66" stroke="#777" stroke-width="1"/>
<text x="228.2" y="593" font-size="7.7" text-anchor="end" fill="#222" stroke="#222" stroke-width="0.12">0</text>
<text x="228.2" y="570.56" font-size="7.7" text-anchor="end" fill="#222" stroke="#222" stroke-width="0.12">20</text>
<text x="228.2" y="548.12" font-size="7.7" text-anchor="end" fill="#222" stroke="#222" stroke-width="0.12">40</text>
<text x="228.2" y="525.68" font-size="7.7" text-anchor="end" fill="#222" stroke="#222" stroke-width="0.12">60</text>
<text x="228.2" y="503.24" font-size="7.7" text-anchor="end" fill="#222" stroke="#222" stroke-width="0.12">80</text>
<text x="228.2" y="480.8" font-size="7.7" text-anchor="end" fill="#222" stroke="#222" stroke-width="0.12">100</text>
<line x1="271.3" y1="590.3" x2="271.3" y2="587" stroke="#777" stroke-width="1"/>
<line x1="312.5" y1="590.3" x2="312.5" y2="587" stroke="#777" stroke-width="1"/>
<line x1="353.7" y1="590.3" x2="353.7" y2="587" stroke="#777" stroke-width="1"/>
<line x1="394.9" y1="590.3" x2="394.9" y2="587" stroke="#777" stroke-width="1"/>
<text x="231.6" y="599.3" font-size="7.9" text-anchor="middle" fill="#222" stroke="#222" stroke-width="0.12">0</text>
<text x="271.3" y="599.3" font-size="7.9" text-anchor="middle" fill="#222" stroke="#222" stroke-width="0.12">25</text>
<text x="311.3" y="599.3" font-size="7.9" text-anchor="middle" fill="#222" stroke="#222" stroke-width="0.12">50</text>
<text x="354.9" y="599.3" font-size="7.9" text-anchor="middle" fill="#222" stroke="#222" stroke-width="0.12">75</text>
<text x="395.5" y="599.3" font-size="7.9" text-anchor="middle" fill="#222" stroke="#222" stroke-width="0.12">100</text>
<text x="296.2" y="613.3" font-size="7.9" textLength="42.8" lengthAdjust="spacingAndGlyphs" fill="#222" stroke="#222" stroke-width="0.12">Time (days)</text>
<text transform="translate(213.3,527.8) rotate(-90)" x="0" y="0" font-size="8" text-anchor="middle" textLength="44" lengthAdjust="spacingAndGlyphs" fill="#222" stroke="#222" stroke-width="0.22">Survival (%)</text>
<path d="M295.6,478.1 L303.9,478.1 L303.9,496.4 L307,496.4 L307,515.1 L333.4,515.1 L333.4,534.1 L394.9,534.1" stroke="#ff8c1a" stroke-width="1.2" fill="none"/>
<path d="M298.8,515.1 L304.3,515.1 L304.3,553 L307,553 L307,571.3 L322.6,571.3 L322.6,590.3" stroke="#2b9bb0" stroke-width="1.2" fill="none"/>
<path d="M230.1,478.1 L296.2,478.1 L296.2,496.4 L298.8,496.4 L298.8,534.1 L303.9,534.1 L303.9,553 L315.5,553 L315.5,571.3 L327.1,571.3 L327.1,590.3" stroke="#8a1f98" stroke-width="1.2" fill="none"/>
<path d="M230.1,478.1 L295.6,478.1 L295.6,534.1 L303.9,534.1 L303.9,590.3" stroke="#222" stroke-width="1.2" fill="none"/>
<text transform="translate(395.3,451.7) scale(1.25,1)" font-size="19.5" font-weight="bold">I</text>
<line x1="426.2" y1="477.6" x2="426.2" y2="586.9" stroke="#000" stroke-width="1.1"/>
<line x1="425.7" y1="586.4" x2="500.8" y2="586.4" stroke="#000" stroke-width="1.1"/>
<line x1="426.2" y1="564.74" x2="429.3" y2="564.74" stroke="#000" stroke-width="0.9"/>
<line x1="426.2" y1="543.08" x2="429.3" y2="543.08" stroke="#000" stroke-width="0.9"/>
<line x1="426.2" y1="521.42" x2="429.3" y2="521.42" stroke="#000" stroke-width="0.9"/>
<line x1="426.2" y1="499.76" x2="429.3" y2="499.76" stroke="#000" stroke-width="0.9"/>
<line x1="426.2" y1="478.1" x2="429.3" y2="478.1" stroke="#000" stroke-width="0.9"/>
<text x="424.3" y="589.1" font-size="7.6" font-weight="bold" text-anchor="end" stroke="#000" stroke-width="0.12">0</text>
<text x="424.3" y="567.44" font-size="7.6" font-weight="bold" text-anchor="end" textLength="13.6" lengthAdjust="spacingAndGlyphs" stroke="#000" stroke-width="0.12">100</text>
<text x="424.3" y="545.78" font-size="7.6" font-weight="bold" text-anchor="end" textLength="13.6" lengthAdjust="spacingAndGlyphs" stroke="#000" stroke-width="0.12">200</text>
<text x="424.3" y="524.12" font-size="7.6" font-weight="bold" text-anchor="end" textLength="13.6" lengthAdjust="spacingAndGlyphs" stroke="#000" stroke-width="0.12">300</text>
<text x="424.3" y="502.46" font-size="7.6" font-weight="bold" text-anchor="end" textLength="13.6" lengthAdjust="spacingAndGlyphs" stroke="#000" stroke-width="0.12">400</text>
<text x="424.3" y="480.8" font-size="7.6" font-weight="bold" text-anchor="end" textLength="13.6" lengthAdjust="spacingAndGlyphs" stroke="#000" stroke-width="0.12">500</text>
<text transform="translate(403.7,534.5) rotate(-90)" x="0" y="0" font-size="9.2" text-anchor="middle" textLength="52.7" lengthAdjust="spacingAndGlyphs" stroke="#000" stroke-width="0.22">oncospheres</text>
<rect x="432.5" y="519.7" width="11.2" height="66.7" fill="#686868" stroke="#000" stroke-width="0.8"/>
<rect x="449.7" y="515.1" width="11.1" height="71.3" fill="#3e0757" stroke="#000" stroke-width="0.8"/>
<rect x="467.1" y="532.3" width="11.8" height="54.1" fill="#137a93" stroke="#000" stroke-width="0.8"/>
<rect x="484.3" y="550.3" width="12" height="36.1" fill="#ff8000" stroke="#000" stroke-width="0.8"/>
<line x1="438.1" y1="510.6" x2="438.1" y2="529.3" stroke="#000" stroke-width="0.8"/>
<line x1="435.5" y1="510.6" x2="440.7" y2="510.6" stroke="#000" stroke-width="0.8"/>
<line x1="435.5" y1="529.3" x2="440.7" y2="529.3" stroke="#000" stroke-width="0.8"/>
<line x1="455.25" y1="509.7" x2="455.25" y2="521" stroke="#000" stroke-width="0.8"/>
<line x1="452.65" y1="509.7" x2="457.85" y2="509.7" stroke="#000" stroke-width="0.8"/>
<line x1="452.65" y1="521" x2="457.85" y2="521" stroke="#000" stroke-width="0.8"/>
<line x1="473" y1="528" x2="473" y2="537" stroke="#000" stroke-width="0.8"/>
<line x1="470.4" y1="528" x2="475.6" y2="528" stroke="#000" stroke-width="0.8"/>
<line x1="470.4" y1="537" x2="475.6" y2="537" stroke="#000" stroke-width="0.8"/>
<line x1="490.3" y1="549.3" x2="490.3" y2="551.3" stroke="#000" stroke-width="0.8"/>
<line x1="487.7" y1="549.3" x2="492.9" y2="549.3" stroke="#000" stroke-width="0.8"/>
<line x1="487.7" y1="551.3" x2="492.9" y2="551.3" stroke="#000" stroke-width="0.8"/>
<circle cx="438.2" cy="485.8" r="2" fill="#000"/>
<circle cx="438.2" cy="500.9" r="2" fill="#000"/>
<circle cx="438.2" cy="518.7" r="2" fill="#000"/>
<circle cx="438.2" cy="528.9" r="2" fill="#000"/>
<circle cx="438.2" cy="539.4" r="2" fill="#000"/>
<circle cx="438.2" cy="547.8" r="2" fill="#000"/>
<circle cx="455.1" cy="496.4" r="2" fill="#000"/>
<circle cx="455.1" cy="501.5" r="2" fill="#000"/>
<circle cx="451.4" cy="517.7" r="2" fill="#000"/>
<circle cx="459.5" cy="516.3" r="2" fill="#000"/>
<circle cx="455.1" cy="523.8" r="2" fill="#000"/>
<circle cx="455.5" cy="531.5" r="2" fill="#000"/>
<circle cx="468.7" cy="526.2" r="2" fill="#000"/>
<circle cx="476.8" cy="527.5" r="2" fill="#000"/>
<circle cx="472.7" cy="529.9" r="2" fill="#000"/>
<circle cx="472.7" cy="534.6" r="2" fill="#000"/>
<circle cx="472.7" cy="542.1" r="2" fill="#000"/>
<circle cx="470.1" cy="528.3" r="2" fill="#000"/>
<circle cx="485.9" cy="550.8" r="2" fill="#000"/>
<circle cx="495" cy="549.8" r="2" fill="#000"/>
<path d="M437.6,479.6 L437.6,474.5 L490.3,474.5 L490.3,479.6" stroke="#666" stroke-width="0.9" fill="none"/>
<path d="M455.7,491.7 L455.7,486.3 L490.3,486.3 L490.3,491.7" stroke="#666" stroke-width="0.9" fill="none"/>
<text x="464.7" y="471.6" font-size="7" text-anchor="middle" stroke="#000" stroke-width="0.12">≠</text>
<path d="M473.1,478.8 L473.1,482.2 M471.63,479.65 L474.57,481.35 M471.63,481.35 L474.57,479.65 " stroke="#000" stroke-width="0.9" fill="none"/>
<text x="415.1" y="598.9" font-size="8" textLength="25.6" lengthAdjust="spacingAndGlyphs" stroke="#000" stroke-width="0.12">Control</text>
<text x="443.7" y="598.9" font-size="8" textLength="15.9" lengthAdjust="spacingAndGlyphs" stroke="#000" stroke-width="0.12">TMZ</text>
<text x="463.8" y="598.9" font-size="8" textLength="16.9" lengthAdjust="spacingAndGlyphs" stroke="#000" stroke-width="0.12">TMZ</text>
<text x="493.3" y="598.9" font-size="8" textLength="15.6" lengthAdjust="spacingAndGlyphs" stroke="#000" stroke-width="0.12">TMZ</text>
<text x="463.2" y="608.8" font-size="8" textLength="21.7" lengthAdjust="spacingAndGlyphs" stroke="#000" stroke-width="0.12">SAHA</text>
<text x="487.3" y="608.8" font-size="8" textLength="27.7" lengthAdjust="spacingAndGlyphs" stroke="#000" stroke-width="0.12">DDI199</text>
<text transform="translate(513.4,451.7) scale(1.1,1)" font-size="19.5" font-weight="bold">J</text>
<line x1="532.7" y1="474" x2="532.7" y2="591.5" stroke="#888" stroke-width="1.2"/>
<line x1="532.2" y1="591" x2="670" y2="591" stroke="#888" stroke-width="1.2"/>
<line x1="532.7" y1="474.6" x2="535.6" y2="474.6" stroke="#888" stroke-width="1"/>
<line x1="530" y1="561.8" x2="532.7" y2="561.8" stroke="#888" stroke-width="1"/>
<line x1="530" y1="532.6" x2="532.7" y2="532.6" stroke="#888" stroke-width="1"/>
<line x1="530" y1="503.4" x2="532.7" y2="503.4" stroke="#888" stroke-width="1"/>
<line x1="530" y1="474.2" x2="532.7" y2="474.2" stroke="#888" stroke-width="1"/>
<text x="529.8" y="592.8" font-size="7.9" text-anchor="end" fill="#222" stroke="#222" stroke-width="0.12">0</text>
<text x="529.8" y="565.8" font-size="7.9" text-anchor="end" fill="#222" stroke="#222" stroke-width="0.12">200</text>
<text x="529.8" y="535.6" font-size="7.9" text-anchor="end" fill="#222" stroke="#222" stroke-width="0.12">400</text>
<text x="529.8" y="507.8" font-size="7.9" text-anchor="end" fill="#222" stroke="#222" stroke-width="0.12">600</text>
<text x="529.8" y="480.6" font-size="7.9" text-anchor="end" fill="#222" stroke="#222" stroke-width="0.12">800</text>
<text x="533.2" y="599.6" font-size="8.1" text-anchor="middle" fill="#222" stroke="#222" stroke-width="0.12">0</text>
<text x="564.9" y="599.6" font-size="8.1" text-anchor="middle" fill="#222" stroke="#222" stroke-width="0.12">5</text>
<text x="600.6" y="599.6" font-size="8.1" text-anchor="middle" fill="#222" stroke="#222" stroke-width="0.12">10</text>
<text x="636.4" y="599.6" font-size="8.1" text-anchor="middle" fill="#222" stroke="#222" stroke-width="0.12">15</text>
<text x="668.7" y="599.6" font-size="8.1" text-anchor="middle" fill="#222" stroke="#222" stroke-width="0.12">20</text>
<text x="580.3" y="613.4" font-size="8.1" textLength="42.1" lengthAdjust="spacingAndGlyphs" fill="#222" stroke="#222" stroke-width="0.12">Time (days)</text>
<text transform="translate(511.6,525.5) rotate(-90)" x="0" y="0" font-size="8.3" text-anchor="middle" fill="#222" stroke="#222" stroke-width="0.22">Tumor volume (mm<tspan font-size="5.4" dy="-2.8">3</tspan>)</text>
<path d="M559.2,590.71 L572.7,590.71 L586.9,590.71 L607.3,590.71 L620.9,590.56 L635,590.56 L655.4,590.12 L669.4,588.96" stroke="#ff7f14" stroke-width="1" fill="none"/>
<line x1="559.2" y1="590.56" x2="559.2" y2="590.85" stroke="#ff7f14" stroke-width="0.8"/>
<line x1="557.9" y1="590.56" x2="560.5" y2="590.56" stroke="#ff7f14" stroke-width="0.8"/>
<line x1="557.9" y1="590.85" x2="560.5" y2="590.85" stroke="#ff7f14" stroke-width="0.8"/>
<line x1="572.7" y1="590.56" x2="572.7" y2="590.85" stroke="#ff7f14" stroke-width="0.8"/>
<line x1="571.4" y1="590.56" x2="574" y2="590.56" stroke="#ff7f14" stroke-width="0.8"/>
<line x1="571.4" y1="590.85" x2="574" y2="590.85" stroke="#ff7f14" stroke-width="0.8"/>
<line x1="586.9" y1="590.56" x2="586.9" y2="590.85" stroke="#ff7f14" stroke-width="0.8"/>
<line x1="585.6" y1="590.56" x2="588.2" y2="590.56" stroke="#ff7f14" stroke-width="0.8"/>
<line x1="585.6" y1="590.85" x2="588.2" y2="590.85" stroke="#ff7f14" stroke-width="0.8"/>
<line x1="607.3" y1="590.56" x2="607.3" y2="590.85" stroke="#ff7f14" stroke-width="0.8"/>
<line x1="606" y1="590.56" x2="608.6" y2="590.56" stroke="#ff7f14" stroke-width="0.8"/>
<line x1="606" y1="590.85" x2="608.6" y2="590.85" stroke="#ff7f14" stroke-width="0.8"/>
<line x1="620.9" y1="590.42" x2="620.9" y2="590.71" stroke="#ff7f14" stroke-width="0.8"/>
<line x1="619.6" y1="590.42" x2="622.2" y2="590.42" stroke="#ff7f14" stroke-width="0.8"/>
<line x1="619.6" y1="590.71" x2="622.2" y2="590.71" stroke="#ff7f14" stroke-width="0.8"/>
<line x1="635" y1="590.42" x2="635" y2="590.71" stroke="#ff7f14" stroke-width="0.8"/>
<line x1="633.7" y1="590.42" x2="636.3" y2="590.42" stroke="#ff7f14" stroke-width="0.8"/>
<line x1="633.7" y1="590.71" x2="636.3" y2="590.71" stroke="#ff7f14" stroke-width="0.8"/>
<line x1="655.4" y1="589.83" x2="655.4" y2="590.42" stroke="#ff7f14" stroke-width="0.8"/>
<line x1="654.1" y1="589.83" x2="656.7" y2="589.83" stroke="#ff7f14" stroke-width="0.8"/>
<line x1="654.1" y1="590.42" x2="656.7" y2="590.42" stroke="#ff7f14" stroke-width="0.8"/>
<line x1="669.4" y1="588.52" x2="669.4" y2="589.39" stroke="#ff7f14" stroke-width="0.8"/>
<line x1="668.1" y1="588.52" x2="670.7" y2="588.52" stroke="#ff7f14" stroke-width="0.8"/>
<line x1="668.1" y1="589.39" x2="670.7" y2="589.39" stroke="#ff7f14" stroke-width="0.8"/>
<path d="M557.78,589.57 L560.62,589.57 L559.2,592.13 Z" fill="#ff7f14"/>
<path d="M571.28,589.57 L574.12,589.57 L572.7,592.13 Z" fill="#ff7f14"/>
<path d="M585.48,589.57 L588.32,589.57 L586.9,592.13 Z" fill="#ff7f14"/>
<path d="M605.88,589.57 L608.72,589.57 L607.3,592.13 Z" fill="#ff7f14"/>
<path d="M619.48,589.42 L622.32,589.42 L620.9,591.99 Z" fill="#ff7f14"/>
<path d="M633.58,589.42 L636.42,589.42 L635,591.99 Z" fill="#ff7f14"/>
<path d="M653.98,588.98 L656.82,588.98 L655.4,591.55 Z" fill="#ff7f14"/>
<path d="M667.98,587.82 L670.82,587.82 L669.4,590.38 Z" fill="#ff7f14"/>
<path d="M559.2,588.08 L572.7,585.45 L586.9,582.53 L607.3,578.01 L620.9,569.98 L635,558.73 L655.4,520.34 L669.4,502.23" stroke="#2b9bb0" stroke-width="1" fill="none"/>
<line x1="559.2" y1="587.2" x2="559.2" y2="588.96" stroke="#2b9bb0" stroke-width="0.8"/>
<line x1="557.9" y1="587.2" x2="560.5" y2="587.2" stroke="#2b9bb0" stroke-width="0.8"/>
<line x1="557.9" y1="588.96" x2="560.5" y2="588.96" stroke="#2b9bb0" stroke-width="0.8"/>
<line x1="572.7" y1="584.28" x2="572.7" y2="586.62" stroke="#2b9bb0" stroke-width="0.8"/>
<line x1="571.4" y1="584.28" x2="574" y2="584.28" stroke="#2b9bb0" stroke-width="0.8"/>
<line x1="571.4" y1="586.62" x2="574" y2="586.62" stroke="#2b9bb0" stroke-width="0.8"/>
<line x1="586.9" y1="581.07" x2="586.9" y2="583.99" stroke="#2b9bb0" stroke-width="0.8"/>
<line x1="585.6" y1="581.07" x2="588.2" y2="581.07" stroke="#2b9bb0" stroke-width="0.8"/>
<line x1="585.6" y1="583.99" x2="588.2" y2="583.99" stroke="#2b9bb0" stroke-width="0.8"/>
<line x1="607.3" y1="575.96" x2="607.3" y2="580.05" stroke="#2b9bb0" stroke-width="0.8"/>
<line x1="606" y1="575.96" x2="608.6" y2="575.96" stroke="#2b9bb0" stroke-width="0.8"/>
<line x1="606" y1="580.05" x2="608.6" y2="580.05" stroke="#2b9bb0" stroke-width="0.8"/>
<line x1="620.9" y1="566.33" x2="620.9" y2="573.63" stroke="#2b9bb0" stroke-width="0.8"/>
<line x1="619.6" y1="566.33" x2="622.2" y2="566.33" stroke="#2b9bb0" stroke-width="0.8"/>
<line x1="619.6" y1="573.63" x2="622.2" y2="573.63" stroke="#2b9bb0" stroke-width="0.8"/>
<line x1="635" y1="553.62" x2="635" y2="563.84" stroke="#2b9bb0" stroke-width="0.8"/>
<line x1="633.7" y1="553.62" x2="636.3" y2="553.62" stroke="#2b9bb0" stroke-width="0.8"/>
<line x1="633.7" y1="563.84" x2="636.3" y2="563.84" stroke="#2b9bb0" stroke-width="0.8"/>
<line x1="655.4" y1="502.82" x2="655.4" y2="537.86" stroke="#2b9bb0" stroke-width="0.8"/>
<line x1="654.1" y1="502.82" x2="656.7" y2="502.82" stroke="#2b9bb0" stroke-width="0.8"/>
<line x1="654.1" y1="537.86" x2="656.7" y2="537.86" stroke="#2b9bb0" stroke-width="0.8"/>
<line x1="669.4" y1="484.71" x2="669.4" y2="519.75" stroke="#2b9bb0" stroke-width="0.8"/>
<line x1="668.1" y1="484.71" x2="670.7" y2="484.71" stroke="#2b9bb0" stroke-width="0.8"/>
<line x1="668.1" y1="519.75" x2="670.7" y2="519.75" stroke="#2b9bb0" stroke-width="0.8"/>
<rect x="557.97" y="586.85" width="2.47" height="2.47" fill="#17798e"/>
<rect x="571.47" y="584.22" width="2.47" height="2.47" fill="#17798e"/>
<rect x="585.66" y="581.3" width="2.47" height="2.47" fill="#17798e"/>
<rect x="606.06" y="576.77" width="2.47" height="2.47" fill="#17798e"/>
<rect x="619.66" y="568.74" width="2.47" height="2.47" fill="#17798e"/>
<rect x="633.76" y="557.5" width="2.47" height="2.47" fill="#17798e"/>
<rect x="654.16" y="519.1" width="2.47" height="2.47" fill="#17798e"/>
<rect x="668.16" y="501" width="2.47" height="2.47" fill="#17798e"/>
<path d="M559.2,588.37 L572.7,586.18 L586.9,585.16 L607.3,579.61 L620.9,572.75 L635,561.8 L655.4,532.31 L669.4,500.77" stroke="#8a1f98" stroke-width="1" fill="none"/>
<line x1="559.2" y1="587.5" x2="559.2" y2="589.25" stroke="#8a1f98" stroke-width="0.8"/>
<line x1="557.9" y1="587.5" x2="560.5" y2="587.5" stroke="#8a1f98" stroke-width="0.8"/>
<line x1="557.9" y1="589.25" x2="560.5" y2="589.25" stroke="#8a1f98" stroke-width="0.8"/>
<line x1="572.7" y1="585.01" x2="572.7" y2="587.35" stroke="#8a1f98" stroke-width="0.8"/>
<line x1="571.4" y1="585.01" x2="574" y2="585.01" stroke="#8a1f98" stroke-width="0.8"/>
<line x1="571.4" y1="587.35" x2="574" y2="587.35" stroke="#8a1f98" stroke-width="0.8"/>
<line x1="586.9" y1="583.99" x2="586.9" y2="586.33" stroke="#8a1f98" stroke-width="0.8"/>
<line x1="585.6" y1="583.99" x2="588.2" y2="583.99" stroke="#8a1f98" stroke-width="0.8"/>
<line x1="585.6" y1="586.33" x2="588.2" y2="586.33" stroke="#8a1f98" stroke-width="0.8"/>
<line x1="607.3" y1="577.57" x2="607.3" y2="581.66" stroke="#8a1f98" stroke-width="0.8"/>
<line x1="606" y1="577.57" x2="608.6" y2="577.57" stroke="#8a1f98" stroke-width="0.8"/>
<line x1="606" y1="581.66" x2="608.6" y2="581.66" stroke="#8a1f98" stroke-width="0.8"/>
<line x1="620.9" y1="569.1" x2="620.9" y2="576.4" stroke="#8a1f98" stroke-width="0.8"/>
<line x1="619.6" y1="569.1" x2="622.2" y2="569.1" stroke="#8a1f98" stroke-width="0.8"/>
<line x1="619.6" y1="576.4" x2="622.2" y2="576.4" stroke="#8a1f98" stroke-width="0.8"/>
<line x1="635" y1="557.42" x2="635" y2="566.18" stroke="#8a1f98" stroke-width="0.8"/>
<line x1="633.7" y1="557.42" x2="636.3" y2="557.42" stroke="#8a1f98" stroke-width="0.8"/>
<line x1="633.7" y1="566.18" x2="636.3" y2="566.18" stroke="#8a1f98" stroke-width="0.8"/>
<line x1="655.4" y1="522.82" x2="655.4" y2="541.8" stroke="#8a1f98" stroke-width="0.8"/>
<line x1="654.1" y1="522.82" x2="656.7" y2="522.82" stroke="#8a1f98" stroke-width="0.8"/>
<line x1="654.1" y1="541.8" x2="656.7" y2="541.8" stroke="#8a1f98" stroke-width="0.8"/>
<line x1="669.4" y1="481.06" x2="669.4" y2="520.48" stroke="#8a1f98" stroke-width="0.8"/>
<line x1="668.1" y1="481.06" x2="670.7" y2="481.06" stroke="#8a1f98" stroke-width="0.8"/>
<line x1="668.1" y1="520.48" x2="670.7" y2="520.48" stroke="#8a1f98" stroke-width="0.8"/>
<path d="M559.2,586.95 L560.62,588.37 L559.2,589.8 L557.78,588.37 Z" fill="#8a1f98"/>
<path d="M572.7,584.76 L574.12,586.18 L572.7,587.61 L571.28,586.18 Z" fill="#8a1f98"/>
<path d="M586.9,583.74 L588.32,585.16 L586.9,586.58 L585.48,585.16 Z" fill="#8a1f98"/>
<path d="M607.3,578.19 L608.72,579.61 L607.3,581.04 L605.88,579.61 Z" fill="#8a1f98"/>
<path d="M620.9,571.33 L622.32,572.75 L620.9,574.17 L619.48,572.75 Z" fill="#8a1f98"/>
<path d="M635,560.38 L636.42,561.8 L635,563.22 L633.58,561.8 Z" fill="#8a1f98"/>
<path d="M655.4,530.88 L656.82,532.31 L655.4,533.73 L653.98,532.31 Z" fill="#8a1f98"/>
<path d="M669.4,499.35 L670.82,500.77 L669.4,502.2 L667.98,500.77 Z" fill="#8a1f98"/>
<path d="M559.2,588.66 L572.7,585.89 L586.9,585.6 L607.3,580.49 L620.9,574.5 L635,561.07 L655.4,536.98 L669.4,501.36" stroke="#000" stroke-width="1" fill="none"/>
<line x1="559.2" y1="587.79" x2="559.2" y2="589.54" stroke="#000" stroke-width="0.8"/>
<line x1="557.9" y1="587.79" x2="560.5" y2="587.79" stroke="#000" stroke-width="0.8"/>
<line x1="557.9" y1="589.54" x2="560.5" y2="589.54" stroke="#000" stroke-width="0.8"/>
<line x1="572.7" y1="584.72" x2="572.7" y2="587.06" stroke="#000" stroke-width="0.8"/>
<line x1="571.4" y1="584.72" x2="574" y2="584.72" stroke="#000" stroke-width="0.8"/>
<line x1="571.4" y1="587.06" x2="574" y2="587.06" stroke="#000" stroke-width="0.8"/>
<line x1="586.9" y1="584.43" x2="586.9" y2="586.77" stroke="#000" stroke-width="0.8"/>
<line x1="585.6" y1="584.43" x2="588.2" y2="584.43" stroke="#000" stroke-width="0.8"/>
<line x1="585.6" y1="586.77" x2="588.2" y2="586.77" stroke="#000" stroke-width="0.8"/>
<line x1="607.3" y1="578.74" x2="607.3" y2="582.24" stroke="#000" stroke-width="0.8"/>
<line x1="606" y1="578.74" x2="608.6" y2="578.74" stroke="#000" stroke-width="0.8"/>
<line x1="606" y1="582.24" x2="608.6" y2="582.24" stroke="#000" stroke-width="0.8"/>
<line x1="620.9" y1="571.58" x2="620.9" y2="577.42" stroke="#000" stroke-width="0.8"/>
<line x1="619.6" y1="571.58" x2="622.2" y2="571.58" stroke="#000" stroke-width="0.8"/>
<line x1="619.6" y1="577.42" x2="622.2" y2="577.42" stroke="#000" stroke-width="0.8"/>
<line x1="635" y1="557.42" x2="635" y2="564.72" stroke="#000" stroke-width="0.8"/>
<line x1="633.7" y1="557.42" x2="636.3" y2="557.42" stroke="#000" stroke-width="0.8"/>
<line x1="633.7" y1="564.72" x2="636.3" y2="564.72" stroke="#000" stroke-width="0.8"/>
<line x1="655.4" y1="531.14" x2="655.4" y2="542.82" stroke="#000" stroke-width="0.8"/>
<line x1="654.1" y1="531.14" x2="656.7" y2="531.14" stroke="#000" stroke-width="0.8"/>
<line x1="654.1" y1="542.82" x2="656.7" y2="542.82" stroke="#000" stroke-width="0.8"/>
<line x1="669.4" y1="492.6" x2="669.4" y2="510.12" stroke="#000" stroke-width="0.8"/>
<line x1="668.1" y1="492.6" x2="670.7" y2="492.6" stroke="#000" stroke-width="0.8"/>
<line x1="668.1" y1="510.12" x2="670.7" y2="510.12" stroke="#000" stroke-width="0.8"/>
<circle cx="559.2" cy="588.66" r="1.52" fill="#000"/>
<circle cx="572.7" cy="585.89" r="1.52" fill="#000"/>
<circle cx="586.9" cy="585.6" r="1.52" fill="#000"/>
<circle cx="607.3" cy="580.49" r="1.52" fill="#000"/>
<circle cx="620.9" cy="574.5" r="1.52" fill="#000"/>
<circle cx="635" cy="561.07" r="1.52" fill="#000"/>
<circle cx="655.4" cy="536.98" r="1.52" fill="#000"/>
<circle cx="669.4" cy="501.36" r="1.52" fill="#000"/>
<line x1="539.2" y1="493.5" x2="557.3" y2="493.5" stroke="#000" stroke-width="1.1"/>
<circle cx="548.4" cy="493.5" r="1.6" fill="#000"/>
<text x="559.2" y="496.5" font-size="7.8" textLength="25.7" lengthAdjust="spacingAndGlyphs" fill="#222" stroke="#222" stroke-width="0.12">Control</text>
<line x1="539.2" y1="511.5" x2="557.3" y2="511.5" stroke="#8a1f98" stroke-width="1.1"/>
<path d="M548.4,510 L549.9,511.5 L548.4,513 L546.9,511.5 Z" fill="#8a1f98"/>
<text x="559.2" y="514.5" font-size="7.8" textLength="15.7" lengthAdjust="spacingAndGlyphs" fill="#222" stroke="#222" stroke-width="0.12">TMZ</text>
<line x1="539.2" y1="529.5" x2="557.3" y2="529.5" stroke="#2b9bb0" stroke-width="1.1"/>
<rect x="547.1" y="528.2" width="2.6" height="2.6" fill="#17798e"/>
<text x="559.2" y="532.5" font-size="7.8" textLength="42.8" lengthAdjust="spacingAndGlyphs" fill="#222" stroke="#222" stroke-width="0.12">TMZ+SAHA</text>
<line x1="539.2" y1="544.4" x2="557.3" y2="544.4" stroke="#ff7f14" stroke-width="1.1"/>
<path d="M546.9,543.2 L549.9,543.2 L548.4,545.9 Z" fill="#ff7f14"/>
<text x="559.2" y="547.4" font-size="7.8" textLength="48.6" lengthAdjust="spacingAndGlyphs" fill="#222" stroke="#222" stroke-width="0.12">TMZ+DDI199</text>
<line x1="675" y1="498.5" x2="675" y2="587.3" stroke="#999" stroke-width="1.5"/>
<path d="M679.1,556.25 L679.1,558.75 M678.02,556.88 L680.18,558.12 M678.02,558.12 L680.18,556.88 " stroke="#111" stroke-width="0.8" fill="none"/>
<line x1="677.9" y1="551.2" x2="684.6" y2="553.4" stroke="#111" stroke-width="0.75"/>
<path d="M679.1,545.15 L679.1,547.65 M678.02,545.77 L680.18,547.02 M678.02,547.02 L680.18,545.77 " stroke="#8a1f98" stroke-width="0.8" fill="none"/>
<line x1="677.9" y1="539.5" x2="684.6" y2="541.6" stroke="#111" stroke-width="0.75"/>
<path d="M679.1,533.75 L679.1,536.25 M678.02,534.38 L680.18,535.62 M678.02,535.62 L680.18,534.38 " stroke="#2b9bb0" stroke-width="0.8" fill="none"/>
<path d="M679.1,530.15 L679.1,532.65 M678.02,530.77 L680.18,532.02 M678.02,532.02 L680.18,530.77 " stroke="#2b9bb0" stroke-width="0.8" fill="none"/></svg></body></html>
